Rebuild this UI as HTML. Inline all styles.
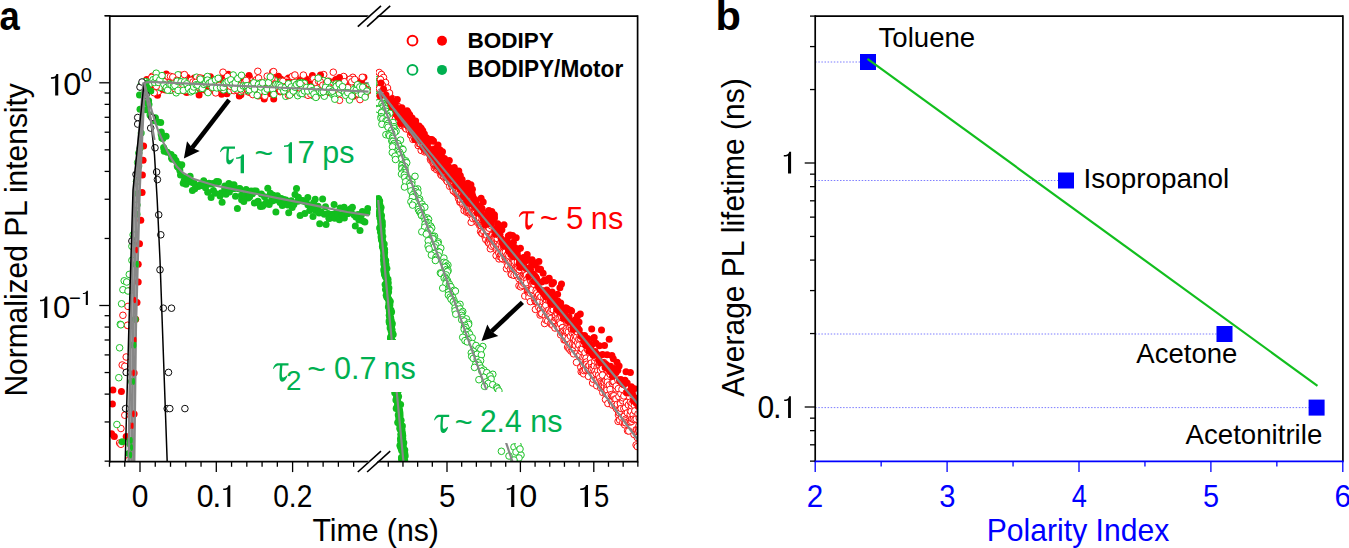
<!DOCTYPE html><html><head><meta charset="utf-8"><style>html,body{margin:0;padding:0;background:#fff;overflow:hidden}svg{display:block}</style></head><body><svg width="1349" height="548" viewBox="0 0 1349 548" font-family='"Liberation Sans", sans-serif'>
<rect width="1349" height="548" fill="#fff"/>
<defs><clipPath id="c1"><rect x="109.8" y="16.2" width="261.2" height="445.40000000000003"/></clipPath><clipPath id="c2"><rect x="376" y="16.2" width="261.6" height="445.40000000000003"/></clipPath></defs>
<g clip-path="url(#c1)"><polyline points="143.6,82.6 150.7,81.4 368.6,83.0" fill="none" stroke="#878787" stroke-width="2.2"/>
<circle cx="142.1" cy="192.6" r="3.5" fill="#ff0000"/>
<circle cx="140.8" cy="220.2" r="3.5" fill="#ff0000"/>
<circle cx="139.5" cy="243.7" r="3.5" fill="#ff0000"/>
<circle cx="138.2" cy="264.2" r="3.5" fill="#ff0000"/>
<circle cx="138.2" cy="282.0" r="3.5" fill="#ff0000"/>
<circle cx="137.0" cy="302.5" r="3.5" fill="#ff0000"/>
<circle cx="135.7" cy="319.2" r="3.5" fill="#ff0000"/>
<circle cx="112.9" cy="390.1" r="3.5" fill="#ff0000"/>
<circle cx="121.4" cy="391.4" r="3.5" fill="#ff0000"/>
<circle cx="112.4" cy="404.1" r="3.5" fill="#ff0000"/>
<circle cx="111.6" cy="433.8" r="3.5" fill="#ff0000"/>
<circle cx="114.3" cy="436.4" r="3.5" fill="#ff0000"/>
<circle cx="126.2" cy="436.4" r="3.5" fill="#ff0000"/>
<circle cx="134.1" cy="372.9" r="3.5" fill="#ff0000"/>
<circle cx="134.1" cy="413.9" r="3.5" fill="#ff0000"/>
<circle cx="131.5" cy="425.8" r="3.5" fill="#ff0000"/>
<circle cx="143.6" cy="145.9" r="3.5" fill="#ff0000"/>
<circle cx="143.1" cy="160.2" r="3.5" fill="#ff0000"/>
<circle cx="142.4" cy="175.0" r="3.5" fill="#ff0000"/>
<circle cx="145.5" cy="83.8" r="3.5" fill="#ff0000"/>
<circle cx="147.4" cy="86.0" r="3.5" fill="#ff0000"/>
<circle cx="150.0" cy="87.5" r="3.5" fill="#ff0000"/>
<circle cx="151.4" cy="81.9" r="3.5" fill="#ff0000"/>
<circle cx="154.3" cy="82.8" r="3.5" fill="#ff0000"/>
<circle cx="155.9" cy="80.2" r="3.5" fill="#ff0000"/>
<circle cx="157.5" cy="95.3" r="3.5" fill="#ff0000"/>
<circle cx="161.1" cy="83.9" r="3.5" fill="#ff0000"/>
<circle cx="162.4" cy="85.8" r="3.5" fill="#ff0000"/>
<circle cx="163.8" cy="79.6" r="3.5" fill="#ff0000"/>
<circle cx="166.3" cy="74.1" r="3.5" fill="#ff0000"/>
<circle cx="168.8" cy="81.1" r="3.5" fill="#ff0000"/>
<circle cx="170.9" cy="90.2" r="3.5" fill="#ff0000"/>
<circle cx="173.0" cy="84.6" r="3.5" fill="#ff0000"/>
<circle cx="175.1" cy="86.9" r="3.5" fill="#ff0000"/>
<circle cx="176.9" cy="85.3" r="3.5" fill="#ff0000"/>
<circle cx="180.0" cy="83.4" r="3.5" fill="#ff0000"/>
<circle cx="180.8" cy="89.8" r="3.5" fill="#ff0000"/>
<circle cx="183.8" cy="86.7" r="3.5" fill="#ff0000"/>
<circle cx="184.5" cy="90.2" r="3.5" fill="#ff0000"/>
<circle cx="187.3" cy="77.5" r="3.5" fill="#ff0000"/>
<circle cx="189.9" cy="83.2" r="3.5" fill="#ff0000"/>
<circle cx="191.2" cy="82.5" r="3.5" fill="#ff0000"/>
<circle cx="193.5" cy="84.1" r="3.5" fill="#ff0000"/>
<circle cx="196.3" cy="87.6" r="3.5" fill="#ff0000"/>
<circle cx="198.4" cy="82.5" r="3.5" fill="#ff0000"/>
<circle cx="200.5" cy="84.9" r="3.5" fill="#ff0000"/>
<circle cx="202.0" cy="78.3" r="3.5" fill="#ff0000"/>
<circle cx="204.2" cy="79.8" r="3.5" fill="#ff0000"/>
<circle cx="206.6" cy="91.1" r="3.5" fill="#ff0000"/>
<circle cx="208.8" cy="81.3" r="3.5" fill="#ff0000"/>
<circle cx="210.4" cy="76.8" r="3.5" fill="#ff0000"/>
<circle cx="212.4" cy="86.5" r="3.5" fill="#ff0000"/>
<circle cx="214.7" cy="82.8" r="3.5" fill="#ff0000"/>
<circle cx="217.5" cy="86.2" r="3.5" fill="#ff0000"/>
<circle cx="218.7" cy="85.6" r="3.5" fill="#ff0000"/>
<circle cx="221.1" cy="85.6" r="3.5" fill="#ff0000"/>
<circle cx="222.9" cy="77.7" r="3.5" fill="#ff0000"/>
<circle cx="225.1" cy="82.4" r="3.5" fill="#ff0000"/>
<circle cx="226.9" cy="93.7" r="3.5" fill="#ff0000"/>
<circle cx="229.8" cy="86.5" r="3.5" fill="#ff0000"/>
<circle cx="231.7" cy="86.5" r="3.5" fill="#ff0000"/>
<circle cx="233.6" cy="84.9" r="3.5" fill="#ff0000"/>
<circle cx="235.9" cy="79.9" r="3.5" fill="#ff0000"/>
<circle cx="238.1" cy="86.3" r="3.5" fill="#ff0000"/>
<circle cx="239.3" cy="95.9" r="3.5" fill="#ff0000"/>
<circle cx="242.5" cy="88.1" r="3.5" fill="#ff0000"/>
<circle cx="243.8" cy="88.1" r="3.5" fill="#ff0000"/>
<circle cx="245.8" cy="83.3" r="3.5" fill="#ff0000"/>
<circle cx="248.3" cy="85.3" r="3.5" fill="#ff0000"/>
<circle cx="250.1" cy="92.5" r="3.5" fill="#ff0000"/>
<circle cx="252.5" cy="85.0" r="3.5" fill="#ff0000"/>
<circle cx="255.1" cy="89.6" r="3.5" fill="#ff0000"/>
<circle cx="257.0" cy="84.1" r="3.5" fill="#ff0000"/>
<circle cx="258.8" cy="88.3" r="3.5" fill="#ff0000"/>
<circle cx="261.3" cy="86.2" r="3.5" fill="#ff0000"/>
<circle cx="263.4" cy="90.9" r="3.5" fill="#ff0000"/>
<circle cx="266.1" cy="84.2" r="3.5" fill="#ff0000"/>
<circle cx="267.8" cy="81.7" r="3.5" fill="#ff0000"/>
<circle cx="269.4" cy="84.2" r="3.5" fill="#ff0000"/>
<circle cx="271.6" cy="78.2" r="3.5" fill="#ff0000"/>
<circle cx="273.7" cy="99.0" r="3.5" fill="#ff0000"/>
<circle cx="275.5" cy="77.8" r="3.5" fill="#ff0000"/>
<circle cx="278.4" cy="76.2" r="3.5" fill="#ff0000"/>
<circle cx="280.7" cy="79.0" r="3.5" fill="#ff0000"/>
<circle cx="281.8" cy="80.0" r="3.5" fill="#ff0000"/>
<circle cx="283.9" cy="91.6" r="3.5" fill="#ff0000"/>
<circle cx="286.6" cy="84.1" r="3.5" fill="#ff0000"/>
<circle cx="288.5" cy="78.0" r="3.5" fill="#ff0000"/>
<circle cx="291.3" cy="87.1" r="3.5" fill="#ff0000"/>
<circle cx="292.7" cy="92.3" r="3.5" fill="#ff0000"/>
<circle cx="294.7" cy="91.9" r="3.5" fill="#ff0000"/>
<circle cx="296.8" cy="81.4" r="3.5" fill="#ff0000"/>
<circle cx="298.1" cy="81.7" r="3.5" fill="#ff0000"/>
<circle cx="301.3" cy="90.6" r="3.5" fill="#ff0000"/>
<circle cx="303.1" cy="90.5" r="3.5" fill="#ff0000"/>
<circle cx="304.7" cy="78.6" r="3.5" fill="#ff0000"/>
<circle cx="307.7" cy="85.0" r="3.5" fill="#ff0000"/>
<circle cx="309.9" cy="83.9" r="3.5" fill="#ff0000"/>
<circle cx="310.8" cy="89.3" r="3.5" fill="#ff0000"/>
<circle cx="313.5" cy="90.0" r="3.5" fill="#ff0000"/>
<circle cx="315.9" cy="88.4" r="3.5" fill="#ff0000"/>
<circle cx="317.8" cy="92.8" r="3.5" fill="#ff0000"/>
<circle cx="320.0" cy="85.8" r="3.5" fill="#ff0000"/>
<circle cx="321.6" cy="88.5" r="3.5" fill="#ff0000"/>
<circle cx="324.3" cy="86.6" r="3.5" fill="#ff0000"/>
<circle cx="325.9" cy="90.0" r="3.5" fill="#ff0000"/>
<circle cx="327.8" cy="91.4" r="3.5" fill="#ff0000"/>
<circle cx="330.4" cy="83.0" r="3.5" fill="#ff0000"/>
<circle cx="332.4" cy="81.9" r="3.5" fill="#ff0000"/>
<circle cx="334.0" cy="85.4" r="3.5" fill="#ff0000"/>
<circle cx="336.9" cy="82.6" r="3.5" fill="#ff0000"/>
<circle cx="339.3" cy="88.1" r="3.5" fill="#ff0000"/>
<circle cx="340.8" cy="83.1" r="3.5" fill="#ff0000"/>
<circle cx="343.3" cy="85.8" r="3.5" fill="#ff0000"/>
<circle cx="344.3" cy="77.2" r="3.5" fill="#ff0000"/>
<circle cx="347.1" cy="86.9" r="3.5" fill="#ff0000"/>
<circle cx="349.0" cy="82.9" r="3.5" fill="#ff0000"/>
<circle cx="351.1" cy="80.4" r="3.5" fill="#ff0000"/>
<circle cx="353.3" cy="96.2" r="3.5" fill="#ff0000"/>
<circle cx="356.3" cy="81.4" r="3.5" fill="#ff0000"/>
<circle cx="358.3" cy="84.0" r="3.5" fill="#ff0000"/>
<circle cx="359.3" cy="90.9" r="3.5" fill="#ff0000"/>
<circle cx="361.6" cy="80.4" r="3.5" fill="#ff0000"/>
<circle cx="363.9" cy="77.3" r="3.5" fill="#ff0000"/>
<circle cx="365.4" cy="95.9" r="3.5" fill="#ff0000"/>
<circle cx="368.2" cy="90.6" r="3.5" fill="#ff0000"/>
<circle cx="128.0" cy="306.4" r="3.3" fill="#fff" stroke="#ff0000" stroke-width="0.95"/>
<circle cx="122.9" cy="315.3" r="3.3" fill="#fff" stroke="#ff0000" stroke-width="0.95"/>
<circle cx="128.0" cy="325.5" r="3.3" fill="#fff" stroke="#ff0000" stroke-width="0.95"/>
<circle cx="127.5" cy="325.3" r="3.3" fill="#fff" stroke="#ff0000" stroke-width="0.95"/>
<circle cx="126.2" cy="357.0" r="3.3" fill="#fff" stroke="#ff0000" stroke-width="0.95"/>
<circle cx="122.2" cy="365.0" r="3.3" fill="#fff" stroke="#ff0000" stroke-width="0.95"/>
<circle cx="124.8" cy="366.3" r="3.3" fill="#fff" stroke="#ff0000" stroke-width="0.95"/>
<circle cx="124.8" cy="415.2" r="3.3" fill="#fff" stroke="#ff0000" stroke-width="0.95"/>
<circle cx="120.9" cy="428.5" r="3.3" fill="#fff" stroke="#ff0000" stroke-width="0.95"/>
<circle cx="119.6" cy="443.0" r="3.3" fill="#fff" stroke="#ff0000" stroke-width="0.95"/>
<circle cx="120.9" cy="444.3" r="3.3" fill="#fff" stroke="#ff0000" stroke-width="0.95"/>
<circle cx="128.8" cy="460.2" r="3.3" fill="#fff" stroke="#ff0000" stroke-width="0.95"/>
<circle cx="131.0" cy="290.0" r="3.3" fill="#fff" stroke="#ff0000" stroke-width="0.95"/>
<circle cx="135.0" cy="250.0" r="3.3" fill="#fff" stroke="#ff0000" stroke-width="0.95"/>
<circle cx="146.4" cy="85.4" r="3.3" fill="#fff" stroke="#ff0000" stroke-width="0.95"/>
<circle cx="148.3" cy="82.9" r="3.3" fill="#fff" stroke="#ff0000" stroke-width="0.95"/>
<circle cx="151.0" cy="82.2" r="3.3" fill="#fff" stroke="#ff0000" stroke-width="0.95"/>
<circle cx="152.3" cy="76.3" r="3.3" fill="#fff" stroke="#ff0000" stroke-width="0.95"/>
<circle cx="155.0" cy="83.5" r="3.3" fill="#fff" stroke="#ff0000" stroke-width="0.95"/>
<circle cx="158.4" cy="91.6" r="3.3" fill="#fff" stroke="#ff0000" stroke-width="0.95"/>
<circle cx="160.1" cy="80.7" r="3.3" fill="#fff" stroke="#ff0000" stroke-width="0.95"/>
<circle cx="162.4" cy="78.6" r="3.3" fill="#fff" stroke="#ff0000" stroke-width="0.95"/>
<circle cx="164.4" cy="85.1" r="3.3" fill="#fff" stroke="#ff0000" stroke-width="0.95"/>
<circle cx="166.2" cy="82.9" r="3.3" fill="#fff" stroke="#ff0000" stroke-width="0.95"/>
<circle cx="168.9" cy="86.2" r="3.3" fill="#fff" stroke="#ff0000" stroke-width="0.95"/>
<circle cx="171.2" cy="78.1" r="3.3" fill="#fff" stroke="#ff0000" stroke-width="0.95"/>
<circle cx="173.8" cy="89.7" r="3.3" fill="#fff" stroke="#ff0000" stroke-width="0.95"/>
<circle cx="176.6" cy="79.1" r="3.3" fill="#fff" stroke="#ff0000" stroke-width="0.95"/>
<circle cx="178.2" cy="84.6" r="3.3" fill="#fff" stroke="#ff0000" stroke-width="0.95"/>
<circle cx="180.4" cy="89.8" r="3.3" fill="#fff" stroke="#ff0000" stroke-width="0.95"/>
<circle cx="183.9" cy="90.7" r="3.3" fill="#fff" stroke="#ff0000" stroke-width="0.95"/>
<circle cx="185.4" cy="80.8" r="3.3" fill="#fff" stroke="#ff0000" stroke-width="0.95"/>
<circle cx="187.7" cy="82.2" r="3.3" fill="#fff" stroke="#ff0000" stroke-width="0.95"/>
<circle cx="190.2" cy="82.1" r="3.3" fill="#fff" stroke="#ff0000" stroke-width="0.95"/>
<circle cx="192.2" cy="83.7" r="3.3" fill="#fff" stroke="#ff0000" stroke-width="0.95"/>
<circle cx="194.4" cy="83.6" r="3.3" fill="#fff" stroke="#ff0000" stroke-width="0.95"/>
<circle cx="196.7" cy="85.3" r="3.3" fill="#fff" stroke="#ff0000" stroke-width="0.95"/>
<circle cx="198.9" cy="90.2" r="3.3" fill="#fff" stroke="#ff0000" stroke-width="0.95"/>
<circle cx="200.6" cy="83.0" r="3.3" fill="#fff" stroke="#ff0000" stroke-width="0.95"/>
<circle cx="203.6" cy="79.8" r="3.3" fill="#fff" stroke="#ff0000" stroke-width="0.95"/>
<circle cx="206.4" cy="85.1" r="3.3" fill="#fff" stroke="#ff0000" stroke-width="0.95"/>
<circle cx="208.5" cy="79.9" r="3.3" fill="#fff" stroke="#ff0000" stroke-width="0.95"/>
<circle cx="210.7" cy="87.2" r="3.3" fill="#fff" stroke="#ff0000" stroke-width="0.95"/>
<circle cx="212.4" cy="81.9" r="3.3" fill="#fff" stroke="#ff0000" stroke-width="0.95"/>
<circle cx="215.4" cy="85.2" r="3.3" fill="#fff" stroke="#ff0000" stroke-width="0.95"/>
<circle cx="217.7" cy="90.1" r="3.3" fill="#fff" stroke="#ff0000" stroke-width="0.95"/>
<circle cx="219.5" cy="87.2" r="3.3" fill="#fff" stroke="#ff0000" stroke-width="0.95"/>
<circle cx="221.9" cy="86.8" r="3.3" fill="#fff" stroke="#ff0000" stroke-width="0.95"/>
<circle cx="224.7" cy="81.9" r="3.3" fill="#fff" stroke="#ff0000" stroke-width="0.95"/>
<circle cx="226.2" cy="86.6" r="3.3" fill="#fff" stroke="#ff0000" stroke-width="0.95"/>
<circle cx="228.6" cy="84.3" r="3.3" fill="#fff" stroke="#ff0000" stroke-width="0.95"/>
<circle cx="231.4" cy="87.8" r="3.3" fill="#fff" stroke="#ff0000" stroke-width="0.95"/>
<circle cx="233.9" cy="85.8" r="3.3" fill="#fff" stroke="#ff0000" stroke-width="0.95"/>
<circle cx="235.5" cy="88.7" r="3.3" fill="#fff" stroke="#ff0000" stroke-width="0.95"/>
<circle cx="238.8" cy="89.8" r="3.3" fill="#fff" stroke="#ff0000" stroke-width="0.95"/>
<circle cx="240.3" cy="84.0" r="3.3" fill="#fff" stroke="#ff0000" stroke-width="0.95"/>
<circle cx="242.9" cy="80.1" r="3.3" fill="#fff" stroke="#ff0000" stroke-width="0.95"/>
<circle cx="244.9" cy="78.7" r="3.3" fill="#fff" stroke="#ff0000" stroke-width="0.95"/>
<circle cx="248.0" cy="91.8" r="3.3" fill="#fff" stroke="#ff0000" stroke-width="0.95"/>
<circle cx="249.6" cy="77.9" r="3.3" fill="#fff" stroke="#ff0000" stroke-width="0.95"/>
<circle cx="252.0" cy="90.4" r="3.3" fill="#fff" stroke="#ff0000" stroke-width="0.95"/>
<circle cx="254.5" cy="84.5" r="3.3" fill="#fff" stroke="#ff0000" stroke-width="0.95"/>
<circle cx="256.4" cy="79.8" r="3.3" fill="#fff" stroke="#ff0000" stroke-width="0.95"/>
<circle cx="258.6" cy="78.1" r="3.3" fill="#fff" stroke="#ff0000" stroke-width="0.95"/>
<circle cx="261.0" cy="82.7" r="3.3" fill="#fff" stroke="#ff0000" stroke-width="0.95"/>
<circle cx="264.1" cy="85.0" r="3.3" fill="#fff" stroke="#ff0000" stroke-width="0.95"/>
<circle cx="265.6" cy="90.1" r="3.3" fill="#fff" stroke="#ff0000" stroke-width="0.95"/>
<circle cx="268.9" cy="80.5" r="3.3" fill="#fff" stroke="#ff0000" stroke-width="0.95"/>
<circle cx="270.1" cy="83.4" r="3.3" fill="#fff" stroke="#ff0000" stroke-width="0.95"/>
<circle cx="272.7" cy="72.0" r="3.3" fill="#fff" stroke="#ff0000" stroke-width="0.95"/>
<circle cx="274.8" cy="86.1" r="3.3" fill="#fff" stroke="#ff0000" stroke-width="0.95"/>
<circle cx="277.0" cy="82.3" r="3.3" fill="#fff" stroke="#ff0000" stroke-width="0.95"/>
<circle cx="280.1" cy="91.7" r="3.3" fill="#fff" stroke="#ff0000" stroke-width="0.95"/>
<circle cx="282.3" cy="84.8" r="3.3" fill="#fff" stroke="#ff0000" stroke-width="0.95"/>
<circle cx="283.9" cy="89.5" r="3.3" fill="#fff" stroke="#ff0000" stroke-width="0.95"/>
<circle cx="286.2" cy="80.1" r="3.3" fill="#fff" stroke="#ff0000" stroke-width="0.95"/>
<circle cx="289.1" cy="85.3" r="3.3" fill="#fff" stroke="#ff0000" stroke-width="0.95"/>
<circle cx="290.6" cy="85.4" r="3.3" fill="#fff" stroke="#ff0000" stroke-width="0.95"/>
<circle cx="293.4" cy="92.2" r="3.3" fill="#fff" stroke="#ff0000" stroke-width="0.95"/>
<circle cx="296.2" cy="78.3" r="3.3" fill="#fff" stroke="#ff0000" stroke-width="0.95"/>
<circle cx="297.6" cy="92.4" r="3.3" fill="#fff" stroke="#ff0000" stroke-width="0.95"/>
<circle cx="299.7" cy="80.5" r="3.3" fill="#fff" stroke="#ff0000" stroke-width="0.95"/>
<circle cx="302.5" cy="86.3" r="3.3" fill="#fff" stroke="#ff0000" stroke-width="0.95"/>
<circle cx="304.4" cy="85.0" r="3.3" fill="#fff" stroke="#ff0000" stroke-width="0.95"/>
<circle cx="306.6" cy="80.4" r="3.3" fill="#fff" stroke="#ff0000" stroke-width="0.95"/>
<circle cx="309.1" cy="82.2" r="3.3" fill="#fff" stroke="#ff0000" stroke-width="0.95"/>
<circle cx="312.1" cy="90.4" r="3.3" fill="#fff" stroke="#ff0000" stroke-width="0.95"/>
<circle cx="314.3" cy="84.7" r="3.3" fill="#fff" stroke="#ff0000" stroke-width="0.95"/>
<circle cx="316.8" cy="96.2" r="3.3" fill="#fff" stroke="#ff0000" stroke-width="0.95"/>
<circle cx="318.5" cy="89.1" r="3.3" fill="#fff" stroke="#ff0000" stroke-width="0.95"/>
<circle cx="321.6" cy="82.0" r="3.3" fill="#fff" stroke="#ff0000" stroke-width="0.95"/>
<circle cx="323.7" cy="74.6" r="3.3" fill="#fff" stroke="#ff0000" stroke-width="0.95"/>
<circle cx="324.7" cy="93.5" r="3.3" fill="#fff" stroke="#ff0000" stroke-width="0.95"/>
<circle cx="328.3" cy="86.4" r="3.3" fill="#fff" stroke="#ff0000" stroke-width="0.95"/>
<circle cx="330.1" cy="90.1" r="3.3" fill="#fff" stroke="#ff0000" stroke-width="0.95"/>
<circle cx="332.7" cy="83.2" r="3.3" fill="#fff" stroke="#ff0000" stroke-width="0.95"/>
<circle cx="335.4" cy="86.7" r="3.3" fill="#fff" stroke="#ff0000" stroke-width="0.95"/>
<circle cx="336.8" cy="97.9" r="3.3" fill="#fff" stroke="#ff0000" stroke-width="0.95"/>
<circle cx="339.4" cy="84.0" r="3.3" fill="#fff" stroke="#ff0000" stroke-width="0.95"/>
<circle cx="341.8" cy="84.4" r="3.3" fill="#fff" stroke="#ff0000" stroke-width="0.95"/>
<circle cx="343.6" cy="76.5" r="3.3" fill="#fff" stroke="#ff0000" stroke-width="0.95"/>
<circle cx="346.5" cy="84.3" r="3.3" fill="#fff" stroke="#ff0000" stroke-width="0.95"/>
<circle cx="348.0" cy="86.0" r="3.3" fill="#fff" stroke="#ff0000" stroke-width="0.95"/>
<circle cx="350.6" cy="80.2" r="3.3" fill="#fff" stroke="#ff0000" stroke-width="0.95"/>
<circle cx="352.8" cy="77.3" r="3.3" fill="#fff" stroke="#ff0000" stroke-width="0.95"/>
<circle cx="355.4" cy="84.5" r="3.3" fill="#fff" stroke="#ff0000" stroke-width="0.95"/>
<circle cx="357.7" cy="90.0" r="3.3" fill="#fff" stroke="#ff0000" stroke-width="0.95"/>
<circle cx="360.0" cy="99.6" r="3.3" fill="#fff" stroke="#ff0000" stroke-width="0.95"/>
<circle cx="362.3" cy="77.3" r="3.3" fill="#fff" stroke="#ff0000" stroke-width="0.95"/>
<circle cx="365.2" cy="89.7" r="3.3" fill="#fff" stroke="#ff0000" stroke-width="0.95"/>
<circle cx="367.0" cy="89.2" r="3.3" fill="#fff" stroke="#ff0000" stroke-width="0.95"/>
<circle cx="146.7" cy="79.5" r="3.5" fill="#ff0000"/>
<circle cx="148.4" cy="82.2" r="3.5" fill="#ff0000"/>
<circle cx="150.5" cy="82.3" r="3.5" fill="#ff0000"/>
<circle cx="153.0" cy="82.9" r="3.5" fill="#ff0000"/>
<circle cx="154.7" cy="83.5" r="3.5" fill="#ff0000"/>
<circle cx="157.0" cy="84.6" r="3.5" fill="#ff0000"/>
<circle cx="159.8" cy="82.4" r="3.5" fill="#ff0000"/>
<circle cx="161.7" cy="77.0" r="3.5" fill="#ff0000"/>
<circle cx="162.6" cy="89.3" r="3.5" fill="#ff0000"/>
<circle cx="165.5" cy="90.1" r="3.5" fill="#ff0000"/>
<circle cx="167.7" cy="80.1" r="3.5" fill="#ff0000"/>
<circle cx="169.8" cy="77.3" r="3.5" fill="#ff0000"/>
<circle cx="170.7" cy="82.2" r="3.5" fill="#ff0000"/>
<circle cx="174.6" cy="82.7" r="3.5" fill="#ff0000"/>
<circle cx="175.7" cy="83.1" r="3.5" fill="#ff0000"/>
<circle cx="178.0" cy="81.8" r="3.5" fill="#ff0000"/>
<circle cx="180.3" cy="75.0" r="3.5" fill="#ff0000"/>
<circle cx="182.3" cy="77.8" r="3.5" fill="#ff0000"/>
<circle cx="184.1" cy="90.4" r="3.5" fill="#ff0000"/>
<circle cx="186.7" cy="92.6" r="3.5" fill="#ff0000"/>
<circle cx="188.8" cy="85.5" r="3.5" fill="#ff0000"/>
<circle cx="190.8" cy="87.7" r="3.5" fill="#ff0000"/>
<circle cx="192.8" cy="84.0" r="3.5" fill="#ff0000"/>
<circle cx="194.3" cy="78.1" r="3.5" fill="#ff0000"/>
<circle cx="196.4" cy="89.3" r="3.5" fill="#ff0000"/>
<circle cx="199.1" cy="95.0" r="3.5" fill="#ff0000"/>
<circle cx="201.0" cy="86.2" r="3.5" fill="#ff0000"/>
<circle cx="203.3" cy="89.6" r="3.5" fill="#ff0000"/>
<circle cx="205.8" cy="86.6" r="3.5" fill="#ff0000"/>
<circle cx="207.5" cy="86.9" r="3.5" fill="#ff0000"/>
<circle cx="209.4" cy="90.6" r="3.5" fill="#ff0000"/>
<circle cx="211.7" cy="80.3" r="3.5" fill="#ff0000"/>
<circle cx="213.2" cy="83.5" r="3.5" fill="#ff0000"/>
<circle cx="215.4" cy="90.3" r="3.5" fill="#ff0000"/>
<circle cx="217.8" cy="79.4" r="3.5" fill="#ff0000"/>
<circle cx="220.0" cy="78.3" r="3.5" fill="#ff0000"/>
<circle cx="221.6" cy="94.2" r="3.5" fill="#ff0000"/>
<circle cx="224.3" cy="83.9" r="3.5" fill="#ff0000"/>
<circle cx="226.1" cy="86.4" r="3.5" fill="#ff0000"/>
<circle cx="228.3" cy="74.3" r="3.5" fill="#ff0000"/>
<circle cx="230.6" cy="83.0" r="3.5" fill="#ff0000"/>
<circle cx="232.8" cy="81.0" r="3.5" fill="#ff0000"/>
<circle cx="235.1" cy="88.7" r="3.5" fill="#ff0000"/>
<circle cx="236.8" cy="85.9" r="3.5" fill="#ff0000"/>
<circle cx="239.1" cy="91.2" r="3.5" fill="#ff0000"/>
<circle cx="240.9" cy="94.8" r="3.5" fill="#ff0000"/>
<circle cx="242.6" cy="82.2" r="3.5" fill="#ff0000"/>
<circle cx="245.3" cy="81.7" r="3.5" fill="#ff0000"/>
<circle cx="247.4" cy="81.6" r="3.5" fill="#ff0000"/>
<circle cx="249.0" cy="75.6" r="3.5" fill="#ff0000"/>
<circle cx="251.5" cy="83.9" r="3.5" fill="#ff0000"/>
<circle cx="253.4" cy="93.5" r="3.5" fill="#ff0000"/>
<circle cx="255.9" cy="85.7" r="3.5" fill="#ff0000"/>
<circle cx="258.3" cy="96.0" r="3.5" fill="#ff0000"/>
<circle cx="260.3" cy="88.4" r="3.5" fill="#ff0000"/>
<circle cx="262.2" cy="93.5" r="3.5" fill="#ff0000"/>
<circle cx="264.2" cy="98.9" r="3.5" fill="#ff0000"/>
<circle cx="266.7" cy="80.9" r="3.5" fill="#ff0000"/>
<circle cx="268.7" cy="92.2" r="3.5" fill="#ff0000"/>
<circle cx="270.7" cy="93.7" r="3.5" fill="#ff0000"/>
<circle cx="272.8" cy="87.9" r="3.5" fill="#ff0000"/>
<circle cx="274.7" cy="90.0" r="3.5" fill="#ff0000"/>
<circle cx="276.2" cy="82.1" r="3.5" fill="#ff0000"/>
<circle cx="278.9" cy="85.9" r="3.5" fill="#ff0000"/>
<circle cx="280.7" cy="89.0" r="3.5" fill="#ff0000"/>
<circle cx="283.3" cy="87.7" r="3.5" fill="#ff0000"/>
<circle cx="285.5" cy="92.7" r="3.5" fill="#ff0000"/>
<circle cx="286.7" cy="81.9" r="3.5" fill="#ff0000"/>
<circle cx="288.7" cy="84.3" r="3.5" fill="#ff0000"/>
<circle cx="291.9" cy="80.3" r="3.5" fill="#ff0000"/>
<circle cx="293.9" cy="86.2" r="3.5" fill="#ff0000"/>
<circle cx="295.6" cy="87.6" r="3.5" fill="#ff0000"/>
<circle cx="297.7" cy="84.9" r="3.5" fill="#ff0000"/>
<circle cx="299.9" cy="80.7" r="3.5" fill="#ff0000"/>
<circle cx="301.8" cy="89.4" r="3.5" fill="#ff0000"/>
<circle cx="303.9" cy="80.5" r="3.5" fill="#ff0000"/>
<circle cx="306.3" cy="79.0" r="3.5" fill="#ff0000"/>
<circle cx="307.7" cy="83.6" r="3.5" fill="#ff0000"/>
<circle cx="310.6" cy="83.9" r="3.5" fill="#ff0000"/>
<circle cx="312.4" cy="75.5" r="3.5" fill="#ff0000"/>
<circle cx="314.2" cy="88.2" r="3.5" fill="#ff0000"/>
<circle cx="316.2" cy="78.7" r="3.5" fill="#ff0000"/>
<circle cx="318.8" cy="82.4" r="3.5" fill="#ff0000"/>
<circle cx="320.5" cy="75.0" r="3.5" fill="#ff0000"/>
<circle cx="322.7" cy="82.3" r="3.5" fill="#ff0000"/>
<circle cx="324.7" cy="82.1" r="3.5" fill="#ff0000"/>
<circle cx="327.6" cy="92.5" r="3.5" fill="#ff0000"/>
<circle cx="328.5" cy="81.0" r="3.5" fill="#ff0000"/>
<circle cx="331.3" cy="85.9" r="3.5" fill="#ff0000"/>
<circle cx="333.7" cy="85.1" r="3.5" fill="#ff0000"/>
<circle cx="335.8" cy="79.4" r="3.5" fill="#ff0000"/>
<circle cx="337.9" cy="87.7" r="3.5" fill="#ff0000"/>
<circle cx="339.5" cy="77.6" r="3.5" fill="#ff0000"/>
<circle cx="342.4" cy="88.9" r="3.5" fill="#ff0000"/>
<circle cx="343.5" cy="81.8" r="3.5" fill="#ff0000"/>
<circle cx="346.4" cy="85.1" r="3.5" fill="#ff0000"/>
<circle cx="348.5" cy="89.8" r="3.5" fill="#ff0000"/>
<circle cx="350.7" cy="90.6" r="3.5" fill="#ff0000"/>
<circle cx="352.5" cy="88.6" r="3.5" fill="#ff0000"/>
<circle cx="354.6" cy="85.2" r="3.5" fill="#ff0000"/>
<circle cx="356.6" cy="82.3" r="3.5" fill="#ff0000"/>
<circle cx="358.7" cy="87.1" r="3.5" fill="#ff0000"/>
<circle cx="361.7" cy="88.1" r="3.5" fill="#ff0000"/>
<circle cx="362.7" cy="86.2" r="3.5" fill="#ff0000"/>
<circle cx="365.7" cy="87.4" r="3.5" fill="#ff0000"/>
<circle cx="366.9" cy="89.2" r="3.5" fill="#ff0000"/>
<circle cx="133.1" cy="234.8" r="3.3" fill="#fff" stroke="#12be1e" stroke-width="0.95"/>
<circle cx="131.9" cy="246.3" r="3.3" fill="#fff" stroke="#12be1e" stroke-width="0.95"/>
<circle cx="131.9" cy="260.3" r="3.3" fill="#fff" stroke="#12be1e" stroke-width="0.95"/>
<circle cx="129.3" cy="274.4" r="3.3" fill="#fff" stroke="#12be1e" stroke-width="0.95"/>
<circle cx="124.2" cy="280.8" r="3.3" fill="#fff" stroke="#12be1e" stroke-width="0.95"/>
<circle cx="126.7" cy="282.0" r="3.3" fill="#fff" stroke="#12be1e" stroke-width="0.95"/>
<circle cx="122.9" cy="289.7" r="3.3" fill="#fff" stroke="#12be1e" stroke-width="0.95"/>
<circle cx="128.0" cy="291.0" r="3.3" fill="#fff" stroke="#12be1e" stroke-width="0.95"/>
<circle cx="121.6" cy="303.8" r="3.3" fill="#fff" stroke="#12be1e" stroke-width="0.95"/>
<circle cx="120.3" cy="324.3" r="3.3" fill="#fff" stroke="#12be1e" stroke-width="0.95"/>
<circle cx="120.9" cy="324.8" r="3.3" fill="#fff" stroke="#12be1e" stroke-width="0.95"/>
<circle cx="119.6" cy="347.8" r="3.3" fill="#fff" stroke="#12be1e" stroke-width="0.95"/>
<circle cx="118.8" cy="377.7" r="3.3" fill="#fff" stroke="#12be1e" stroke-width="0.95"/>
<circle cx="116.9" cy="424.5" r="3.3" fill="#fff" stroke="#12be1e" stroke-width="0.95"/>
<circle cx="138.8" cy="153.0" r="3.3" fill="#fff" stroke="#12be1e" stroke-width="0.95"/>
<circle cx="137.7" cy="162.5" r="3.3" fill="#fff" stroke="#12be1e" stroke-width="0.95"/>
<circle cx="136.5" cy="181.5" r="3.3" fill="#fff" stroke="#12be1e" stroke-width="0.95"/>
<circle cx="137.0" cy="205.0" r="3.3" fill="#fff" stroke="#12be1e" stroke-width="0.95"/>
<circle cx="145.5" cy="81.5" r="3.3" fill="#fff" stroke="#12be1e" stroke-width="0.95"/>
<circle cx="147.7" cy="83.1" r="3.3" fill="#fff" stroke="#12be1e" stroke-width="0.95"/>
<circle cx="149.8" cy="81.3" r="3.3" fill="#fff" stroke="#12be1e" stroke-width="0.95"/>
<circle cx="150.8" cy="81.3" r="3.3" fill="#fff" stroke="#12be1e" stroke-width="0.95"/>
<circle cx="153.4" cy="83.3" r="3.3" fill="#fff" stroke="#12be1e" stroke-width="0.95"/>
<circle cx="156.2" cy="73.2" r="3.3" fill="#fff" stroke="#12be1e" stroke-width="0.95"/>
<circle cx="157.2" cy="81.9" r="3.3" fill="#fff" stroke="#12be1e" stroke-width="0.95"/>
<circle cx="159.1" cy="87.2" r="3.3" fill="#fff" stroke="#12be1e" stroke-width="0.95"/>
<circle cx="160.6" cy="87.2" r="3.3" fill="#fff" stroke="#12be1e" stroke-width="0.95"/>
<circle cx="163.1" cy="81.0" r="3.3" fill="#fff" stroke="#12be1e" stroke-width="0.95"/>
<circle cx="165.3" cy="88.6" r="3.3" fill="#fff" stroke="#12be1e" stroke-width="0.95"/>
<circle cx="167.3" cy="84.1" r="3.3" fill="#fff" stroke="#12be1e" stroke-width="0.95"/>
<circle cx="168.6" cy="77.8" r="3.3" fill="#fff" stroke="#12be1e" stroke-width="0.95"/>
<circle cx="169.9" cy="90.4" r="3.3" fill="#fff" stroke="#12be1e" stroke-width="0.95"/>
<circle cx="171.7" cy="85.6" r="3.3" fill="#fff" stroke="#12be1e" stroke-width="0.95"/>
<circle cx="174.7" cy="82.0" r="3.3" fill="#fff" stroke="#12be1e" stroke-width="0.95"/>
<circle cx="176.2" cy="92.8" r="3.3" fill="#fff" stroke="#12be1e" stroke-width="0.95"/>
<circle cx="178.0" cy="74.8" r="3.3" fill="#fff" stroke="#12be1e" stroke-width="0.95"/>
<circle cx="180.6" cy="88.8" r="3.3" fill="#fff" stroke="#12be1e" stroke-width="0.95"/>
<circle cx="181.8" cy="87.8" r="3.3" fill="#fff" stroke="#12be1e" stroke-width="0.95"/>
<circle cx="183.6" cy="77.3" r="3.3" fill="#fff" stroke="#12be1e" stroke-width="0.95"/>
<circle cx="186.0" cy="86.3" r="3.3" fill="#fff" stroke="#12be1e" stroke-width="0.95"/>
<circle cx="187.3" cy="83.8" r="3.3" fill="#fff" stroke="#12be1e" stroke-width="0.95"/>
<circle cx="189.3" cy="83.3" r="3.3" fill="#fff" stroke="#12be1e" stroke-width="0.95"/>
<circle cx="191.4" cy="80.7" r="3.3" fill="#fff" stroke="#12be1e" stroke-width="0.95"/>
<circle cx="193.9" cy="81.7" r="3.3" fill="#fff" stroke="#12be1e" stroke-width="0.95"/>
<circle cx="194.8" cy="90.1" r="3.3" fill="#fff" stroke="#12be1e" stroke-width="0.95"/>
<circle cx="196.7" cy="77.2" r="3.3" fill="#fff" stroke="#12be1e" stroke-width="0.95"/>
<circle cx="198.9" cy="87.6" r="3.3" fill="#fff" stroke="#12be1e" stroke-width="0.95"/>
<circle cx="200.8" cy="88.5" r="3.3" fill="#fff" stroke="#12be1e" stroke-width="0.95"/>
<circle cx="203.5" cy="84.0" r="3.3" fill="#fff" stroke="#12be1e" stroke-width="0.95"/>
<circle cx="205.5" cy="80.9" r="3.3" fill="#fff" stroke="#12be1e" stroke-width="0.95"/>
<circle cx="207.4" cy="76.5" r="3.3" fill="#fff" stroke="#12be1e" stroke-width="0.95"/>
<circle cx="208.0" cy="92.6" r="3.3" fill="#fff" stroke="#12be1e" stroke-width="0.95"/>
<circle cx="210.5" cy="85.7" r="3.3" fill="#fff" stroke="#12be1e" stroke-width="0.95"/>
<circle cx="212.5" cy="88.1" r="3.3" fill="#fff" stroke="#12be1e" stroke-width="0.95"/>
<circle cx="214.0" cy="85.8" r="3.3" fill="#fff" stroke="#12be1e" stroke-width="0.95"/>
<circle cx="215.3" cy="82.9" r="3.3" fill="#fff" stroke="#12be1e" stroke-width="0.95"/>
<circle cx="218.6" cy="87.8" r="3.3" fill="#fff" stroke="#12be1e" stroke-width="0.95"/>
<circle cx="220.3" cy="85.8" r="3.3" fill="#fff" stroke="#12be1e" stroke-width="0.95"/>
<circle cx="222.5" cy="87.8" r="3.3" fill="#fff" stroke="#12be1e" stroke-width="0.95"/>
<circle cx="223.5" cy="89.9" r="3.3" fill="#fff" stroke="#12be1e" stroke-width="0.95"/>
<circle cx="225.3" cy="85.5" r="3.3" fill="#fff" stroke="#12be1e" stroke-width="0.95"/>
<circle cx="227.4" cy="84.2" r="3.3" fill="#fff" stroke="#12be1e" stroke-width="0.95"/>
<circle cx="230.4" cy="90.6" r="3.3" fill="#fff" stroke="#12be1e" stroke-width="0.95"/>
<circle cx="231.4" cy="81.0" r="3.3" fill="#fff" stroke="#12be1e" stroke-width="0.95"/>
<circle cx="233.2" cy="75.0" r="3.3" fill="#fff" stroke="#12be1e" stroke-width="0.95"/>
<circle cx="235.3" cy="85.7" r="3.3" fill="#fff" stroke="#12be1e" stroke-width="0.95"/>
<circle cx="237.0" cy="89.1" r="3.3" fill="#fff" stroke="#12be1e" stroke-width="0.95"/>
<circle cx="239.4" cy="83.9" r="3.3" fill="#fff" stroke="#12be1e" stroke-width="0.95"/>
<circle cx="240.7" cy="91.6" r="3.3" fill="#fff" stroke="#12be1e" stroke-width="0.95"/>
<circle cx="242.5" cy="85.5" r="3.3" fill="#fff" stroke="#12be1e" stroke-width="0.95"/>
<circle cx="244.6" cy="83.5" r="3.3" fill="#fff" stroke="#12be1e" stroke-width="0.95"/>
<circle cx="246.6" cy="86.3" r="3.3" fill="#fff" stroke="#12be1e" stroke-width="0.95"/>
<circle cx="248.3" cy="90.8" r="3.3" fill="#fff" stroke="#12be1e" stroke-width="0.95"/>
<circle cx="250.1" cy="91.2" r="3.3" fill="#fff" stroke="#12be1e" stroke-width="0.95"/>
<circle cx="252.3" cy="87.7" r="3.3" fill="#fff" stroke="#12be1e" stroke-width="0.95"/>
<circle cx="254.2" cy="84.5" r="3.3" fill="#fff" stroke="#12be1e" stroke-width="0.95"/>
<circle cx="255.4" cy="85.3" r="3.3" fill="#fff" stroke="#12be1e" stroke-width="0.95"/>
<circle cx="257.4" cy="83.5" r="3.3" fill="#fff" stroke="#12be1e" stroke-width="0.95"/>
<circle cx="260.0" cy="87.0" r="3.3" fill="#fff" stroke="#12be1e" stroke-width="0.95"/>
<circle cx="261.5" cy="85.3" r="3.3" fill="#fff" stroke="#12be1e" stroke-width="0.95"/>
<circle cx="263.4" cy="84.1" r="3.3" fill="#fff" stroke="#12be1e" stroke-width="0.95"/>
<circle cx="265.6" cy="84.3" r="3.3" fill="#fff" stroke="#12be1e" stroke-width="0.95"/>
<circle cx="267.4" cy="79.7" r="3.3" fill="#fff" stroke="#12be1e" stroke-width="0.95"/>
<circle cx="270.0" cy="84.7" r="3.3" fill="#fff" stroke="#12be1e" stroke-width="0.95"/>
<circle cx="271.6" cy="84.1" r="3.3" fill="#fff" stroke="#12be1e" stroke-width="0.95"/>
<circle cx="273.0" cy="87.2" r="3.3" fill="#fff" stroke="#12be1e" stroke-width="0.95"/>
<circle cx="274.3" cy="80.2" r="3.3" fill="#fff" stroke="#12be1e" stroke-width="0.95"/>
<circle cx="276.9" cy="86.0" r="3.3" fill="#fff" stroke="#12be1e" stroke-width="0.95"/>
<circle cx="278.9" cy="87.1" r="3.3" fill="#fff" stroke="#12be1e" stroke-width="0.95"/>
<circle cx="281.2" cy="81.4" r="3.3" fill="#fff" stroke="#12be1e" stroke-width="0.95"/>
<circle cx="282.7" cy="91.5" r="3.3" fill="#fff" stroke="#12be1e" stroke-width="0.95"/>
<circle cx="284.9" cy="92.2" r="3.3" fill="#fff" stroke="#12be1e" stroke-width="0.95"/>
<circle cx="285.8" cy="96.3" r="3.3" fill="#fff" stroke="#12be1e" stroke-width="0.95"/>
<circle cx="288.2" cy="89.0" r="3.3" fill="#fff" stroke="#12be1e" stroke-width="0.95"/>
<circle cx="290.1" cy="89.7" r="3.3" fill="#fff" stroke="#12be1e" stroke-width="0.95"/>
<circle cx="291.7" cy="86.1" r="3.3" fill="#fff" stroke="#12be1e" stroke-width="0.95"/>
<circle cx="294.1" cy="82.6" r="3.3" fill="#fff" stroke="#12be1e" stroke-width="0.95"/>
<circle cx="296.2" cy="90.7" r="3.3" fill="#fff" stroke="#12be1e" stroke-width="0.95"/>
<circle cx="297.7" cy="95.7" r="3.3" fill="#fff" stroke="#12be1e" stroke-width="0.95"/>
<circle cx="300.1" cy="93.2" r="3.3" fill="#fff" stroke="#12be1e" stroke-width="0.95"/>
<circle cx="301.6" cy="82.5" r="3.3" fill="#fff" stroke="#12be1e" stroke-width="0.95"/>
<circle cx="304.4" cy="83.3" r="3.3" fill="#fff" stroke="#12be1e" stroke-width="0.95"/>
<circle cx="305.6" cy="94.2" r="3.3" fill="#fff" stroke="#12be1e" stroke-width="0.95"/>
<circle cx="306.8" cy="89.9" r="3.3" fill="#fff" stroke="#12be1e" stroke-width="0.95"/>
<circle cx="308.8" cy="92.4" r="3.3" fill="#fff" stroke="#12be1e" stroke-width="0.95"/>
<circle cx="311.5" cy="87.3" r="3.3" fill="#fff" stroke="#12be1e" stroke-width="0.95"/>
<circle cx="313.1" cy="95.7" r="3.3" fill="#fff" stroke="#12be1e" stroke-width="0.95"/>
<circle cx="315.3" cy="86.5" r="3.3" fill="#fff" stroke="#12be1e" stroke-width="0.95"/>
<circle cx="316.9" cy="88.3" r="3.3" fill="#fff" stroke="#12be1e" stroke-width="0.95"/>
<circle cx="318.6" cy="92.4" r="3.3" fill="#fff" stroke="#12be1e" stroke-width="0.95"/>
<circle cx="320.7" cy="84.0" r="3.3" fill="#fff" stroke="#12be1e" stroke-width="0.95"/>
<circle cx="323.6" cy="80.7" r="3.3" fill="#fff" stroke="#12be1e" stroke-width="0.95"/>
<circle cx="324.3" cy="96.2" r="3.3" fill="#fff" stroke="#12be1e" stroke-width="0.95"/>
<circle cx="326.6" cy="91.2" r="3.3" fill="#fff" stroke="#12be1e" stroke-width="0.95"/>
<circle cx="328.6" cy="87.5" r="3.3" fill="#fff" stroke="#12be1e" stroke-width="0.95"/>
<circle cx="330.2" cy="85.0" r="3.3" fill="#fff" stroke="#12be1e" stroke-width="0.95"/>
<circle cx="332.7" cy="94.6" r="3.3" fill="#fff" stroke="#12be1e" stroke-width="0.95"/>
<circle cx="334.1" cy="94.0" r="3.3" fill="#fff" stroke="#12be1e" stroke-width="0.95"/>
<circle cx="336.2" cy="83.9" r="3.3" fill="#fff" stroke="#12be1e" stroke-width="0.95"/>
<circle cx="338.0" cy="91.2" r="3.3" fill="#fff" stroke="#12be1e" stroke-width="0.95"/>
<circle cx="339.4" cy="93.1" r="3.3" fill="#fff" stroke="#12be1e" stroke-width="0.95"/>
<circle cx="341.7" cy="88.4" r="3.3" fill="#fff" stroke="#12be1e" stroke-width="0.95"/>
<circle cx="342.9" cy="90.8" r="3.3" fill="#fff" stroke="#12be1e" stroke-width="0.95"/>
<circle cx="345.3" cy="89.6" r="3.3" fill="#fff" stroke="#12be1e" stroke-width="0.95"/>
<circle cx="347.3" cy="93.9" r="3.3" fill="#fff" stroke="#12be1e" stroke-width="0.95"/>
<circle cx="349.1" cy="90.8" r="3.3" fill="#fff" stroke="#12be1e" stroke-width="0.95"/>
<circle cx="350.6" cy="87.3" r="3.3" fill="#fff" stroke="#12be1e" stroke-width="0.95"/>
<circle cx="353.2" cy="94.3" r="3.3" fill="#fff" stroke="#12be1e" stroke-width="0.95"/>
<circle cx="354.4" cy="89.6" r="3.3" fill="#fff" stroke="#12be1e" stroke-width="0.95"/>
<circle cx="356.8" cy="91.7" r="3.3" fill="#fff" stroke="#12be1e" stroke-width="0.95"/>
<circle cx="358.1" cy="94.0" r="3.3" fill="#fff" stroke="#12be1e" stroke-width="0.95"/>
<circle cx="359.7" cy="88.3" r="3.3" fill="#fff" stroke="#12be1e" stroke-width="0.95"/>
<circle cx="362.0" cy="90.2" r="3.3" fill="#fff" stroke="#12be1e" stroke-width="0.95"/>
<circle cx="364.6" cy="86.7" r="3.3" fill="#fff" stroke="#12be1e" stroke-width="0.95"/>
<circle cx="366.1" cy="86.7" r="3.3" fill="#fff" stroke="#12be1e" stroke-width="0.95"/>
<circle cx="367.8" cy="89.6" r="3.3" fill="#fff" stroke="#12be1e" stroke-width="0.95"/>
<circle cx="146.9" cy="85.2" r="3.3" fill="#fff" stroke="#ff0000" stroke-width="0.95"/>
<circle cx="149.9" cy="84.5" r="3.3" fill="#fff" stroke="#ff0000" stroke-width="0.95"/>
<circle cx="151.7" cy="77.5" r="3.3" fill="#fff" stroke="#ff0000" stroke-width="0.95"/>
<circle cx="154.2" cy="92.8" r="3.3" fill="#fff" stroke="#ff0000" stroke-width="0.95"/>
<circle cx="156.3" cy="86.3" r="3.3" fill="#fff" stroke="#ff0000" stroke-width="0.95"/>
<circle cx="158.7" cy="81.5" r="3.3" fill="#fff" stroke="#ff0000" stroke-width="0.95"/>
<circle cx="160.9" cy="77.8" r="3.3" fill="#fff" stroke="#ff0000" stroke-width="0.95"/>
<circle cx="164.1" cy="81.7" r="3.3" fill="#fff" stroke="#ff0000" stroke-width="0.95"/>
<circle cx="165.7" cy="87.2" r="3.3" fill="#fff" stroke="#ff0000" stroke-width="0.95"/>
<circle cx="168.0" cy="76.3" r="3.3" fill="#fff" stroke="#ff0000" stroke-width="0.95"/>
<circle cx="170.5" cy="76.4" r="3.3" fill="#fff" stroke="#ff0000" stroke-width="0.95"/>
<circle cx="172.8" cy="77.0" r="3.3" fill="#fff" stroke="#ff0000" stroke-width="0.95"/>
<circle cx="174.8" cy="88.6" r="3.3" fill="#fff" stroke="#ff0000" stroke-width="0.95"/>
<circle cx="176.9" cy="80.3" r="3.3" fill="#fff" stroke="#ff0000" stroke-width="0.95"/>
<circle cx="179.0" cy="85.5" r="3.3" fill="#fff" stroke="#ff0000" stroke-width="0.95"/>
<circle cx="182.7" cy="84.3" r="3.3" fill="#fff" stroke="#ff0000" stroke-width="0.95"/>
<circle cx="184.4" cy="74.6" r="3.3" fill="#fff" stroke="#ff0000" stroke-width="0.95"/>
<circle cx="186.8" cy="90.4" r="3.3" fill="#fff" stroke="#ff0000" stroke-width="0.95"/>
<circle cx="189.7" cy="85.7" r="3.3" fill="#fff" stroke="#ff0000" stroke-width="0.95"/>
<circle cx="191.2" cy="80.3" r="3.3" fill="#fff" stroke="#ff0000" stroke-width="0.95"/>
<circle cx="193.1" cy="82.0" r="3.3" fill="#fff" stroke="#ff0000" stroke-width="0.95"/>
<circle cx="195.5" cy="82.5" r="3.3" fill="#fff" stroke="#ff0000" stroke-width="0.95"/>
<circle cx="197.8" cy="86.8" r="3.3" fill="#fff" stroke="#ff0000" stroke-width="0.95"/>
<circle cx="199.9" cy="77.9" r="3.3" fill="#fff" stroke="#ff0000" stroke-width="0.95"/>
<circle cx="202.4" cy="86.3" r="3.3" fill="#fff" stroke="#ff0000" stroke-width="0.95"/>
<circle cx="205.2" cy="82.4" r="3.3" fill="#fff" stroke="#ff0000" stroke-width="0.95"/>
<circle cx="207.6" cy="83.1" r="3.3" fill="#fff" stroke="#ff0000" stroke-width="0.95"/>
<circle cx="209.3" cy="83.3" r="3.3" fill="#fff" stroke="#ff0000" stroke-width="0.95"/>
<circle cx="211.5" cy="87.6" r="3.3" fill="#fff" stroke="#ff0000" stroke-width="0.95"/>
<circle cx="214.1" cy="89.2" r="3.3" fill="#fff" stroke="#ff0000" stroke-width="0.95"/>
<circle cx="215.7" cy="92.9" r="3.3" fill="#fff" stroke="#ff0000" stroke-width="0.95"/>
<circle cx="219.2" cy="85.4" r="3.3" fill="#fff" stroke="#ff0000" stroke-width="0.95"/>
<circle cx="220.7" cy="87.7" r="3.3" fill="#fff" stroke="#ff0000" stroke-width="0.95"/>
<circle cx="223.0" cy="72.2" r="3.3" fill="#fff" stroke="#ff0000" stroke-width="0.95"/>
<circle cx="226.2" cy="85.6" r="3.3" fill="#fff" stroke="#ff0000" stroke-width="0.95"/>
<circle cx="227.4" cy="76.4" r="3.3" fill="#fff" stroke="#ff0000" stroke-width="0.95"/>
<circle cx="230.2" cy="86.2" r="3.3" fill="#fff" stroke="#ff0000" stroke-width="0.95"/>
<circle cx="232.9" cy="82.4" r="3.3" fill="#fff" stroke="#ff0000" stroke-width="0.95"/>
<circle cx="234.1" cy="90.6" r="3.3" fill="#fff" stroke="#ff0000" stroke-width="0.95"/>
<circle cx="237.0" cy="90.0" r="3.3" fill="#fff" stroke="#ff0000" stroke-width="0.95"/>
<circle cx="238.7" cy="85.7" r="3.3" fill="#fff" stroke="#ff0000" stroke-width="0.95"/>
<circle cx="241.6" cy="90.0" r="3.3" fill="#fff" stroke="#ff0000" stroke-width="0.95"/>
<circle cx="244.6" cy="83.0" r="3.3" fill="#fff" stroke="#ff0000" stroke-width="0.95"/>
<circle cx="246.1" cy="80.4" r="3.3" fill="#fff" stroke="#ff0000" stroke-width="0.95"/>
<circle cx="247.6" cy="88.7" r="3.3" fill="#fff" stroke="#ff0000" stroke-width="0.95"/>
<circle cx="250.3" cy="89.0" r="3.3" fill="#fff" stroke="#ff0000" stroke-width="0.95"/>
<circle cx="252.8" cy="94.6" r="3.3" fill="#fff" stroke="#ff0000" stroke-width="0.95"/>
<circle cx="255.8" cy="86.1" r="3.3" fill="#fff" stroke="#ff0000" stroke-width="0.95"/>
<circle cx="257.8" cy="71.3" r="3.3" fill="#fff" stroke="#ff0000" stroke-width="0.95"/>
<circle cx="260.4" cy="91.1" r="3.3" fill="#fff" stroke="#ff0000" stroke-width="0.95"/>
<circle cx="262.9" cy="86.7" r="3.3" fill="#fff" stroke="#ff0000" stroke-width="0.95"/>
<circle cx="264.9" cy="96.2" r="3.3" fill="#fff" stroke="#ff0000" stroke-width="0.95"/>
<circle cx="267.2" cy="76.2" r="3.3" fill="#fff" stroke="#ff0000" stroke-width="0.95"/>
<circle cx="269.5" cy="85.5" r="3.3" fill="#fff" stroke="#ff0000" stroke-width="0.95"/>
<circle cx="271.9" cy="78.1" r="3.3" fill="#fff" stroke="#ff0000" stroke-width="0.95"/>
<circle cx="273.6" cy="71.6" r="3.3" fill="#fff" stroke="#ff0000" stroke-width="0.95"/>
<circle cx="275.2" cy="84.1" r="3.3" fill="#fff" stroke="#ff0000" stroke-width="0.95"/>
<circle cx="278.6" cy="87.3" r="3.3" fill="#fff" stroke="#ff0000" stroke-width="0.95"/>
<circle cx="280.5" cy="90.8" r="3.3" fill="#fff" stroke="#ff0000" stroke-width="0.95"/>
<circle cx="282.8" cy="81.3" r="3.3" fill="#fff" stroke="#ff0000" stroke-width="0.95"/>
<circle cx="285.2" cy="86.6" r="3.3" fill="#fff" stroke="#ff0000" stroke-width="0.95"/>
<circle cx="288.5" cy="95.4" r="3.3" fill="#fff" stroke="#ff0000" stroke-width="0.95"/>
<circle cx="289.6" cy="93.9" r="3.3" fill="#fff" stroke="#ff0000" stroke-width="0.95"/>
<circle cx="292.3" cy="76.4" r="3.3" fill="#fff" stroke="#ff0000" stroke-width="0.95"/>
<circle cx="294.9" cy="75.0" r="3.3" fill="#fff" stroke="#ff0000" stroke-width="0.95"/>
<circle cx="296.8" cy="84.7" r="3.3" fill="#fff" stroke="#ff0000" stroke-width="0.95"/>
<circle cx="299.2" cy="87.8" r="3.3" fill="#fff" stroke="#ff0000" stroke-width="0.95"/>
<circle cx="302.1" cy="85.6" r="3.3" fill="#fff" stroke="#ff0000" stroke-width="0.95"/>
<circle cx="303.4" cy="75.1" r="3.3" fill="#fff" stroke="#ff0000" stroke-width="0.95"/>
<circle cx="306.3" cy="88.6" r="3.3" fill="#fff" stroke="#ff0000" stroke-width="0.95"/>
<circle cx="308.0" cy="95.3" r="3.3" fill="#fff" stroke="#ff0000" stroke-width="0.95"/>
<circle cx="310.8" cy="94.2" r="3.3" fill="#fff" stroke="#ff0000" stroke-width="0.95"/>
<circle cx="313.6" cy="78.6" r="3.3" fill="#fff" stroke="#ff0000" stroke-width="0.95"/>
<circle cx="315.6" cy="82.4" r="3.3" fill="#fff" stroke="#ff0000" stroke-width="0.95"/>
<circle cx="318.6" cy="81.4" r="3.3" fill="#fff" stroke="#ff0000" stroke-width="0.95"/>
<circle cx="320.4" cy="82.0" r="3.3" fill="#fff" stroke="#ff0000" stroke-width="0.95"/>
<circle cx="322.8" cy="85.2" r="3.3" fill="#fff" stroke="#ff0000" stroke-width="0.95"/>
<circle cx="323.6" cy="91.5" r="3.3" fill="#fff" stroke="#ff0000" stroke-width="0.95"/>
<circle cx="326.2" cy="84.0" r="3.3" fill="#fff" stroke="#ff0000" stroke-width="0.95"/>
<circle cx="329.0" cy="87.0" r="3.3" fill="#fff" stroke="#ff0000" stroke-width="0.95"/>
<circle cx="331.6" cy="88.9" r="3.3" fill="#fff" stroke="#ff0000" stroke-width="0.95"/>
<circle cx="333.3" cy="72.2" r="3.3" fill="#fff" stroke="#ff0000" stroke-width="0.95"/>
<circle cx="336.1" cy="88.9" r="3.3" fill="#fff" stroke="#ff0000" stroke-width="0.95"/>
<circle cx="338.4" cy="84.5" r="3.3" fill="#fff" stroke="#ff0000" stroke-width="0.95"/>
<circle cx="339.5" cy="100.3" r="3.3" fill="#fff" stroke="#ff0000" stroke-width="0.95"/>
<circle cx="342.5" cy="83.9" r="3.3" fill="#fff" stroke="#ff0000" stroke-width="0.95"/>
<circle cx="344.3" cy="81.7" r="3.3" fill="#fff" stroke="#ff0000" stroke-width="0.95"/>
<circle cx="347.7" cy="87.7" r="3.3" fill="#fff" stroke="#ff0000" stroke-width="0.95"/>
<circle cx="350.1" cy="79.2" r="3.3" fill="#fff" stroke="#ff0000" stroke-width="0.95"/>
<circle cx="351.8" cy="81.8" r="3.3" fill="#fff" stroke="#ff0000" stroke-width="0.95"/>
<circle cx="354.7" cy="79.5" r="3.3" fill="#fff" stroke="#ff0000" stroke-width="0.95"/>
<circle cx="356.4" cy="91.9" r="3.3" fill="#fff" stroke="#ff0000" stroke-width="0.95"/>
<circle cx="358.4" cy="94.0" r="3.3" fill="#fff" stroke="#ff0000" stroke-width="0.95"/>
<circle cx="361.7" cy="86.8" r="3.3" fill="#fff" stroke="#ff0000" stroke-width="0.95"/>
<circle cx="363.7" cy="86.8" r="3.3" fill="#fff" stroke="#ff0000" stroke-width="0.95"/>
<circle cx="366.2" cy="89.7" r="3.3" fill="#fff" stroke="#ff0000" stroke-width="0.95"/>
<circle cx="367.8" cy="90.9" r="3.3" fill="#fff" stroke="#ff0000" stroke-width="0.95"/>
<circle cx="147.1" cy="85.0" r="3.3" fill="#fff" stroke="#12be1e" stroke-width="0.95"/>
<circle cx="148.6" cy="83.3" r="3.3" fill="#fff" stroke="#12be1e" stroke-width="0.95"/>
<circle cx="150.4" cy="83.1" r="3.3" fill="#fff" stroke="#12be1e" stroke-width="0.95"/>
<circle cx="153.1" cy="79.7" r="3.3" fill="#fff" stroke="#12be1e" stroke-width="0.95"/>
<circle cx="154.4" cy="82.4" r="3.3" fill="#fff" stroke="#12be1e" stroke-width="0.95"/>
<circle cx="156.1" cy="77.9" r="3.3" fill="#fff" stroke="#12be1e" stroke-width="0.95"/>
<circle cx="158.3" cy="82.4" r="3.3" fill="#fff" stroke="#12be1e" stroke-width="0.95"/>
<circle cx="159.9" cy="79.8" r="3.3" fill="#fff" stroke="#12be1e" stroke-width="0.95"/>
<circle cx="162.0" cy="75.6" r="3.3" fill="#fff" stroke="#12be1e" stroke-width="0.95"/>
<circle cx="164.0" cy="84.5" r="3.3" fill="#fff" stroke="#12be1e" stroke-width="0.95"/>
<circle cx="166.3" cy="87.6" r="3.3" fill="#fff" stroke="#12be1e" stroke-width="0.95"/>
<circle cx="167.7" cy="90.2" r="3.3" fill="#fff" stroke="#12be1e" stroke-width="0.95"/>
<circle cx="169.6" cy="84.5" r="3.3" fill="#fff" stroke="#12be1e" stroke-width="0.95"/>
<circle cx="171.1" cy="84.9" r="3.3" fill="#fff" stroke="#12be1e" stroke-width="0.95"/>
<circle cx="173.4" cy="86.3" r="3.3" fill="#fff" stroke="#12be1e" stroke-width="0.95"/>
<circle cx="174.9" cy="85.5" r="3.3" fill="#fff" stroke="#12be1e" stroke-width="0.95"/>
<circle cx="177.2" cy="81.2" r="3.3" fill="#fff" stroke="#12be1e" stroke-width="0.95"/>
<circle cx="178.1" cy="90.4" r="3.3" fill="#fff" stroke="#12be1e" stroke-width="0.95"/>
<circle cx="181.1" cy="81.8" r="3.3" fill="#fff" stroke="#12be1e" stroke-width="0.95"/>
<circle cx="183.3" cy="90.4" r="3.3" fill="#fff" stroke="#12be1e" stroke-width="0.95"/>
<circle cx="184.6" cy="81.9" r="3.3" fill="#fff" stroke="#12be1e" stroke-width="0.95"/>
<circle cx="186.7" cy="83.8" r="3.3" fill="#fff" stroke="#12be1e" stroke-width="0.95"/>
<circle cx="188.5" cy="88.4" r="3.3" fill="#fff" stroke="#12be1e" stroke-width="0.95"/>
<circle cx="190.9" cy="91.8" r="3.3" fill="#fff" stroke="#12be1e" stroke-width="0.95"/>
<circle cx="192.4" cy="90.5" r="3.3" fill="#fff" stroke="#12be1e" stroke-width="0.95"/>
<circle cx="193.7" cy="87.0" r="3.3" fill="#fff" stroke="#12be1e" stroke-width="0.95"/>
<circle cx="196.1" cy="84.8" r="3.3" fill="#fff" stroke="#12be1e" stroke-width="0.95"/>
<circle cx="197.8" cy="85.2" r="3.3" fill="#fff" stroke="#12be1e" stroke-width="0.95"/>
<circle cx="200.3" cy="79.1" r="3.3" fill="#fff" stroke="#12be1e" stroke-width="0.95"/>
<circle cx="202.2" cy="88.4" r="3.3" fill="#fff" stroke="#12be1e" stroke-width="0.95"/>
<circle cx="203.9" cy="84.4" r="3.3" fill="#fff" stroke="#12be1e" stroke-width="0.95"/>
<circle cx="205.7" cy="83.1" r="3.3" fill="#fff" stroke="#12be1e" stroke-width="0.95"/>
<circle cx="207.5" cy="80.1" r="3.3" fill="#fff" stroke="#12be1e" stroke-width="0.95"/>
<circle cx="209.2" cy="83.1" r="3.3" fill="#fff" stroke="#12be1e" stroke-width="0.95"/>
<circle cx="211.3" cy="81.9" r="3.3" fill="#fff" stroke="#12be1e" stroke-width="0.95"/>
<circle cx="212.5" cy="87.4" r="3.3" fill="#fff" stroke="#12be1e" stroke-width="0.95"/>
<circle cx="215.4" cy="79.8" r="3.3" fill="#fff" stroke="#12be1e" stroke-width="0.95"/>
<circle cx="216.7" cy="87.9" r="3.3" fill="#fff" stroke="#12be1e" stroke-width="0.95"/>
<circle cx="218.2" cy="78.3" r="3.3" fill="#fff" stroke="#12be1e" stroke-width="0.95"/>
<circle cx="220.5" cy="87.3" r="3.3" fill="#fff" stroke="#12be1e" stroke-width="0.95"/>
<circle cx="223.3" cy="87.3" r="3.3" fill="#fff" stroke="#12be1e" stroke-width="0.95"/>
<circle cx="224.8" cy="83.3" r="3.3" fill="#fff" stroke="#12be1e" stroke-width="0.95"/>
<circle cx="226.2" cy="82.4" r="3.3" fill="#fff" stroke="#12be1e" stroke-width="0.95"/>
<circle cx="228.1" cy="81.2" r="3.3" fill="#fff" stroke="#12be1e" stroke-width="0.95"/>
<circle cx="230.8" cy="79.8" r="3.3" fill="#fff" stroke="#12be1e" stroke-width="0.95"/>
<circle cx="232.5" cy="84.7" r="3.3" fill="#fff" stroke="#12be1e" stroke-width="0.95"/>
<circle cx="234.7" cy="88.4" r="3.3" fill="#fff" stroke="#12be1e" stroke-width="0.95"/>
<circle cx="235.3" cy="82.7" r="3.3" fill="#fff" stroke="#12be1e" stroke-width="0.95"/>
<circle cx="237.8" cy="78.6" r="3.3" fill="#fff" stroke="#12be1e" stroke-width="0.95"/>
<circle cx="240.6" cy="88.8" r="3.3" fill="#fff" stroke="#12be1e" stroke-width="0.95"/>
<circle cx="241.5" cy="75.3" r="3.3" fill="#fff" stroke="#12be1e" stroke-width="0.95"/>
<circle cx="243.1" cy="85.9" r="3.3" fill="#fff" stroke="#12be1e" stroke-width="0.95"/>
<circle cx="245.4" cy="85.9" r="3.3" fill="#fff" stroke="#12be1e" stroke-width="0.95"/>
<circle cx="247.2" cy="85.7" r="3.3" fill="#fff" stroke="#12be1e" stroke-width="0.95"/>
<circle cx="249.3" cy="89.8" r="3.3" fill="#fff" stroke="#12be1e" stroke-width="0.95"/>
<circle cx="251.5" cy="85.7" r="3.3" fill="#fff" stroke="#12be1e" stroke-width="0.95"/>
<circle cx="253.8" cy="82.8" r="3.3" fill="#fff" stroke="#12be1e" stroke-width="0.95"/>
<circle cx="254.5" cy="89.0" r="3.3" fill="#fff" stroke="#12be1e" stroke-width="0.95"/>
<circle cx="257.2" cy="95.4" r="3.3" fill="#fff" stroke="#12be1e" stroke-width="0.95"/>
<circle cx="258.5" cy="84.4" r="3.3" fill="#fff" stroke="#12be1e" stroke-width="0.95"/>
<circle cx="260.6" cy="87.0" r="3.3" fill="#fff" stroke="#12be1e" stroke-width="0.95"/>
<circle cx="262.5" cy="82.9" r="3.3" fill="#fff" stroke="#12be1e" stroke-width="0.95"/>
<circle cx="265.0" cy="91.4" r="3.3" fill="#fff" stroke="#12be1e" stroke-width="0.95"/>
<circle cx="267.2" cy="89.0" r="3.3" fill="#fff" stroke="#12be1e" stroke-width="0.95"/>
<circle cx="268.5" cy="82.7" r="3.3" fill="#fff" stroke="#12be1e" stroke-width="0.95"/>
<circle cx="270.3" cy="76.9" r="3.3" fill="#fff" stroke="#12be1e" stroke-width="0.95"/>
<circle cx="272.7" cy="89.2" r="3.3" fill="#fff" stroke="#12be1e" stroke-width="0.95"/>
<circle cx="273.8" cy="94.5" r="3.3" fill="#fff" stroke="#12be1e" stroke-width="0.95"/>
<circle cx="276.0" cy="84.5" r="3.3" fill="#fff" stroke="#12be1e" stroke-width="0.95"/>
<circle cx="278.1" cy="84.7" r="3.3" fill="#fff" stroke="#12be1e" stroke-width="0.95"/>
<circle cx="279.7" cy="85.4" r="3.3" fill="#fff" stroke="#12be1e" stroke-width="0.95"/>
<circle cx="281.1" cy="87.0" r="3.3" fill="#fff" stroke="#12be1e" stroke-width="0.95"/>
<circle cx="283.8" cy="91.0" r="3.3" fill="#fff" stroke="#12be1e" stroke-width="0.95"/>
<circle cx="285.1" cy="87.7" r="3.3" fill="#fff" stroke="#12be1e" stroke-width="0.95"/>
<circle cx="288.4" cy="83.8" r="3.3" fill="#fff" stroke="#12be1e" stroke-width="0.95"/>
<circle cx="289.7" cy="95.0" r="3.3" fill="#fff" stroke="#12be1e" stroke-width="0.95"/>
<circle cx="291.4" cy="86.9" r="3.3" fill="#fff" stroke="#12be1e" stroke-width="0.95"/>
<circle cx="293.3" cy="91.0" r="3.3" fill="#fff" stroke="#12be1e" stroke-width="0.95"/>
<circle cx="295.0" cy="87.2" r="3.3" fill="#fff" stroke="#12be1e" stroke-width="0.95"/>
<circle cx="296.6" cy="84.5" r="3.3" fill="#fff" stroke="#12be1e" stroke-width="0.95"/>
<circle cx="299.1" cy="83.0" r="3.3" fill="#fff" stroke="#12be1e" stroke-width="0.95"/>
<circle cx="300.1" cy="83.6" r="3.3" fill="#fff" stroke="#12be1e" stroke-width="0.95"/>
<circle cx="302.0" cy="93.5" r="3.3" fill="#fff" stroke="#12be1e" stroke-width="0.95"/>
<circle cx="304.4" cy="90.9" r="3.3" fill="#fff" stroke="#12be1e" stroke-width="0.95"/>
<circle cx="306.6" cy="87.5" r="3.3" fill="#fff" stroke="#12be1e" stroke-width="0.95"/>
<circle cx="307.8" cy="91.0" r="3.3" fill="#fff" stroke="#12be1e" stroke-width="0.95"/>
<circle cx="310.8" cy="87.3" r="3.3" fill="#fff" stroke="#12be1e" stroke-width="0.95"/>
<circle cx="312.2" cy="90.7" r="3.3" fill="#fff" stroke="#12be1e" stroke-width="0.95"/>
<circle cx="314.0" cy="93.9" r="3.3" fill="#fff" stroke="#12be1e" stroke-width="0.95"/>
<circle cx="315.9" cy="97.4" r="3.3" fill="#fff" stroke="#12be1e" stroke-width="0.95"/>
<circle cx="318.2" cy="78.1" r="3.3" fill="#fff" stroke="#12be1e" stroke-width="0.95"/>
<circle cx="319.8" cy="91.4" r="3.3" fill="#fff" stroke="#12be1e" stroke-width="0.95"/>
<circle cx="321.4" cy="92.5" r="3.3" fill="#fff" stroke="#12be1e" stroke-width="0.95"/>
<circle cx="323.3" cy="91.8" r="3.3" fill="#fff" stroke="#12be1e" stroke-width="0.95"/>
<circle cx="325.6" cy="87.2" r="3.3" fill="#fff" stroke="#12be1e" stroke-width="0.95"/>
<circle cx="327.6" cy="81.5" r="3.3" fill="#fff" stroke="#12be1e" stroke-width="0.95"/>
<circle cx="329.3" cy="89.2" r="3.3" fill="#fff" stroke="#12be1e" stroke-width="0.95"/>
<circle cx="331.2" cy="92.0" r="3.3" fill="#fff" stroke="#12be1e" stroke-width="0.95"/>
<circle cx="332.5" cy="91.2" r="3.3" fill="#fff" stroke="#12be1e" stroke-width="0.95"/>
<circle cx="334.8" cy="99.2" r="3.3" fill="#fff" stroke="#12be1e" stroke-width="0.95"/>
<circle cx="336.2" cy="86.4" r="3.3" fill="#fff" stroke="#12be1e" stroke-width="0.95"/>
<circle cx="339.2" cy="84.0" r="3.3" fill="#fff" stroke="#12be1e" stroke-width="0.95"/>
<circle cx="340.6" cy="89.4" r="3.3" fill="#fff" stroke="#12be1e" stroke-width="0.95"/>
<circle cx="342.5" cy="86.7" r="3.3" fill="#fff" stroke="#12be1e" stroke-width="0.95"/>
<circle cx="344.5" cy="92.5" r="3.3" fill="#fff" stroke="#12be1e" stroke-width="0.95"/>
<circle cx="345.7" cy="95.4" r="3.3" fill="#fff" stroke="#12be1e" stroke-width="0.95"/>
<circle cx="347.8" cy="92.7" r="3.3" fill="#fff" stroke="#12be1e" stroke-width="0.95"/>
<circle cx="349.5" cy="100.0" r="3.3" fill="#fff" stroke="#12be1e" stroke-width="0.95"/>
<circle cx="351.8" cy="96.1" r="3.3" fill="#fff" stroke="#12be1e" stroke-width="0.95"/>
<circle cx="353.7" cy="89.6" r="3.3" fill="#fff" stroke="#12be1e" stroke-width="0.95"/>
<circle cx="356.2" cy="90.0" r="3.3" fill="#fff" stroke="#12be1e" stroke-width="0.95"/>
<circle cx="357.5" cy="84.7" r="3.3" fill="#fff" stroke="#12be1e" stroke-width="0.95"/>
<circle cx="359.8" cy="86.9" r="3.3" fill="#fff" stroke="#12be1e" stroke-width="0.95"/>
<circle cx="361.4" cy="94.5" r="3.3" fill="#fff" stroke="#12be1e" stroke-width="0.95"/>
<circle cx="362.7" cy="87.1" r="3.3" fill="#fff" stroke="#12be1e" stroke-width="0.95"/>
<circle cx="365.1" cy="97.1" r="3.3" fill="#fff" stroke="#12be1e" stroke-width="0.95"/>
<circle cx="366.9" cy="91.1" r="3.3" fill="#fff" stroke="#12be1e" stroke-width="0.95"/>
<circle cx="137.0" cy="214.3" r="3.5" fill="#12be1e"/>
<circle cx="135.7" cy="264.2" r="3.5" fill="#12be1e"/>
<circle cx="135.2" cy="319.2" r="3.5" fill="#12be1e"/>
<circle cx="132.8" cy="345.1" r="3.5" fill="#12be1e"/>
<circle cx="131.5" cy="381.4" r="3.5" fill="#12be1e"/>
<circle cx="122.2" cy="441.7" r="3.5" fill="#12be1e"/>
<circle cx="130.1" cy="440.4" r="3.5" fill="#12be1e"/>
<circle cx="130.1" cy="444.3" r="3.5" fill="#12be1e"/>
<circle cx="128.8" cy="453.6" r="3.5" fill="#12be1e"/>
<circle cx="140.0" cy="109.2" r="3.5" fill="#12be1e"/>
<circle cx="141.2" cy="132.9" r="3.5" fill="#12be1e"/>
<circle cx="140.0" cy="148.3" r="3.5" fill="#12be1e"/>
<circle cx="138.8" cy="166.1" r="3.5" fill="#12be1e"/>
<circle cx="137.7" cy="176.8" r="3.5" fill="#12be1e"/>
<circle cx="137.7" cy="193.4" r="3.5" fill="#12be1e"/>
<circle cx="139.5" cy="95.0" r="3.5" fill="#12be1e"/>
<circle cx="141.0" cy="85.0" r="3.5" fill="#12be1e"/>
<circle cx="145.8" cy="83.6" r="3.5" fill="#12be1e"/>
<circle cx="146.8" cy="86.9" r="3.5" fill="#12be1e"/>
<circle cx="145.0" cy="91.7" r="3.5" fill="#12be1e"/>
<circle cx="150.8" cy="91.0" r="3.5" fill="#12be1e"/>
<circle cx="147.6" cy="103.5" r="3.5" fill="#12be1e"/>
<circle cx="148.6" cy="100.7" r="3.5" fill="#12be1e"/>
<circle cx="149.0" cy="104.6" r="3.5" fill="#12be1e"/>
<circle cx="150.0" cy="115.0" r="3.5" fill="#12be1e"/>
<circle cx="146.0" cy="109.8" r="3.5" fill="#12be1e"/>
<circle cx="150.9" cy="116.0" r="3.5" fill="#12be1e"/>
<circle cx="154.2" cy="120.8" r="3.5" fill="#12be1e"/>
<circle cx="155.4" cy="117.7" r="3.5" fill="#12be1e"/>
<circle cx="157.8" cy="121.9" r="3.5" fill="#12be1e"/>
<circle cx="160.7" cy="122.6" r="3.5" fill="#12be1e"/>
<circle cx="161.3" cy="132.1" r="3.5" fill="#12be1e"/>
<circle cx="161.1" cy="133.9" r="3.5" fill="#12be1e"/>
<circle cx="162.5" cy="137.9" r="3.5" fill="#12be1e"/>
<circle cx="161.8" cy="138.1" r="3.5" fill="#12be1e"/>
<circle cx="161.7" cy="134.9" r="3.5" fill="#12be1e"/>
<circle cx="166.1" cy="136.3" r="3.5" fill="#12be1e"/>
<circle cx="162.9" cy="138.4" r="3.5" fill="#12be1e"/>
<circle cx="164.3" cy="149.3" r="3.5" fill="#12be1e"/>
<circle cx="163.6" cy="147.4" r="3.5" fill="#12be1e"/>
<circle cx="164.2" cy="151.2" r="3.5" fill="#12be1e"/>
<circle cx="167.3" cy="152.3" r="3.5" fill="#12be1e"/>
<circle cx="171.6" cy="158.3" r="3.5" fill="#12be1e"/>
<circle cx="171.1" cy="154.5" r="3.5" fill="#12be1e"/>
<circle cx="172.4" cy="159.2" r="3.5" fill="#12be1e"/>
<circle cx="174.0" cy="157.3" r="3.5" fill="#12be1e"/>
<circle cx="175.9" cy="160.5" r="3.5" fill="#12be1e"/>
<circle cx="177.2" cy="165.9" r="3.5" fill="#12be1e"/>
<circle cx="177.8" cy="167.1" r="3.5" fill="#12be1e"/>
<circle cx="180.1" cy="165.2" r="3.5" fill="#12be1e"/>
<circle cx="178.0" cy="163.9" r="3.5" fill="#12be1e"/>
<circle cx="179.7" cy="168.6" r="3.5" fill="#12be1e"/>
<circle cx="181.8" cy="164.7" r="3.5" fill="#12be1e"/>
<circle cx="179.8" cy="170.4" r="3.5" fill="#12be1e"/>
<circle cx="180.5" cy="175.1" r="3.5" fill="#12be1e"/>
<circle cx="183.2" cy="183.2" r="3.5" fill="#12be1e"/>
<circle cx="184.3" cy="180.3" r="3.5" fill="#12be1e"/>
<circle cx="185.8" cy="177.7" r="3.5" fill="#12be1e"/>
<circle cx="186.0" cy="184.3" r="3.5" fill="#12be1e"/>
<circle cx="188.1" cy="180.3" r="3.5" fill="#12be1e"/>
<circle cx="189.1" cy="178.5" r="3.5" fill="#12be1e"/>
<circle cx="190.1" cy="176.3" r="3.5" fill="#12be1e"/>
<circle cx="191.8" cy="182.2" r="3.5" fill="#12be1e"/>
<circle cx="192.4" cy="190.6" r="3.5" fill="#12be1e"/>
<circle cx="193.9" cy="182.9" r="3.5" fill="#12be1e"/>
<circle cx="194.8" cy="188.8" r="3.5" fill="#12be1e"/>
<circle cx="196.3" cy="185.6" r="3.5" fill="#12be1e"/>
<circle cx="197.8" cy="186.5" r="3.5" fill="#12be1e"/>
<circle cx="199.2" cy="186.0" r="3.5" fill="#12be1e"/>
<circle cx="200.5" cy="184.8" r="3.5" fill="#12be1e"/>
<circle cx="201.2" cy="185.5" r="3.5" fill="#12be1e"/>
<circle cx="203.0" cy="185.4" r="3.5" fill="#12be1e"/>
<circle cx="203.7" cy="180.8" r="3.5" fill="#12be1e"/>
<circle cx="204.8" cy="183.8" r="3.5" fill="#12be1e"/>
<circle cx="205.5" cy="187.8" r="3.5" fill="#12be1e"/>
<circle cx="207.7" cy="192.2" r="3.5" fill="#12be1e"/>
<circle cx="209.0" cy="183.3" r="3.5" fill="#12be1e"/>
<circle cx="210.0" cy="184.0" r="3.5" fill="#12be1e"/>
<circle cx="211.1" cy="197.5" r="3.5" fill="#12be1e"/>
<circle cx="212.7" cy="183.4" r="3.5" fill="#12be1e"/>
<circle cx="213.4" cy="190.6" r="3.5" fill="#12be1e"/>
<circle cx="215.1" cy="193.2" r="3.5" fill="#12be1e"/>
<circle cx="216.5" cy="181.4" r="3.5" fill="#12be1e"/>
<circle cx="217.8" cy="181.9" r="3.5" fill="#12be1e"/>
<circle cx="218.5" cy="181.7" r="3.5" fill="#12be1e"/>
<circle cx="220.1" cy="196.1" r="3.5" fill="#12be1e"/>
<circle cx="221.1" cy="193.0" r="3.5" fill="#12be1e"/>
<circle cx="222.1" cy="202.3" r="3.5" fill="#12be1e"/>
<circle cx="224.8" cy="186.0" r="3.5" fill="#12be1e"/>
<circle cx="224.7" cy="188.7" r="3.5" fill="#12be1e"/>
<circle cx="226.0" cy="194.2" r="3.5" fill="#12be1e"/>
<circle cx="228.3" cy="187.7" r="3.5" fill="#12be1e"/>
<circle cx="228.9" cy="183.5" r="3.5" fill="#12be1e"/>
<circle cx="229.4" cy="192.0" r="3.5" fill="#12be1e"/>
<circle cx="231.7" cy="185.0" r="3.5" fill="#12be1e"/>
<circle cx="233.0" cy="188.8" r="3.5" fill="#12be1e"/>
<circle cx="234.0" cy="184.7" r="3.5" fill="#12be1e"/>
<circle cx="234.3" cy="188.6" r="3.5" fill="#12be1e"/>
<circle cx="235.5" cy="196.3" r="3.5" fill="#12be1e"/>
<circle cx="237.4" cy="208.6" r="3.5" fill="#12be1e"/>
<circle cx="238.7" cy="188.8" r="3.5" fill="#12be1e"/>
<circle cx="239.9" cy="188.4" r="3.5" fill="#12be1e"/>
<circle cx="241.4" cy="195.2" r="3.5" fill="#12be1e"/>
<circle cx="241.6" cy="199.7" r="3.5" fill="#12be1e"/>
<circle cx="243.8" cy="201.6" r="3.5" fill="#12be1e"/>
<circle cx="244.8" cy="195.5" r="3.5" fill="#12be1e"/>
<circle cx="246.1" cy="189.4" r="3.5" fill="#12be1e"/>
<circle cx="248.2" cy="198.0" r="3.5" fill="#12be1e"/>
<circle cx="248.8" cy="192.9" r="3.5" fill="#12be1e"/>
<circle cx="249.7" cy="196.7" r="3.5" fill="#12be1e"/>
<circle cx="251.1" cy="190.9" r="3.5" fill="#12be1e"/>
<circle cx="252.5" cy="193.8" r="3.5" fill="#12be1e"/>
<circle cx="254.2" cy="190.9" r="3.5" fill="#12be1e"/>
<circle cx="254.4" cy="202.9" r="3.5" fill="#12be1e"/>
<circle cx="256.2" cy="191.0" r="3.5" fill="#12be1e"/>
<circle cx="258.0" cy="201.3" r="3.5" fill="#12be1e"/>
<circle cx="258.0" cy="202.5" r="3.5" fill="#12be1e"/>
<circle cx="260.4" cy="206.6" r="3.5" fill="#12be1e"/>
<circle cx="261.4" cy="193.9" r="3.5" fill="#12be1e"/>
<circle cx="262.5" cy="206.2" r="3.5" fill="#12be1e"/>
<circle cx="263.7" cy="204.8" r="3.5" fill="#12be1e"/>
<circle cx="264.6" cy="196.8" r="3.5" fill="#12be1e"/>
<circle cx="266.5" cy="201.9" r="3.5" fill="#12be1e"/>
<circle cx="267.8" cy="188.3" r="3.5" fill="#12be1e"/>
<circle cx="269.2" cy="204.5" r="3.5" fill="#12be1e"/>
<circle cx="270.4" cy="193.3" r="3.5" fill="#12be1e"/>
<circle cx="271.8" cy="197.3" r="3.5" fill="#12be1e"/>
<circle cx="272.1" cy="200.9" r="3.5" fill="#12be1e"/>
<circle cx="273.2" cy="195.3" r="3.5" fill="#12be1e"/>
<circle cx="275.2" cy="199.9" r="3.5" fill="#12be1e"/>
<circle cx="275.9" cy="212.1" r="3.5" fill="#12be1e"/>
<circle cx="277.4" cy="195.7" r="3.5" fill="#12be1e"/>
<circle cx="278.6" cy="200.0" r="3.5" fill="#12be1e"/>
<circle cx="280.1" cy="202.5" r="3.5" fill="#12be1e"/>
<circle cx="281.4" cy="198.6" r="3.5" fill="#12be1e"/>
<circle cx="282.3" cy="205.6" r="3.5" fill="#12be1e"/>
<circle cx="283.7" cy="199.6" r="3.5" fill="#12be1e"/>
<circle cx="285.2" cy="202.3" r="3.5" fill="#12be1e"/>
<circle cx="285.9" cy="199.9" r="3.5" fill="#12be1e"/>
<circle cx="287.8" cy="204.9" r="3.5" fill="#12be1e"/>
<circle cx="288.7" cy="212.8" r="3.5" fill="#12be1e"/>
<circle cx="290.0" cy="201.9" r="3.5" fill="#12be1e"/>
<circle cx="291.3" cy="200.8" r="3.5" fill="#12be1e"/>
<circle cx="292.2" cy="207.4" r="3.5" fill="#12be1e"/>
<circle cx="293.9" cy="204.4" r="3.5" fill="#12be1e"/>
<circle cx="295.0" cy="194.6" r="3.5" fill="#12be1e"/>
<circle cx="296.5" cy="188.5" r="3.5" fill="#12be1e"/>
<circle cx="297.8" cy="201.2" r="3.5" fill="#12be1e"/>
<circle cx="298.4" cy="197.2" r="3.5" fill="#12be1e"/>
<circle cx="300.1" cy="215.4" r="3.5" fill="#12be1e"/>
<circle cx="301.7" cy="200.8" r="3.5" fill="#12be1e"/>
<circle cx="302.6" cy="200.6" r="3.5" fill="#12be1e"/>
<circle cx="304.0" cy="201.2" r="3.5" fill="#12be1e"/>
<circle cx="304.8" cy="213.6" r="3.5" fill="#12be1e"/>
<circle cx="305.9" cy="201.8" r="3.5" fill="#12be1e"/>
<circle cx="307.8" cy="197.5" r="3.5" fill="#12be1e"/>
<circle cx="307.9" cy="204.7" r="3.5" fill="#12be1e"/>
<circle cx="309.7" cy="210.6" r="3.5" fill="#12be1e"/>
<circle cx="311.6" cy="206.6" r="3.5" fill="#12be1e"/>
<circle cx="313.0" cy="216.6" r="3.5" fill="#12be1e"/>
<circle cx="313.6" cy="202.7" r="3.5" fill="#12be1e"/>
<circle cx="315.2" cy="199.3" r="3.5" fill="#12be1e"/>
<circle cx="315.8" cy="210.5" r="3.5" fill="#12be1e"/>
<circle cx="318.0" cy="206.2" r="3.5" fill="#12be1e"/>
<circle cx="319.1" cy="212.9" r="3.5" fill="#12be1e"/>
<circle cx="319.7" cy="223.8" r="3.5" fill="#12be1e"/>
<circle cx="320.9" cy="211.7" r="3.5" fill="#12be1e"/>
<circle cx="322.6" cy="199.0" r="3.5" fill="#12be1e"/>
<circle cx="324.3" cy="214.3" r="3.5" fill="#12be1e"/>
<circle cx="325.5" cy="206.8" r="3.5" fill="#12be1e"/>
<circle cx="326.1" cy="224.5" r="3.5" fill="#12be1e"/>
<circle cx="327.9" cy="213.4" r="3.5" fill="#12be1e"/>
<circle cx="328.9" cy="218.3" r="3.5" fill="#12be1e"/>
<circle cx="329.3" cy="218.5" r="3.5" fill="#12be1e"/>
<circle cx="331.7" cy="214.4" r="3.5" fill="#12be1e"/>
<circle cx="332.5" cy="214.5" r="3.5" fill="#12be1e"/>
<circle cx="334.1" cy="204.4" r="3.5" fill="#12be1e"/>
<circle cx="334.7" cy="218.2" r="3.5" fill="#12be1e"/>
<circle cx="336.1" cy="213.0" r="3.5" fill="#12be1e"/>
<circle cx="337.4" cy="214.0" r="3.5" fill="#12be1e"/>
<circle cx="339.4" cy="219.8" r="3.5" fill="#12be1e"/>
<circle cx="340.1" cy="208.0" r="3.5" fill="#12be1e"/>
<circle cx="342.1" cy="214.7" r="3.5" fill="#12be1e"/>
<circle cx="342.8" cy="215.5" r="3.5" fill="#12be1e"/>
<circle cx="344.1" cy="207.2" r="3.5" fill="#12be1e"/>
<circle cx="344.4" cy="218.1" r="3.5" fill="#12be1e"/>
<circle cx="346.7" cy="210.3" r="3.5" fill="#12be1e"/>
<circle cx="347.6" cy="213.4" r="3.5" fill="#12be1e"/>
<circle cx="348.1" cy="213.6" r="3.5" fill="#12be1e"/>
<circle cx="350.3" cy="209.1" r="3.5" fill="#12be1e"/>
<circle cx="351.0" cy="211.4" r="3.5" fill="#12be1e"/>
<circle cx="352.4" cy="207.2" r="3.5" fill="#12be1e"/>
<circle cx="354.2" cy="215.0" r="3.5" fill="#12be1e"/>
<circle cx="355.3" cy="226.0" r="3.5" fill="#12be1e"/>
<circle cx="356.0" cy="216.9" r="3.5" fill="#12be1e"/>
<circle cx="358.0" cy="214.4" r="3.5" fill="#12be1e"/>
<circle cx="358.9" cy="219.9" r="3.5" fill="#12be1e"/>
<circle cx="360.0" cy="230.6" r="3.5" fill="#12be1e"/>
<circle cx="361.3" cy="215.1" r="3.5" fill="#12be1e"/>
<circle cx="362.4" cy="211.5" r="3.5" fill="#12be1e"/>
<circle cx="363.1" cy="220.9" r="3.5" fill="#12be1e"/>
<circle cx="364.9" cy="222.1" r="3.5" fill="#12be1e"/>
<circle cx="366.9" cy="212.8" r="3.5" fill="#12be1e"/>
<circle cx="367.8" cy="208.6" r="3.5" fill="#12be1e"/>
<circle cx="140.0" cy="87.1" r="3.3" fill="#fff" stroke="#000" stroke-width="0.95"/>
<circle cx="137.7" cy="117.5" r="3.3" fill="#fff" stroke="#000" stroke-width="0.95"/>
<circle cx="137.7" cy="124.1" r="3.3" fill="#fff" stroke="#000" stroke-width="0.95"/>
<circle cx="151.9" cy="117.5" r="3.3" fill="#fff" stroke="#000" stroke-width="0.95"/>
<circle cx="150.7" cy="128.1" r="3.3" fill="#fff" stroke="#000" stroke-width="0.95"/>
<circle cx="155.0" cy="147.8" r="3.3" fill="#fff" stroke="#000" stroke-width="0.95"/>
<circle cx="156.6" cy="172.0" r="3.3" fill="#fff" stroke="#000" stroke-width="0.95"/>
<circle cx="157.4" cy="179.6" r="3.3" fill="#fff" stroke="#000" stroke-width="0.95"/>
<circle cx="136.0" cy="174.4" r="3.3" fill="#fff" stroke="#000" stroke-width="0.95"/>
<circle cx="158.7" cy="214.8" r="3.3" fill="#fff" stroke="#000" stroke-width="0.95"/>
<circle cx="160.8" cy="234.8" r="3.3" fill="#fff" stroke="#000" stroke-width="0.95"/>
<circle cx="160.0" cy="269.8" r="3.3" fill="#fff" stroke="#000" stroke-width="0.95"/>
<circle cx="163.3" cy="308.2" r="3.3" fill="#fff" stroke="#000" stroke-width="0.95"/>
<circle cx="171.5" cy="308.2" r="3.3" fill="#fff" stroke="#000" stroke-width="0.95"/>
<circle cx="131.9" cy="241.0" r="3.3" fill="#fff" stroke="#000" stroke-width="0.95"/>
<circle cx="168.5" cy="372.4" r="3.3" fill="#fff" stroke="#000" stroke-width="0.95"/>
<circle cx="126.2" cy="372.4" r="3.3" fill="#fff" stroke="#000" stroke-width="0.95"/>
<circle cx="167.2" cy="408.6" r="3.3" fill="#fff" stroke="#000" stroke-width="0.95"/>
<circle cx="169.8" cy="408.6" r="3.3" fill="#fff" stroke="#000" stroke-width="0.95"/>
<circle cx="184.9" cy="408.6" r="3.3" fill="#fff" stroke="#000" stroke-width="0.95"/>
<circle cx="125.6" cy="408.6" r="3.3" fill="#fff" stroke="#000" stroke-width="0.95"/>
<circle cx="142.0" cy="82.0" r="3.3" fill="#fff" stroke="#000" stroke-width="0.95"/>
<circle cx="146.0" cy="95.0" r="3.3" fill="#fff" stroke="#000" stroke-width="0.95"/>
<polyline points="128.8,462.0 130.6,330.0 134.3,190.0 143.6,82.6" fill="none" stroke="#878787" stroke-width="2.7"/>
<polyline points="134.1,462.0 135.7,330.0 139.5,190.0 144.6,82.6" fill="none" stroke="#878787" stroke-width="2.7"/>
<polyline points="144.6,82.6 150.7,81.8 368.6,91.7" fill="none" stroke="#878787" stroke-width="2.2"/>
<polyline points="131.5,462.0 133.2,330.0 136.9,190.0 144.2,82.6" fill="none" stroke="#878787" stroke-width="2.7"/>
<polyline points="144.2,82.6 148.0,97.0 151.0,108.0 154.4,120.0 158.5,131.5 163.1,141.9 167.5,151.5 171.9,159.4 177.0,166.8 182.9,172.6 193.8,179.1 215.7,185.7 237.6,190.1 259.5,194.5 281.4,198.9 303.3,203.2 325.2,207.6 347.2,212.0 369.1,215.3" fill="none" stroke="#878787" stroke-width="2.2"/>
<ellipse cx="133.6" cy="372.9" rx="1.3" ry="3.3" fill="#ff0000"/>
<ellipse cx="133.4" cy="413.9" rx="1.3" ry="3.3" fill="#ff0000"/>
<ellipse cx="132.2" cy="425.8" rx="1.3" ry="3.3" fill="#ff0000"/>
<ellipse cx="134.8" cy="300.0" rx="1.3" ry="3.3" fill="#ff0000"/>
<ellipse cx="135.2" cy="340.0" rx="1.3" ry="3.3" fill="#ff0000"/>
<ellipse cx="136.6" cy="250.0" rx="1.3" ry="3.3" fill="#ff0000"/>
<ellipse cx="131.2" cy="440.4" rx="1.5" ry="3.4" fill="#12be1e"/>
<ellipse cx="131.5" cy="447.5" rx="1.5" ry="3.4" fill="#12be1e"/>
<ellipse cx="130.6" cy="455.0" rx="1.5" ry="3.4" fill="#12be1e"/>
<ellipse cx="133.5" cy="381.4" rx="1.5" ry="3.4" fill="#12be1e"/>
<ellipse cx="134.9" cy="345.1" rx="1.5" ry="3.4" fill="#12be1e"/>
<ellipse cx="137.2" cy="264.2" rx="1.5" ry="3.4" fill="#12be1e"/>
<polyline points="125.2,462.0 128.8,330.0 133.0,190.0 144.0,83.0 150.5,118.0 154.5,155.0 157.2,200.0 160.0,260.0 162.5,330.0 165.0,400.0 167.2,462.0" fill="none" stroke="#000" stroke-width="1.5"/>
<line x1="144.2" y1="82.8" x2="154.4" y2="140" stroke="#878787" stroke-width="2.4"/></g>
<g clip-path="url(#c2)"><circle cx="378.1" cy="92.9" r="3.3" fill="#fff" stroke="#ff0000" stroke-width="0.95"/>
<circle cx="378.3" cy="86.5" r="3.3" fill="#fff" stroke="#ff0000" stroke-width="0.95"/>
<circle cx="378.9" cy="95.2" r="3.3" fill="#fff" stroke="#ff0000" stroke-width="0.95"/>
<circle cx="379.5" cy="91.7" r="3.3" fill="#fff" stroke="#ff0000" stroke-width="0.95"/>
<circle cx="379.5" cy="87.3" r="3.3" fill="#fff" stroke="#ff0000" stroke-width="0.95"/>
<circle cx="380.1" cy="87.1" r="3.3" fill="#fff" stroke="#ff0000" stroke-width="0.95"/>
<circle cx="379.9" cy="98.6" r="3.3" fill="#fff" stroke="#ff0000" stroke-width="0.95"/>
<circle cx="381.2" cy="92.0" r="3.3" fill="#fff" stroke="#ff0000" stroke-width="0.95"/>
<circle cx="380.8" cy="91.5" r="3.3" fill="#fff" stroke="#ff0000" stroke-width="0.95"/>
<circle cx="381.4" cy="99.1" r="3.3" fill="#fff" stroke="#ff0000" stroke-width="0.95"/>
<circle cx="382.1" cy="92.7" r="3.3" fill="#fff" stroke="#ff0000" stroke-width="0.95"/>
<circle cx="381.9" cy="91.5" r="3.3" fill="#fff" stroke="#ff0000" stroke-width="0.95"/>
<circle cx="382.7" cy="95.4" r="3.3" fill="#fff" stroke="#ff0000" stroke-width="0.95"/>
<circle cx="383.1" cy="97.9" r="3.3" fill="#fff" stroke="#ff0000" stroke-width="0.95"/>
<circle cx="382.7" cy="99.2" r="3.3" fill="#fff" stroke="#ff0000" stroke-width="0.95"/>
<circle cx="383.2" cy="100.5" r="3.3" fill="#fff" stroke="#ff0000" stroke-width="0.95"/>
<circle cx="383.4" cy="98.3" r="3.3" fill="#fff" stroke="#ff0000" stroke-width="0.95"/>
<circle cx="383.6" cy="95.7" r="3.3" fill="#fff" stroke="#ff0000" stroke-width="0.95"/>
<circle cx="384.4" cy="90.1" r="3.3" fill="#fff" stroke="#ff0000" stroke-width="0.95"/>
<circle cx="384.4" cy="97.9" r="3.3" fill="#fff" stroke="#ff0000" stroke-width="0.95"/>
<circle cx="385.2" cy="96.0" r="3.3" fill="#fff" stroke="#ff0000" stroke-width="0.95"/>
<circle cx="385.8" cy="95.9" r="3.3" fill="#fff" stroke="#ff0000" stroke-width="0.95"/>
<circle cx="385.3" cy="96.7" r="3.3" fill="#fff" stroke="#ff0000" stroke-width="0.95"/>
<circle cx="386.3" cy="101.4" r="3.3" fill="#fff" stroke="#ff0000" stroke-width="0.95"/>
<circle cx="386.7" cy="103.6" r="3.3" fill="#fff" stroke="#ff0000" stroke-width="0.95"/>
<circle cx="387.0" cy="98.5" r="3.3" fill="#fff" stroke="#ff0000" stroke-width="0.95"/>
<circle cx="387.0" cy="99.5" r="3.3" fill="#fff" stroke="#ff0000" stroke-width="0.95"/>
<circle cx="387.7" cy="100.3" r="3.3" fill="#fff" stroke="#ff0000" stroke-width="0.95"/>
<circle cx="388.2" cy="100.0" r="3.3" fill="#fff" stroke="#ff0000" stroke-width="0.95"/>
<circle cx="388.0" cy="101.7" r="3.3" fill="#fff" stroke="#ff0000" stroke-width="0.95"/>
<circle cx="388.4" cy="105.5" r="3.3" fill="#fff" stroke="#ff0000" stroke-width="0.95"/>
<circle cx="388.6" cy="101.2" r="3.3" fill="#fff" stroke="#ff0000" stroke-width="0.95"/>
<circle cx="389.4" cy="99.8" r="3.3" fill="#fff" stroke="#ff0000" stroke-width="0.95"/>
<circle cx="389.4" cy="107.1" r="3.3" fill="#fff" stroke="#ff0000" stroke-width="0.95"/>
<circle cx="389.5" cy="103.5" r="3.3" fill="#fff" stroke="#ff0000" stroke-width="0.95"/>
<circle cx="390.0" cy="105.2" r="3.3" fill="#fff" stroke="#ff0000" stroke-width="0.95"/>
<circle cx="390.1" cy="110.6" r="3.3" fill="#fff" stroke="#ff0000" stroke-width="0.95"/>
<circle cx="391.3" cy="106.4" r="3.3" fill="#fff" stroke="#ff0000" stroke-width="0.95"/>
<circle cx="391.0" cy="104.7" r="3.3" fill="#fff" stroke="#ff0000" stroke-width="0.95"/>
<circle cx="391.4" cy="105.7" r="3.3" fill="#fff" stroke="#ff0000" stroke-width="0.95"/>
<circle cx="392.3" cy="100.8" r="3.3" fill="#fff" stroke="#ff0000" stroke-width="0.95"/>
<circle cx="392.3" cy="107.4" r="3.3" fill="#fff" stroke="#ff0000" stroke-width="0.95"/>
<circle cx="392.8" cy="103.1" r="3.3" fill="#fff" stroke="#ff0000" stroke-width="0.95"/>
<circle cx="393.3" cy="99.2" r="3.3" fill="#fff" stroke="#ff0000" stroke-width="0.95"/>
<circle cx="393.4" cy="106.1" r="3.3" fill="#fff" stroke="#ff0000" stroke-width="0.95"/>
<circle cx="394.1" cy="103.6" r="3.3" fill="#fff" stroke="#ff0000" stroke-width="0.95"/>
<circle cx="393.8" cy="106.8" r="3.3" fill="#fff" stroke="#ff0000" stroke-width="0.95"/>
<circle cx="394.1" cy="111.9" r="3.3" fill="#fff" stroke="#ff0000" stroke-width="0.95"/>
<circle cx="395.0" cy="113.0" r="3.3" fill="#fff" stroke="#ff0000" stroke-width="0.95"/>
<circle cx="395.1" cy="108.2" r="3.3" fill="#fff" stroke="#ff0000" stroke-width="0.95"/>
<circle cx="395.5" cy="104.9" r="3.3" fill="#fff" stroke="#ff0000" stroke-width="0.95"/>
<circle cx="395.5" cy="118.4" r="3.3" fill="#fff" stroke="#ff0000" stroke-width="0.95"/>
<circle cx="396.1" cy="113.4" r="3.3" fill="#fff" stroke="#ff0000" stroke-width="0.95"/>
<circle cx="396.0" cy="108.7" r="3.3" fill="#fff" stroke="#ff0000" stroke-width="0.95"/>
<circle cx="396.9" cy="105.6" r="3.3" fill="#fff" stroke="#ff0000" stroke-width="0.95"/>
<circle cx="397.1" cy="113.0" r="3.3" fill="#fff" stroke="#ff0000" stroke-width="0.95"/>
<circle cx="397.5" cy="106.3" r="3.3" fill="#fff" stroke="#ff0000" stroke-width="0.95"/>
<circle cx="397.7" cy="116.6" r="3.3" fill="#fff" stroke="#ff0000" stroke-width="0.95"/>
<circle cx="398.5" cy="106.8" r="3.3" fill="#fff" stroke="#ff0000" stroke-width="0.95"/>
<circle cx="398.5" cy="120.1" r="3.3" fill="#fff" stroke="#ff0000" stroke-width="0.95"/>
<circle cx="399.2" cy="108.4" r="3.3" fill="#fff" stroke="#ff0000" stroke-width="0.95"/>
<circle cx="399.5" cy="116.5" r="3.3" fill="#fff" stroke="#ff0000" stroke-width="0.95"/>
<circle cx="399.8" cy="115.5" r="3.3" fill="#fff" stroke="#ff0000" stroke-width="0.95"/>
<circle cx="399.3" cy="116.7" r="3.3" fill="#fff" stroke="#ff0000" stroke-width="0.95"/>
<circle cx="399.8" cy="113.6" r="3.3" fill="#fff" stroke="#ff0000" stroke-width="0.95"/>
<circle cx="400.1" cy="115.0" r="3.3" fill="#fff" stroke="#ff0000" stroke-width="0.95"/>
<circle cx="401.2" cy="123.0" r="3.3" fill="#fff" stroke="#ff0000" stroke-width="0.95"/>
<circle cx="400.6" cy="116.5" r="3.3" fill="#fff" stroke="#ff0000" stroke-width="0.95"/>
<circle cx="401.8" cy="115.9" r="3.3" fill="#fff" stroke="#ff0000" stroke-width="0.95"/>
<circle cx="402.0" cy="125.6" r="3.3" fill="#fff" stroke="#ff0000" stroke-width="0.95"/>
<circle cx="401.8" cy="117.8" r="3.3" fill="#fff" stroke="#ff0000" stroke-width="0.95"/>
<circle cx="402.6" cy="115.5" r="3.3" fill="#fff" stroke="#ff0000" stroke-width="0.95"/>
<circle cx="402.3" cy="113.8" r="3.3" fill="#fff" stroke="#ff0000" stroke-width="0.95"/>
<circle cx="403.5" cy="117.5" r="3.3" fill="#fff" stroke="#ff0000" stroke-width="0.95"/>
<circle cx="403.4" cy="115.2" r="3.3" fill="#fff" stroke="#ff0000" stroke-width="0.95"/>
<circle cx="403.9" cy="120.4" r="3.3" fill="#fff" stroke="#ff0000" stroke-width="0.95"/>
<circle cx="403.9" cy="117.4" r="3.3" fill="#fff" stroke="#ff0000" stroke-width="0.95"/>
<circle cx="404.0" cy="125.7" r="3.3" fill="#fff" stroke="#ff0000" stroke-width="0.95"/>
<circle cx="404.4" cy="124.6" r="3.3" fill="#fff" stroke="#ff0000" stroke-width="0.95"/>
<circle cx="405.4" cy="128.0" r="3.3" fill="#fff" stroke="#ff0000" stroke-width="0.95"/>
<circle cx="405.4" cy="122.0" r="3.3" fill="#fff" stroke="#ff0000" stroke-width="0.95"/>
<circle cx="406.1" cy="128.9" r="3.3" fill="#fff" stroke="#ff0000" stroke-width="0.95"/>
<circle cx="406.5" cy="124.2" r="3.3" fill="#fff" stroke="#ff0000" stroke-width="0.95"/>
<circle cx="406.9" cy="122.6" r="3.3" fill="#fff" stroke="#ff0000" stroke-width="0.95"/>
<circle cx="407.1" cy="125.1" r="3.3" fill="#fff" stroke="#ff0000" stroke-width="0.95"/>
<circle cx="407.5" cy="116.5" r="3.3" fill="#fff" stroke="#ff0000" stroke-width="0.95"/>
<circle cx="407.8" cy="122.1" r="3.3" fill="#fff" stroke="#ff0000" stroke-width="0.95"/>
<circle cx="407.8" cy="124.5" r="3.3" fill="#fff" stroke="#ff0000" stroke-width="0.95"/>
<circle cx="408.1" cy="122.5" r="3.3" fill="#fff" stroke="#ff0000" stroke-width="0.95"/>
<circle cx="408.5" cy="127.2" r="3.3" fill="#fff" stroke="#ff0000" stroke-width="0.95"/>
<circle cx="408.7" cy="126.2" r="3.3" fill="#fff" stroke="#ff0000" stroke-width="0.95"/>
<circle cx="409.2" cy="127.9" r="3.3" fill="#fff" stroke="#ff0000" stroke-width="0.95"/>
<circle cx="409.3" cy="130.1" r="3.3" fill="#fff" stroke="#ff0000" stroke-width="0.95"/>
<circle cx="410.3" cy="125.7" r="3.3" fill="#fff" stroke="#ff0000" stroke-width="0.95"/>
<circle cx="410.7" cy="129.3" r="3.3" fill="#fff" stroke="#ff0000" stroke-width="0.95"/>
<circle cx="410.6" cy="134.9" r="3.3" fill="#fff" stroke="#ff0000" stroke-width="0.95"/>
<circle cx="411.0" cy="135.3" r="3.3" fill="#fff" stroke="#ff0000" stroke-width="0.95"/>
<circle cx="411.6" cy="124.6" r="3.3" fill="#fff" stroke="#ff0000" stroke-width="0.95"/>
<circle cx="411.5" cy="132.9" r="3.3" fill="#fff" stroke="#ff0000" stroke-width="0.95"/>
<circle cx="411.9" cy="132.2" r="3.3" fill="#fff" stroke="#ff0000" stroke-width="0.95"/>
<circle cx="411.9" cy="128.5" r="3.3" fill="#fff" stroke="#ff0000" stroke-width="0.95"/>
<circle cx="412.7" cy="127.8" r="3.3" fill="#fff" stroke="#ff0000" stroke-width="0.95"/>
<circle cx="412.5" cy="126.7" r="3.3" fill="#fff" stroke="#ff0000" stroke-width="0.95"/>
<circle cx="412.9" cy="139.4" r="3.3" fill="#fff" stroke="#ff0000" stroke-width="0.95"/>
<circle cx="413.8" cy="129.0" r="3.3" fill="#fff" stroke="#ff0000" stroke-width="0.95"/>
<circle cx="414.4" cy="133.8" r="3.3" fill="#fff" stroke="#ff0000" stroke-width="0.95"/>
<circle cx="414.6" cy="135.1" r="3.3" fill="#fff" stroke="#ff0000" stroke-width="0.95"/>
<circle cx="415.1" cy="132.8" r="3.3" fill="#fff" stroke="#ff0000" stroke-width="0.95"/>
<circle cx="414.8" cy="139.1" r="3.3" fill="#fff" stroke="#ff0000" stroke-width="0.95"/>
<circle cx="414.9" cy="133.2" r="3.3" fill="#fff" stroke="#ff0000" stroke-width="0.95"/>
<circle cx="415.8" cy="132.3" r="3.3" fill="#fff" stroke="#ff0000" stroke-width="0.95"/>
<circle cx="415.9" cy="137.2" r="3.3" fill="#fff" stroke="#ff0000" stroke-width="0.95"/>
<circle cx="416.2" cy="129.0" r="3.3" fill="#fff" stroke="#ff0000" stroke-width="0.95"/>
<circle cx="416.8" cy="127.7" r="3.3" fill="#fff" stroke="#ff0000" stroke-width="0.95"/>
<circle cx="416.9" cy="138.2" r="3.3" fill="#fff" stroke="#ff0000" stroke-width="0.95"/>
<circle cx="417.7" cy="141.0" r="3.3" fill="#fff" stroke="#ff0000" stroke-width="0.95"/>
<circle cx="417.3" cy="135.2" r="3.3" fill="#fff" stroke="#ff0000" stroke-width="0.95"/>
<circle cx="418.4" cy="136.0" r="3.3" fill="#fff" stroke="#ff0000" stroke-width="0.95"/>
<circle cx="418.2" cy="145.6" r="3.3" fill="#fff" stroke="#ff0000" stroke-width="0.95"/>
<circle cx="419.2" cy="139.8" r="3.3" fill="#fff" stroke="#ff0000" stroke-width="0.95"/>
<circle cx="418.9" cy="143.6" r="3.3" fill="#fff" stroke="#ff0000" stroke-width="0.95"/>
<circle cx="419.8" cy="142.7" r="3.3" fill="#fff" stroke="#ff0000" stroke-width="0.95"/>
<circle cx="419.7" cy="136.6" r="3.3" fill="#fff" stroke="#ff0000" stroke-width="0.95"/>
<circle cx="420.0" cy="142.9" r="3.3" fill="#fff" stroke="#ff0000" stroke-width="0.95"/>
<circle cx="420.4" cy="143.8" r="3.3" fill="#fff" stroke="#ff0000" stroke-width="0.95"/>
<circle cx="421.2" cy="135.2" r="3.3" fill="#fff" stroke="#ff0000" stroke-width="0.95"/>
<circle cx="421.2" cy="150.4" r="3.3" fill="#fff" stroke="#ff0000" stroke-width="0.95"/>
<circle cx="421.2" cy="133.1" r="3.3" fill="#fff" stroke="#ff0000" stroke-width="0.95"/>
<circle cx="422.3" cy="146.7" r="3.3" fill="#fff" stroke="#ff0000" stroke-width="0.95"/>
<circle cx="422.4" cy="138.0" r="3.3" fill="#fff" stroke="#ff0000" stroke-width="0.95"/>
<circle cx="422.6" cy="146.9" r="3.3" fill="#fff" stroke="#ff0000" stroke-width="0.95"/>
<circle cx="422.7" cy="143.7" r="3.3" fill="#fff" stroke="#ff0000" stroke-width="0.95"/>
<circle cx="423.3" cy="140.0" r="3.3" fill="#fff" stroke="#ff0000" stroke-width="0.95"/>
<circle cx="423.9" cy="142.6" r="3.3" fill="#fff" stroke="#ff0000" stroke-width="0.95"/>
<circle cx="423.6" cy="139.1" r="3.3" fill="#fff" stroke="#ff0000" stroke-width="0.95"/>
<circle cx="423.8" cy="146.2" r="3.3" fill="#fff" stroke="#ff0000" stroke-width="0.95"/>
<circle cx="424.8" cy="148.7" r="3.3" fill="#fff" stroke="#ff0000" stroke-width="0.95"/>
<circle cx="424.7" cy="151.9" r="3.3" fill="#fff" stroke="#ff0000" stroke-width="0.95"/>
<circle cx="425.5" cy="150.6" r="3.3" fill="#fff" stroke="#ff0000" stroke-width="0.95"/>
<circle cx="425.7" cy="141.4" r="3.3" fill="#fff" stroke="#ff0000" stroke-width="0.95"/>
<circle cx="426.0" cy="151.1" r="3.3" fill="#fff" stroke="#ff0000" stroke-width="0.95"/>
<circle cx="426.4" cy="145.6" r="3.3" fill="#fff" stroke="#ff0000" stroke-width="0.95"/>
<circle cx="426.1" cy="150.3" r="3.3" fill="#fff" stroke="#ff0000" stroke-width="0.95"/>
<circle cx="427.0" cy="146.2" r="3.3" fill="#fff" stroke="#ff0000" stroke-width="0.95"/>
<circle cx="427.6" cy="141.8" r="3.3" fill="#fff" stroke="#ff0000" stroke-width="0.95"/>
<circle cx="427.9" cy="149.7" r="3.3" fill="#fff" stroke="#ff0000" stroke-width="0.95"/>
<circle cx="428.3" cy="146.6" r="3.3" fill="#fff" stroke="#ff0000" stroke-width="0.95"/>
<circle cx="428.7" cy="148.4" r="3.3" fill="#fff" stroke="#ff0000" stroke-width="0.95"/>
<circle cx="428.6" cy="147.9" r="3.3" fill="#fff" stroke="#ff0000" stroke-width="0.95"/>
<circle cx="429.0" cy="152.4" r="3.3" fill="#fff" stroke="#ff0000" stroke-width="0.95"/>
<circle cx="429.6" cy="151.7" r="3.3" fill="#fff" stroke="#ff0000" stroke-width="0.95"/>
<circle cx="429.3" cy="149.5" r="3.3" fill="#fff" stroke="#ff0000" stroke-width="0.95"/>
<circle cx="430.4" cy="158.9" r="3.3" fill="#fff" stroke="#ff0000" stroke-width="0.95"/>
<circle cx="430.8" cy="160.2" r="3.3" fill="#fff" stroke="#ff0000" stroke-width="0.95"/>
<circle cx="430.2" cy="155.7" r="3.3" fill="#fff" stroke="#ff0000" stroke-width="0.95"/>
<circle cx="431.1" cy="145.2" r="3.3" fill="#fff" stroke="#ff0000" stroke-width="0.95"/>
<circle cx="431.8" cy="159.6" r="3.3" fill="#fff" stroke="#ff0000" stroke-width="0.95"/>
<circle cx="431.8" cy="152.8" r="3.3" fill="#fff" stroke="#ff0000" stroke-width="0.95"/>
<circle cx="432.2" cy="149.4" r="3.3" fill="#fff" stroke="#ff0000" stroke-width="0.95"/>
<circle cx="432.4" cy="157.7" r="3.3" fill="#fff" stroke="#ff0000" stroke-width="0.95"/>
<circle cx="432.8" cy="160.8" r="3.3" fill="#fff" stroke="#ff0000" stroke-width="0.95"/>
<circle cx="433.2" cy="163.5" r="3.3" fill="#fff" stroke="#ff0000" stroke-width="0.95"/>
<circle cx="433.8" cy="164.2" r="3.3" fill="#fff" stroke="#ff0000" stroke-width="0.95"/>
<circle cx="433.6" cy="160.5" r="3.3" fill="#fff" stroke="#ff0000" stroke-width="0.95"/>
<circle cx="434.5" cy="158.6" r="3.3" fill="#fff" stroke="#ff0000" stroke-width="0.95"/>
<circle cx="434.5" cy="165.8" r="3.3" fill="#fff" stroke="#ff0000" stroke-width="0.95"/>
<circle cx="434.4" cy="167.9" r="3.3" fill="#fff" stroke="#ff0000" stroke-width="0.95"/>
<circle cx="435.1" cy="155.4" r="3.3" fill="#fff" stroke="#ff0000" stroke-width="0.95"/>
<circle cx="435.6" cy="167.0" r="3.3" fill="#fff" stroke="#ff0000" stroke-width="0.95"/>
<circle cx="436.0" cy="154.2" r="3.3" fill="#fff" stroke="#ff0000" stroke-width="0.95"/>
<circle cx="436.5" cy="162.4" r="3.3" fill="#fff" stroke="#ff0000" stroke-width="0.95"/>
<circle cx="436.6" cy="167.4" r="3.3" fill="#fff" stroke="#ff0000" stroke-width="0.95"/>
<circle cx="436.7" cy="169.7" r="3.3" fill="#fff" stroke="#ff0000" stroke-width="0.95"/>
<circle cx="437.6" cy="168.3" r="3.3" fill="#fff" stroke="#ff0000" stroke-width="0.95"/>
<circle cx="437.7" cy="165.8" r="3.3" fill="#fff" stroke="#ff0000" stroke-width="0.95"/>
<circle cx="438.2" cy="154.4" r="3.3" fill="#fff" stroke="#ff0000" stroke-width="0.95"/>
<circle cx="438.2" cy="157.7" r="3.3" fill="#fff" stroke="#ff0000" stroke-width="0.95"/>
<circle cx="438.3" cy="166.2" r="3.3" fill="#fff" stroke="#ff0000" stroke-width="0.95"/>
<circle cx="439.1" cy="168.3" r="3.3" fill="#fff" stroke="#ff0000" stroke-width="0.95"/>
<circle cx="439.1" cy="162.4" r="3.3" fill="#fff" stroke="#ff0000" stroke-width="0.95"/>
<circle cx="439.4" cy="170.5" r="3.3" fill="#fff" stroke="#ff0000" stroke-width="0.95"/>
<circle cx="440.0" cy="161.3" r="3.3" fill="#fff" stroke="#ff0000" stroke-width="0.95"/>
<circle cx="440.2" cy="160.8" r="3.3" fill="#fff" stroke="#ff0000" stroke-width="0.95"/>
<circle cx="440.2" cy="168.9" r="3.3" fill="#fff" stroke="#ff0000" stroke-width="0.95"/>
<circle cx="440.7" cy="174.3" r="3.3" fill="#fff" stroke="#ff0000" stroke-width="0.95"/>
<circle cx="440.9" cy="161.3" r="3.3" fill="#fff" stroke="#ff0000" stroke-width="0.95"/>
<circle cx="441.4" cy="161.7" r="3.3" fill="#fff" stroke="#ff0000" stroke-width="0.95"/>
<circle cx="441.6" cy="175.5" r="3.3" fill="#fff" stroke="#ff0000" stroke-width="0.95"/>
<circle cx="441.9" cy="163.7" r="3.3" fill="#fff" stroke="#ff0000" stroke-width="0.95"/>
<circle cx="442.2" cy="173.0" r="3.3" fill="#fff" stroke="#ff0000" stroke-width="0.95"/>
<circle cx="442.9" cy="168.4" r="3.3" fill="#fff" stroke="#ff0000" stroke-width="0.95"/>
<circle cx="443.6" cy="176.7" r="3.3" fill="#fff" stroke="#ff0000" stroke-width="0.95"/>
<circle cx="444.1" cy="173.2" r="3.3" fill="#fff" stroke="#ff0000" stroke-width="0.95"/>
<circle cx="444.3" cy="177.4" r="3.3" fill="#fff" stroke="#ff0000" stroke-width="0.95"/>
<circle cx="444.2" cy="167.7" r="3.3" fill="#fff" stroke="#ff0000" stroke-width="0.95"/>
<circle cx="445.0" cy="172.8" r="3.3" fill="#fff" stroke="#ff0000" stroke-width="0.95"/>
<circle cx="445.3" cy="170.3" r="3.3" fill="#fff" stroke="#ff0000" stroke-width="0.95"/>
<circle cx="445.7" cy="174.2" r="3.3" fill="#fff" stroke="#ff0000" stroke-width="0.95"/>
<circle cx="445.9" cy="167.3" r="3.3" fill="#fff" stroke="#ff0000" stroke-width="0.95"/>
<circle cx="445.6" cy="173.5" r="3.3" fill="#fff" stroke="#ff0000" stroke-width="0.95"/>
<circle cx="445.9" cy="178.2" r="3.3" fill="#fff" stroke="#ff0000" stroke-width="0.95"/>
<circle cx="446.7" cy="169.4" r="3.3" fill="#fff" stroke="#ff0000" stroke-width="0.95"/>
<circle cx="446.5" cy="180.2" r="3.3" fill="#fff" stroke="#ff0000" stroke-width="0.95"/>
<circle cx="447.5" cy="177.5" r="3.3" fill="#fff" stroke="#ff0000" stroke-width="0.95"/>
<circle cx="447.4" cy="181.5" r="3.3" fill="#fff" stroke="#ff0000" stroke-width="0.95"/>
<circle cx="448.0" cy="175.9" r="3.3" fill="#fff" stroke="#ff0000" stroke-width="0.95"/>
<circle cx="448.1" cy="172.2" r="3.3" fill="#fff" stroke="#ff0000" stroke-width="0.95"/>
<circle cx="448.7" cy="175.1" r="3.3" fill="#fff" stroke="#ff0000" stroke-width="0.95"/>
<circle cx="448.7" cy="178.2" r="3.3" fill="#fff" stroke="#ff0000" stroke-width="0.95"/>
<circle cx="449.8" cy="181.0" r="3.3" fill="#fff" stroke="#ff0000" stroke-width="0.95"/>
<circle cx="449.7" cy="186.3" r="3.3" fill="#fff" stroke="#ff0000" stroke-width="0.95"/>
<circle cx="450.0" cy="176.9" r="3.3" fill="#fff" stroke="#ff0000" stroke-width="0.95"/>
<circle cx="450.3" cy="176.4" r="3.3" fill="#fff" stroke="#ff0000" stroke-width="0.95"/>
<circle cx="451.2" cy="180.9" r="3.3" fill="#fff" stroke="#ff0000" stroke-width="0.95"/>
<circle cx="450.9" cy="176.6" r="3.3" fill="#fff" stroke="#ff0000" stroke-width="0.95"/>
<circle cx="451.8" cy="179.5" r="3.3" fill="#fff" stroke="#ff0000" stroke-width="0.95"/>
<circle cx="451.5" cy="184.6" r="3.3" fill="#fff" stroke="#ff0000" stroke-width="0.95"/>
<circle cx="452.2" cy="186.2" r="3.3" fill="#fff" stroke="#ff0000" stroke-width="0.95"/>
<circle cx="452.4" cy="182.1" r="3.3" fill="#fff" stroke="#ff0000" stroke-width="0.95"/>
<circle cx="452.5" cy="187.3" r="3.3" fill="#fff" stroke="#ff0000" stroke-width="0.95"/>
<circle cx="453.3" cy="190.9" r="3.3" fill="#fff" stroke="#ff0000" stroke-width="0.95"/>
<circle cx="453.6" cy="181.5" r="3.3" fill="#fff" stroke="#ff0000" stroke-width="0.95"/>
<circle cx="453.4" cy="182.7" r="3.3" fill="#fff" stroke="#ff0000" stroke-width="0.95"/>
<circle cx="454.1" cy="184.5" r="3.3" fill="#fff" stroke="#ff0000" stroke-width="0.95"/>
<circle cx="454.3" cy="183.1" r="3.3" fill="#fff" stroke="#ff0000" stroke-width="0.95"/>
<circle cx="455.1" cy="187.4" r="3.3" fill="#fff" stroke="#ff0000" stroke-width="0.95"/>
<circle cx="455.3" cy="185.6" r="3.3" fill="#fff" stroke="#ff0000" stroke-width="0.95"/>
<circle cx="455.5" cy="177.7" r="3.3" fill="#fff" stroke="#ff0000" stroke-width="0.95"/>
<circle cx="455.3" cy="192.5" r="3.3" fill="#fff" stroke="#ff0000" stroke-width="0.95"/>
<circle cx="455.9" cy="190.0" r="3.3" fill="#fff" stroke="#ff0000" stroke-width="0.95"/>
<circle cx="456.9" cy="193.9" r="3.3" fill="#fff" stroke="#ff0000" stroke-width="0.95"/>
<circle cx="457.0" cy="190.0" r="3.3" fill="#fff" stroke="#ff0000" stroke-width="0.95"/>
<circle cx="457.5" cy="195.0" r="3.3" fill="#fff" stroke="#ff0000" stroke-width="0.95"/>
<circle cx="457.9" cy="193.9" r="3.3" fill="#fff" stroke="#ff0000" stroke-width="0.95"/>
<circle cx="457.9" cy="191.8" r="3.3" fill="#fff" stroke="#ff0000" stroke-width="0.95"/>
<circle cx="458.6" cy="198.6" r="3.3" fill="#fff" stroke="#ff0000" stroke-width="0.95"/>
<circle cx="458.4" cy="184.4" r="3.3" fill="#fff" stroke="#ff0000" stroke-width="0.95"/>
<circle cx="458.5" cy="191.5" r="3.3" fill="#fff" stroke="#ff0000" stroke-width="0.95"/>
<circle cx="458.9" cy="196.1" r="3.3" fill="#fff" stroke="#ff0000" stroke-width="0.95"/>
<circle cx="459.7" cy="196.0" r="3.3" fill="#fff" stroke="#ff0000" stroke-width="0.95"/>
<circle cx="459.9" cy="202.2" r="3.3" fill="#fff" stroke="#ff0000" stroke-width="0.95"/>
<circle cx="459.9" cy="192.7" r="3.3" fill="#fff" stroke="#ff0000" stroke-width="0.95"/>
<circle cx="460.5" cy="202.0" r="3.3" fill="#fff" stroke="#ff0000" stroke-width="0.95"/>
<circle cx="460.5" cy="199.6" r="3.3" fill="#fff" stroke="#ff0000" stroke-width="0.95"/>
<circle cx="461.0" cy="196.2" r="3.3" fill="#fff" stroke="#ff0000" stroke-width="0.95"/>
<circle cx="461.7" cy="194.9" r="3.3" fill="#fff" stroke="#ff0000" stroke-width="0.95"/>
<circle cx="462.3" cy="194.5" r="3.3" fill="#fff" stroke="#ff0000" stroke-width="0.95"/>
<circle cx="462.1" cy="190.8" r="3.3" fill="#fff" stroke="#ff0000" stroke-width="0.95"/>
<circle cx="462.9" cy="205.5" r="3.3" fill="#fff" stroke="#ff0000" stroke-width="0.95"/>
<circle cx="463.2" cy="201.0" r="3.3" fill="#fff" stroke="#ff0000" stroke-width="0.95"/>
<circle cx="462.9" cy="203.8" r="3.3" fill="#fff" stroke="#ff0000" stroke-width="0.95"/>
<circle cx="463.8" cy="199.8" r="3.3" fill="#fff" stroke="#ff0000" stroke-width="0.95"/>
<circle cx="464.1" cy="210.5" r="3.3" fill="#fff" stroke="#ff0000" stroke-width="0.95"/>
<circle cx="464.8" cy="199.0" r="3.3" fill="#fff" stroke="#ff0000" stroke-width="0.95"/>
<circle cx="464.2" cy="195.4" r="3.3" fill="#fff" stroke="#ff0000" stroke-width="0.95"/>
<circle cx="464.8" cy="199.1" r="3.3" fill="#fff" stroke="#ff0000" stroke-width="0.95"/>
<circle cx="465.1" cy="204.9" r="3.3" fill="#fff" stroke="#ff0000" stroke-width="0.95"/>
<circle cx="466.0" cy="206.9" r="3.3" fill="#fff" stroke="#ff0000" stroke-width="0.95"/>
<circle cx="466.4" cy="210.3" r="3.3" fill="#fff" stroke="#ff0000" stroke-width="0.95"/>
<circle cx="466.6" cy="198.9" r="3.3" fill="#fff" stroke="#ff0000" stroke-width="0.95"/>
<circle cx="466.7" cy="212.2" r="3.3" fill="#fff" stroke="#ff0000" stroke-width="0.95"/>
<circle cx="467.5" cy="206.5" r="3.3" fill="#fff" stroke="#ff0000" stroke-width="0.95"/>
<circle cx="467.8" cy="202.8" r="3.3" fill="#fff" stroke="#ff0000" stroke-width="0.95"/>
<circle cx="468.0" cy="212.2" r="3.3" fill="#fff" stroke="#ff0000" stroke-width="0.95"/>
<circle cx="467.7" cy="206.8" r="3.3" fill="#fff" stroke="#ff0000" stroke-width="0.95"/>
<circle cx="468.4" cy="204.4" r="3.3" fill="#fff" stroke="#ff0000" stroke-width="0.95"/>
<circle cx="468.4" cy="207.9" r="3.3" fill="#fff" stroke="#ff0000" stroke-width="0.95"/>
<circle cx="468.7" cy="211.5" r="3.3" fill="#fff" stroke="#ff0000" stroke-width="0.95"/>
<circle cx="469.2" cy="211.9" r="3.3" fill="#fff" stroke="#ff0000" stroke-width="0.95"/>
<circle cx="470.3" cy="206.3" r="3.3" fill="#fff" stroke="#ff0000" stroke-width="0.95"/>
<circle cx="470.2" cy="204.2" r="3.3" fill="#fff" stroke="#ff0000" stroke-width="0.95"/>
<circle cx="470.4" cy="214.5" r="3.3" fill="#fff" stroke="#ff0000" stroke-width="0.95"/>
<circle cx="471.1" cy="213.0" r="3.3" fill="#fff" stroke="#ff0000" stroke-width="0.95"/>
<circle cx="471.2" cy="222.3" r="3.3" fill="#fff" stroke="#ff0000" stroke-width="0.95"/>
<circle cx="471.0" cy="208.8" r="3.3" fill="#fff" stroke="#ff0000" stroke-width="0.95"/>
<circle cx="472.2" cy="213.5" r="3.3" fill="#fff" stroke="#ff0000" stroke-width="0.95"/>
<circle cx="472.1" cy="209.7" r="3.3" fill="#fff" stroke="#ff0000" stroke-width="0.95"/>
<circle cx="473.0" cy="210.8" r="3.3" fill="#fff" stroke="#ff0000" stroke-width="0.95"/>
<circle cx="472.8" cy="218.5" r="3.3" fill="#fff" stroke="#ff0000" stroke-width="0.95"/>
<circle cx="472.9" cy="208.7" r="3.3" fill="#fff" stroke="#ff0000" stroke-width="0.95"/>
<circle cx="473.1" cy="207.3" r="3.3" fill="#fff" stroke="#ff0000" stroke-width="0.95"/>
<circle cx="474.2" cy="213.1" r="3.3" fill="#fff" stroke="#ff0000" stroke-width="0.95"/>
<circle cx="474.0" cy="214.3" r="3.3" fill="#fff" stroke="#ff0000" stroke-width="0.95"/>
<circle cx="474.4" cy="211.1" r="3.3" fill="#fff" stroke="#ff0000" stroke-width="0.95"/>
<circle cx="475.3" cy="209.9" r="3.3" fill="#fff" stroke="#ff0000" stroke-width="0.95"/>
<circle cx="475.3" cy="216.7" r="3.3" fill="#fff" stroke="#ff0000" stroke-width="0.95"/>
<circle cx="475.1" cy="213.2" r="3.3" fill="#fff" stroke="#ff0000" stroke-width="0.95"/>
<circle cx="475.4" cy="218.4" r="3.3" fill="#fff" stroke="#ff0000" stroke-width="0.95"/>
<circle cx="475.7" cy="215.6" r="3.3" fill="#fff" stroke="#ff0000" stroke-width="0.95"/>
<circle cx="476.1" cy="214.8" r="3.3" fill="#fff" stroke="#ff0000" stroke-width="0.95"/>
<circle cx="477.1" cy="221.1" r="3.3" fill="#fff" stroke="#ff0000" stroke-width="0.95"/>
<circle cx="477.3" cy="222.3" r="3.3" fill="#fff" stroke="#ff0000" stroke-width="0.95"/>
<circle cx="477.9" cy="211.8" r="3.3" fill="#fff" stroke="#ff0000" stroke-width="0.95"/>
<circle cx="478.2" cy="214.0" r="3.3" fill="#fff" stroke="#ff0000" stroke-width="0.95"/>
<circle cx="478.0" cy="220.8" r="3.3" fill="#fff" stroke="#ff0000" stroke-width="0.95"/>
<circle cx="478.7" cy="212.6" r="3.3" fill="#fff" stroke="#ff0000" stroke-width="0.95"/>
<circle cx="478.8" cy="221.8" r="3.3" fill="#fff" stroke="#ff0000" stroke-width="0.95"/>
<circle cx="479.2" cy="220.4" r="3.3" fill="#fff" stroke="#ff0000" stroke-width="0.95"/>
<circle cx="479.7" cy="225.5" r="3.3" fill="#fff" stroke="#ff0000" stroke-width="0.95"/>
<circle cx="479.5" cy="217.7" r="3.3" fill="#fff" stroke="#ff0000" stroke-width="0.95"/>
<circle cx="480.7" cy="225.2" r="3.3" fill="#fff" stroke="#ff0000" stroke-width="0.95"/>
<circle cx="480.6" cy="231.6" r="3.3" fill="#fff" stroke="#ff0000" stroke-width="0.95"/>
<circle cx="481.3" cy="215.4" r="3.3" fill="#fff" stroke="#ff0000" stroke-width="0.95"/>
<circle cx="481.2" cy="225.7" r="3.3" fill="#fff" stroke="#ff0000" stroke-width="0.95"/>
<circle cx="482.1" cy="219.9" r="3.3" fill="#fff" stroke="#ff0000" stroke-width="0.95"/>
<circle cx="481.7" cy="233.2" r="3.3" fill="#fff" stroke="#ff0000" stroke-width="0.95"/>
<circle cx="482.2" cy="233.4" r="3.3" fill="#fff" stroke="#ff0000" stroke-width="0.95"/>
<circle cx="482.2" cy="219.7" r="3.3" fill="#fff" stroke="#ff0000" stroke-width="0.95"/>
<circle cx="483.4" cy="223.8" r="3.3" fill="#fff" stroke="#ff0000" stroke-width="0.95"/>
<circle cx="483.8" cy="231.5" r="3.3" fill="#fff" stroke="#ff0000" stroke-width="0.95"/>
<circle cx="484.2" cy="223.0" r="3.3" fill="#fff" stroke="#ff0000" stroke-width="0.95"/>
<circle cx="483.7" cy="216.1" r="3.3" fill="#fff" stroke="#ff0000" stroke-width="0.95"/>
<circle cx="484.5" cy="222.8" r="3.3" fill="#fff" stroke="#ff0000" stroke-width="0.95"/>
<circle cx="485.2" cy="236.0" r="3.3" fill="#fff" stroke="#ff0000" stroke-width="0.95"/>
<circle cx="485.2" cy="219.5" r="3.3" fill="#fff" stroke="#ff0000" stroke-width="0.95"/>
<circle cx="485.2" cy="237.3" r="3.3" fill="#fff" stroke="#ff0000" stroke-width="0.95"/>
<circle cx="485.6" cy="235.4" r="3.3" fill="#fff" stroke="#ff0000" stroke-width="0.95"/>
<circle cx="485.8" cy="239.5" r="3.3" fill="#fff" stroke="#ff0000" stroke-width="0.95"/>
<circle cx="486.6" cy="226.7" r="3.3" fill="#fff" stroke="#ff0000" stroke-width="0.95"/>
<circle cx="486.7" cy="230.1" r="3.3" fill="#fff" stroke="#ff0000" stroke-width="0.95"/>
<circle cx="486.7" cy="235.1" r="3.3" fill="#fff" stroke="#ff0000" stroke-width="0.95"/>
<circle cx="487.8" cy="231.8" r="3.3" fill="#fff" stroke="#ff0000" stroke-width="0.95"/>
<circle cx="488.0" cy="230.9" r="3.3" fill="#fff" stroke="#ff0000" stroke-width="0.95"/>
<circle cx="488.1" cy="230.4" r="3.3" fill="#fff" stroke="#ff0000" stroke-width="0.95"/>
<circle cx="488.0" cy="242.0" r="3.3" fill="#fff" stroke="#ff0000" stroke-width="0.95"/>
<circle cx="488.6" cy="243.0" r="3.3" fill="#fff" stroke="#ff0000" stroke-width="0.95"/>
<circle cx="489.3" cy="239.2" r="3.3" fill="#fff" stroke="#ff0000" stroke-width="0.95"/>
<circle cx="489.2" cy="228.2" r="3.3" fill="#fff" stroke="#ff0000" stroke-width="0.95"/>
<circle cx="489.7" cy="240.0" r="3.3" fill="#fff" stroke="#ff0000" stroke-width="0.95"/>
<circle cx="490.1" cy="244.3" r="3.3" fill="#fff" stroke="#ff0000" stroke-width="0.95"/>
<circle cx="490.8" cy="239.3" r="3.3" fill="#fff" stroke="#ff0000" stroke-width="0.95"/>
<circle cx="490.4" cy="248.8" r="3.3" fill="#fff" stroke="#ff0000" stroke-width="0.95"/>
<circle cx="491.4" cy="238.9" r="3.3" fill="#fff" stroke="#ff0000" stroke-width="0.95"/>
<circle cx="491.4" cy="225.9" r="3.3" fill="#fff" stroke="#ff0000" stroke-width="0.95"/>
<circle cx="492.0" cy="234.5" r="3.3" fill="#fff" stroke="#ff0000" stroke-width="0.95"/>
<circle cx="491.8" cy="246.2" r="3.3" fill="#fff" stroke="#ff0000" stroke-width="0.95"/>
<circle cx="492.3" cy="235.4" r="3.3" fill="#fff" stroke="#ff0000" stroke-width="0.95"/>
<circle cx="493.1" cy="241.1" r="3.3" fill="#fff" stroke="#ff0000" stroke-width="0.95"/>
<circle cx="493.1" cy="243.8" r="3.3" fill="#fff" stroke="#ff0000" stroke-width="0.95"/>
<circle cx="493.9" cy="236.7" r="3.3" fill="#fff" stroke="#ff0000" stroke-width="0.95"/>
<circle cx="493.8" cy="245.3" r="3.3" fill="#fff" stroke="#ff0000" stroke-width="0.95"/>
<circle cx="494.3" cy="237.4" r="3.3" fill="#fff" stroke="#ff0000" stroke-width="0.95"/>
<circle cx="494.3" cy="238.1" r="3.3" fill="#fff" stroke="#ff0000" stroke-width="0.95"/>
<circle cx="494.5" cy="242.2" r="3.3" fill="#fff" stroke="#ff0000" stroke-width="0.95"/>
<circle cx="494.9" cy="239.0" r="3.3" fill="#fff" stroke="#ff0000" stroke-width="0.95"/>
<circle cx="495.5" cy="233.6" r="3.3" fill="#fff" stroke="#ff0000" stroke-width="0.95"/>
<circle cx="496.1" cy="255.6" r="3.3" fill="#fff" stroke="#ff0000" stroke-width="0.95"/>
<circle cx="496.0" cy="238.3" r="3.3" fill="#fff" stroke="#ff0000" stroke-width="0.95"/>
<circle cx="496.5" cy="245.4" r="3.3" fill="#fff" stroke="#ff0000" stroke-width="0.95"/>
<circle cx="496.5" cy="249.8" r="3.3" fill="#fff" stroke="#ff0000" stroke-width="0.95"/>
<circle cx="497.5" cy="243.2" r="3.3" fill="#fff" stroke="#ff0000" stroke-width="0.95"/>
<circle cx="497.3" cy="238.5" r="3.3" fill="#fff" stroke="#ff0000" stroke-width="0.95"/>
<circle cx="498.3" cy="245.5" r="3.3" fill="#fff" stroke="#ff0000" stroke-width="0.95"/>
<circle cx="498.2" cy="249.6" r="3.3" fill="#fff" stroke="#ff0000" stroke-width="0.95"/>
<circle cx="498.8" cy="253.1" r="3.3" fill="#fff" stroke="#ff0000" stroke-width="0.95"/>
<circle cx="499.0" cy="258.9" r="3.3" fill="#fff" stroke="#ff0000" stroke-width="0.95"/>
<circle cx="499.0" cy="235.2" r="3.3" fill="#fff" stroke="#ff0000" stroke-width="0.95"/>
<circle cx="499.8" cy="244.6" r="3.3" fill="#fff" stroke="#ff0000" stroke-width="0.95"/>
<circle cx="499.8" cy="256.6" r="3.3" fill="#fff" stroke="#ff0000" stroke-width="0.95"/>
<circle cx="500.5" cy="255.5" r="3.3" fill="#fff" stroke="#ff0000" stroke-width="0.95"/>
<circle cx="501.0" cy="241.9" r="3.3" fill="#fff" stroke="#ff0000" stroke-width="0.95"/>
<circle cx="501.4" cy="252.5" r="3.3" fill="#fff" stroke="#ff0000" stroke-width="0.95"/>
<circle cx="501.3" cy="254.6" r="3.3" fill="#fff" stroke="#ff0000" stroke-width="0.95"/>
<circle cx="501.7" cy="247.1" r="3.3" fill="#fff" stroke="#ff0000" stroke-width="0.95"/>
<circle cx="502.1" cy="255.3" r="3.3" fill="#fff" stroke="#ff0000" stroke-width="0.95"/>
<circle cx="502.7" cy="259.1" r="3.3" fill="#fff" stroke="#ff0000" stroke-width="0.95"/>
<circle cx="502.3" cy="258.5" r="3.3" fill="#fff" stroke="#ff0000" stroke-width="0.95"/>
<circle cx="503.2" cy="252.6" r="3.3" fill="#fff" stroke="#ff0000" stroke-width="0.95"/>
<circle cx="503.4" cy="246.8" r="3.3" fill="#fff" stroke="#ff0000" stroke-width="0.95"/>
<circle cx="503.8" cy="245.6" r="3.3" fill="#fff" stroke="#ff0000" stroke-width="0.95"/>
<circle cx="504.4" cy="245.9" r="3.3" fill="#fff" stroke="#ff0000" stroke-width="0.95"/>
<circle cx="504.9" cy="242.6" r="3.3" fill="#fff" stroke="#ff0000" stroke-width="0.95"/>
<circle cx="505.2" cy="257.7" r="3.3" fill="#fff" stroke="#ff0000" stroke-width="0.95"/>
<circle cx="505.4" cy="258.4" r="3.3" fill="#fff" stroke="#ff0000" stroke-width="0.95"/>
<circle cx="505.3" cy="251.9" r="3.3" fill="#fff" stroke="#ff0000" stroke-width="0.95"/>
<circle cx="505.7" cy="256.8" r="3.3" fill="#fff" stroke="#ff0000" stroke-width="0.95"/>
<circle cx="506.5" cy="257.5" r="3.3" fill="#fff" stroke="#ff0000" stroke-width="0.95"/>
<circle cx="506.5" cy="268.7" r="3.3" fill="#fff" stroke="#ff0000" stroke-width="0.95"/>
<circle cx="507.3" cy="263.5" r="3.3" fill="#fff" stroke="#ff0000" stroke-width="0.95"/>
<circle cx="507.2" cy="255.0" r="3.3" fill="#fff" stroke="#ff0000" stroke-width="0.95"/>
<circle cx="507.8" cy="259.6" r="3.3" fill="#fff" stroke="#ff0000" stroke-width="0.95"/>
<circle cx="507.9" cy="265.7" r="3.3" fill="#fff" stroke="#ff0000" stroke-width="0.95"/>
<circle cx="508.1" cy="259.7" r="3.3" fill="#fff" stroke="#ff0000" stroke-width="0.95"/>
<circle cx="508.3" cy="260.0" r="3.3" fill="#fff" stroke="#ff0000" stroke-width="0.95"/>
<circle cx="508.6" cy="257.5" r="3.3" fill="#fff" stroke="#ff0000" stroke-width="0.95"/>
<circle cx="508.9" cy="255.8" r="3.3" fill="#fff" stroke="#ff0000" stroke-width="0.95"/>
<circle cx="509.1" cy="250.0" r="3.3" fill="#fff" stroke="#ff0000" stroke-width="0.95"/>
<circle cx="510.0" cy="262.4" r="3.3" fill="#fff" stroke="#ff0000" stroke-width="0.95"/>
<circle cx="510.3" cy="268.8" r="3.3" fill="#fff" stroke="#ff0000" stroke-width="0.95"/>
<circle cx="510.1" cy="251.6" r="3.3" fill="#fff" stroke="#ff0000" stroke-width="0.95"/>
<circle cx="511.1" cy="274.0" r="3.3" fill="#fff" stroke="#ff0000" stroke-width="0.95"/>
<circle cx="511.7" cy="274.6" r="3.3" fill="#fff" stroke="#ff0000" stroke-width="0.95"/>
<circle cx="511.5" cy="264.9" r="3.3" fill="#fff" stroke="#ff0000" stroke-width="0.95"/>
<circle cx="512.2" cy="262.4" r="3.3" fill="#fff" stroke="#ff0000" stroke-width="0.95"/>
<circle cx="512.4" cy="266.7" r="3.3" fill="#fff" stroke="#ff0000" stroke-width="0.95"/>
<circle cx="512.2" cy="268.1" r="3.3" fill="#fff" stroke="#ff0000" stroke-width="0.95"/>
<circle cx="513.2" cy="257.1" r="3.3" fill="#fff" stroke="#ff0000" stroke-width="0.95"/>
<circle cx="512.8" cy="268.4" r="3.3" fill="#fff" stroke="#ff0000" stroke-width="0.95"/>
<circle cx="513.7" cy="260.8" r="3.3" fill="#fff" stroke="#ff0000" stroke-width="0.95"/>
<circle cx="514.0" cy="275.3" r="3.3" fill="#fff" stroke="#ff0000" stroke-width="0.95"/>
<circle cx="514.8" cy="264.5" r="3.3" fill="#fff" stroke="#ff0000" stroke-width="0.95"/>
<circle cx="514.7" cy="257.6" r="3.3" fill="#fff" stroke="#ff0000" stroke-width="0.95"/>
<circle cx="514.8" cy="261.4" r="3.3" fill="#fff" stroke="#ff0000" stroke-width="0.95"/>
<circle cx="514.9" cy="269.5" r="3.3" fill="#fff" stroke="#ff0000" stroke-width="0.95"/>
<circle cx="515.4" cy="268.0" r="3.3" fill="#fff" stroke="#ff0000" stroke-width="0.95"/>
<circle cx="516.1" cy="269.3" r="3.3" fill="#fff" stroke="#ff0000" stroke-width="0.95"/>
<circle cx="516.4" cy="272.1" r="3.3" fill="#fff" stroke="#ff0000" stroke-width="0.95"/>
<circle cx="516.5" cy="274.8" r="3.3" fill="#fff" stroke="#ff0000" stroke-width="0.95"/>
<circle cx="517.2" cy="267.5" r="3.3" fill="#fff" stroke="#ff0000" stroke-width="0.95"/>
<circle cx="517.4" cy="261.9" r="3.3" fill="#fff" stroke="#ff0000" stroke-width="0.95"/>
<circle cx="517.9" cy="266.9" r="3.3" fill="#fff" stroke="#ff0000" stroke-width="0.95"/>
<circle cx="518.0" cy="272.3" r="3.3" fill="#fff" stroke="#ff0000" stroke-width="0.95"/>
<circle cx="517.9" cy="268.5" r="3.3" fill="#fff" stroke="#ff0000" stroke-width="0.95"/>
<circle cx="519.0" cy="285.8" r="3.3" fill="#fff" stroke="#ff0000" stroke-width="0.95"/>
<circle cx="519.0" cy="278.7" r="3.3" fill="#fff" stroke="#ff0000" stroke-width="0.95"/>
<circle cx="519.3" cy="275.0" r="3.3" fill="#fff" stroke="#ff0000" stroke-width="0.95"/>
<circle cx="519.3" cy="269.7" r="3.3" fill="#fff" stroke="#ff0000" stroke-width="0.95"/>
<circle cx="520.2" cy="276.7" r="3.3" fill="#fff" stroke="#ff0000" stroke-width="0.95"/>
<circle cx="520.7" cy="286.8" r="3.3" fill="#fff" stroke="#ff0000" stroke-width="0.95"/>
<circle cx="520.3" cy="277.0" r="3.3" fill="#fff" stroke="#ff0000" stroke-width="0.95"/>
<circle cx="521.0" cy="260.4" r="3.3" fill="#fff" stroke="#ff0000" stroke-width="0.95"/>
<circle cx="521.0" cy="261.7" r="3.3" fill="#fff" stroke="#ff0000" stroke-width="0.95"/>
<circle cx="521.5" cy="283.1" r="3.3" fill="#fff" stroke="#ff0000" stroke-width="0.95"/>
<circle cx="521.9" cy="285.2" r="3.3" fill="#fff" stroke="#ff0000" stroke-width="0.95"/>
<circle cx="522.1" cy="278.1" r="3.3" fill="#fff" stroke="#ff0000" stroke-width="0.95"/>
<circle cx="523.0" cy="267.0" r="3.3" fill="#fff" stroke="#ff0000" stroke-width="0.95"/>
<circle cx="523.1" cy="276.6" r="3.3" fill="#fff" stroke="#ff0000" stroke-width="0.95"/>
<circle cx="523.7" cy="283.3" r="3.3" fill="#fff" stroke="#ff0000" stroke-width="0.95"/>
<circle cx="523.8" cy="281.6" r="3.3" fill="#fff" stroke="#ff0000" stroke-width="0.95"/>
<circle cx="523.8" cy="266.4" r="3.3" fill="#fff" stroke="#ff0000" stroke-width="0.95"/>
<circle cx="524.2" cy="277.2" r="3.3" fill="#fff" stroke="#ff0000" stroke-width="0.95"/>
<circle cx="524.8" cy="296.0" r="3.3" fill="#fff" stroke="#ff0000" stroke-width="0.95"/>
<circle cx="524.9" cy="270.3" r="3.3" fill="#fff" stroke="#ff0000" stroke-width="0.95"/>
<circle cx="525.9" cy="276.3" r="3.3" fill="#fff" stroke="#ff0000" stroke-width="0.95"/>
<circle cx="525.5" cy="275.7" r="3.3" fill="#fff" stroke="#ff0000" stroke-width="0.95"/>
<circle cx="526.5" cy="274.9" r="3.3" fill="#fff" stroke="#ff0000" stroke-width="0.95"/>
<circle cx="527.0" cy="279.6" r="3.3" fill="#fff" stroke="#ff0000" stroke-width="0.95"/>
<circle cx="526.7" cy="283.0" r="3.3" fill="#fff" stroke="#ff0000" stroke-width="0.95"/>
<circle cx="527.4" cy="291.5" r="3.3" fill="#fff" stroke="#ff0000" stroke-width="0.95"/>
<circle cx="527.6" cy="289.5" r="3.3" fill="#fff" stroke="#ff0000" stroke-width="0.95"/>
<circle cx="527.5" cy="289.0" r="3.3" fill="#fff" stroke="#ff0000" stroke-width="0.95"/>
<circle cx="528.2" cy="290.8" r="3.3" fill="#fff" stroke="#ff0000" stroke-width="0.95"/>
<circle cx="528.6" cy="293.2" r="3.3" fill="#fff" stroke="#ff0000" stroke-width="0.95"/>
<circle cx="528.9" cy="297.3" r="3.3" fill="#fff" stroke="#ff0000" stroke-width="0.95"/>
<circle cx="529.2" cy="291.1" r="3.3" fill="#fff" stroke="#ff0000" stroke-width="0.95"/>
<circle cx="529.7" cy="290.1" r="3.3" fill="#fff" stroke="#ff0000" stroke-width="0.95"/>
<circle cx="530.1" cy="279.5" r="3.3" fill="#fff" stroke="#ff0000" stroke-width="0.95"/>
<circle cx="530.4" cy="301.6" r="3.3" fill="#fff" stroke="#ff0000" stroke-width="0.95"/>
<circle cx="530.3" cy="293.1" r="3.3" fill="#fff" stroke="#ff0000" stroke-width="0.95"/>
<circle cx="530.9" cy="280.5" r="3.3" fill="#fff" stroke="#ff0000" stroke-width="0.95"/>
<circle cx="531.0" cy="281.6" r="3.3" fill="#fff" stroke="#ff0000" stroke-width="0.95"/>
<circle cx="532.1" cy="289.3" r="3.3" fill="#fff" stroke="#ff0000" stroke-width="0.95"/>
<circle cx="531.8" cy="288.1" r="3.3" fill="#fff" stroke="#ff0000" stroke-width="0.95"/>
<circle cx="531.8" cy="283.9" r="3.3" fill="#fff" stroke="#ff0000" stroke-width="0.95"/>
<circle cx="532.3" cy="289.6" r="3.3" fill="#fff" stroke="#ff0000" stroke-width="0.95"/>
<circle cx="532.6" cy="282.3" r="3.3" fill="#fff" stroke="#ff0000" stroke-width="0.95"/>
<circle cx="532.9" cy="282.8" r="3.3" fill="#fff" stroke="#ff0000" stroke-width="0.95"/>
<circle cx="533.3" cy="279.7" r="3.3" fill="#fff" stroke="#ff0000" stroke-width="0.95"/>
<circle cx="534.4" cy="296.1" r="3.3" fill="#fff" stroke="#ff0000" stroke-width="0.95"/>
<circle cx="534.0" cy="284.3" r="3.3" fill="#fff" stroke="#ff0000" stroke-width="0.95"/>
<circle cx="534.4" cy="298.9" r="3.3" fill="#fff" stroke="#ff0000" stroke-width="0.95"/>
<circle cx="535.4" cy="309.4" r="3.3" fill="#fff" stroke="#ff0000" stroke-width="0.95"/>
<circle cx="534.9" cy="276.1" r="3.3" fill="#fff" stroke="#ff0000" stroke-width="0.95"/>
<circle cx="535.4" cy="301.6" r="3.3" fill="#fff" stroke="#ff0000" stroke-width="0.95"/>
<circle cx="536.1" cy="290.6" r="3.3" fill="#fff" stroke="#ff0000" stroke-width="0.95"/>
<circle cx="536.3" cy="302.0" r="3.3" fill="#fff" stroke="#ff0000" stroke-width="0.95"/>
<circle cx="536.6" cy="298.3" r="3.3" fill="#fff" stroke="#ff0000" stroke-width="0.95"/>
<circle cx="536.9" cy="292.8" r="3.3" fill="#fff" stroke="#ff0000" stroke-width="0.95"/>
<circle cx="537.1" cy="301.5" r="3.3" fill="#fff" stroke="#ff0000" stroke-width="0.95"/>
<circle cx="537.8" cy="296.7" r="3.3" fill="#fff" stroke="#ff0000" stroke-width="0.95"/>
<circle cx="537.8" cy="296.7" r="3.3" fill="#fff" stroke="#ff0000" stroke-width="0.95"/>
<circle cx="538.6" cy="295.0" r="3.3" fill="#fff" stroke="#ff0000" stroke-width="0.95"/>
<circle cx="538.8" cy="307.4" r="3.3" fill="#fff" stroke="#ff0000" stroke-width="0.95"/>
<circle cx="539.3" cy="298.7" r="3.3" fill="#fff" stroke="#ff0000" stroke-width="0.95"/>
<circle cx="539.8" cy="297.9" r="3.3" fill="#fff" stroke="#ff0000" stroke-width="0.95"/>
<circle cx="539.4" cy="301.9" r="3.3" fill="#fff" stroke="#ff0000" stroke-width="0.95"/>
<circle cx="540.4" cy="309.2" r="3.3" fill="#fff" stroke="#ff0000" stroke-width="0.95"/>
<circle cx="540.1" cy="315.0" r="3.3" fill="#fff" stroke="#ff0000" stroke-width="0.95"/>
<circle cx="540.9" cy="296.7" r="3.3" fill="#fff" stroke="#ff0000" stroke-width="0.95"/>
<circle cx="541.0" cy="313.5" r="3.3" fill="#fff" stroke="#ff0000" stroke-width="0.95"/>
<circle cx="542.0" cy="306.2" r="3.3" fill="#fff" stroke="#ff0000" stroke-width="0.95"/>
<circle cx="541.8" cy="313.7" r="3.3" fill="#fff" stroke="#ff0000" stroke-width="0.95"/>
<circle cx="542.1" cy="306.6" r="3.3" fill="#fff" stroke="#ff0000" stroke-width="0.95"/>
<circle cx="542.6" cy="290.8" r="3.3" fill="#fff" stroke="#ff0000" stroke-width="0.95"/>
<circle cx="543.1" cy="301.8" r="3.3" fill="#fff" stroke="#ff0000" stroke-width="0.95"/>
<circle cx="543.5" cy="292.6" r="3.3" fill="#fff" stroke="#ff0000" stroke-width="0.95"/>
<circle cx="543.9" cy="297.7" r="3.3" fill="#fff" stroke="#ff0000" stroke-width="0.95"/>
<circle cx="543.6" cy="291.5" r="3.3" fill="#fff" stroke="#ff0000" stroke-width="0.95"/>
<circle cx="544.6" cy="323.5" r="3.3" fill="#fff" stroke="#ff0000" stroke-width="0.95"/>
<circle cx="544.7" cy="307.2" r="3.3" fill="#fff" stroke="#ff0000" stroke-width="0.95"/>
<circle cx="545.3" cy="316.2" r="3.3" fill="#fff" stroke="#ff0000" stroke-width="0.95"/>
<circle cx="545.5" cy="302.4" r="3.3" fill="#fff" stroke="#ff0000" stroke-width="0.95"/>
<circle cx="545.8" cy="305.4" r="3.3" fill="#fff" stroke="#ff0000" stroke-width="0.95"/>
<circle cx="546.0" cy="320.1" r="3.3" fill="#fff" stroke="#ff0000" stroke-width="0.95"/>
<circle cx="546.5" cy="312.2" r="3.3" fill="#fff" stroke="#ff0000" stroke-width="0.95"/>
<circle cx="546.4" cy="299.8" r="3.3" fill="#fff" stroke="#ff0000" stroke-width="0.95"/>
<circle cx="546.8" cy="311.0" r="3.3" fill="#fff" stroke="#ff0000" stroke-width="0.95"/>
<circle cx="547.7" cy="320.9" r="3.3" fill="#fff" stroke="#ff0000" stroke-width="0.95"/>
<circle cx="547.7" cy="314.6" r="3.3" fill="#fff" stroke="#ff0000" stroke-width="0.95"/>
<circle cx="547.6" cy="312.3" r="3.3" fill="#fff" stroke="#ff0000" stroke-width="0.95"/>
<circle cx="548.8" cy="310.1" r="3.3" fill="#fff" stroke="#ff0000" stroke-width="0.95"/>
<circle cx="548.6" cy="299.8" r="3.3" fill="#fff" stroke="#ff0000" stroke-width="0.95"/>
<circle cx="548.7" cy="300.4" r="3.3" fill="#fff" stroke="#ff0000" stroke-width="0.95"/>
<circle cx="549.4" cy="313.5" r="3.3" fill="#fff" stroke="#ff0000" stroke-width="0.95"/>
<circle cx="549.6" cy="316.5" r="3.3" fill="#fff" stroke="#ff0000" stroke-width="0.95"/>
<circle cx="549.9" cy="295.0" r="3.3" fill="#fff" stroke="#ff0000" stroke-width="0.95"/>
<circle cx="550.8" cy="311.3" r="3.3" fill="#fff" stroke="#ff0000" stroke-width="0.95"/>
<circle cx="550.7" cy="323.5" r="3.3" fill="#fff" stroke="#ff0000" stroke-width="0.95"/>
<circle cx="551.2" cy="319.1" r="3.3" fill="#fff" stroke="#ff0000" stroke-width="0.95"/>
<circle cx="551.1" cy="318.4" r="3.3" fill="#fff" stroke="#ff0000" stroke-width="0.95"/>
<circle cx="551.8" cy="324.5" r="3.3" fill="#fff" stroke="#ff0000" stroke-width="0.95"/>
<circle cx="551.8" cy="309.4" r="3.3" fill="#fff" stroke="#ff0000" stroke-width="0.95"/>
<circle cx="552.8" cy="305.5" r="3.3" fill="#fff" stroke="#ff0000" stroke-width="0.95"/>
<circle cx="552.8" cy="325.2" r="3.3" fill="#fff" stroke="#ff0000" stroke-width="0.95"/>
<circle cx="552.6" cy="307.1" r="3.3" fill="#fff" stroke="#ff0000" stroke-width="0.95"/>
<circle cx="553.8" cy="321.5" r="3.3" fill="#fff" stroke="#ff0000" stroke-width="0.95"/>
<circle cx="553.3" cy="309.9" r="3.3" fill="#fff" stroke="#ff0000" stroke-width="0.95"/>
<circle cx="554.4" cy="304.7" r="3.3" fill="#fff" stroke="#ff0000" stroke-width="0.95"/>
<circle cx="554.9" cy="320.7" r="3.3" fill="#fff" stroke="#ff0000" stroke-width="0.95"/>
<circle cx="555.0" cy="328.0" r="3.3" fill="#fff" stroke="#ff0000" stroke-width="0.95"/>
<circle cx="555.4" cy="318.0" r="3.3" fill="#fff" stroke="#ff0000" stroke-width="0.95"/>
<circle cx="555.4" cy="316.4" r="3.3" fill="#fff" stroke="#ff0000" stroke-width="0.95"/>
<circle cx="555.5" cy="314.9" r="3.3" fill="#fff" stroke="#ff0000" stroke-width="0.95"/>
<circle cx="556.3" cy="304.9" r="3.3" fill="#fff" stroke="#ff0000" stroke-width="0.95"/>
<circle cx="556.6" cy="312.9" r="3.3" fill="#fff" stroke="#ff0000" stroke-width="0.95"/>
<circle cx="557.3" cy="325.6" r="3.3" fill="#fff" stroke="#ff0000" stroke-width="0.95"/>
<circle cx="557.4" cy="308.9" r="3.3" fill="#fff" stroke="#ff0000" stroke-width="0.95"/>
<circle cx="557.8" cy="314.4" r="3.3" fill="#fff" stroke="#ff0000" stroke-width="0.95"/>
<circle cx="557.6" cy="318.6" r="3.3" fill="#fff" stroke="#ff0000" stroke-width="0.95"/>
<circle cx="558.2" cy="327.8" r="3.3" fill="#fff" stroke="#ff0000" stroke-width="0.95"/>
<circle cx="558.4" cy="324.2" r="3.3" fill="#fff" stroke="#ff0000" stroke-width="0.95"/>
<circle cx="559.1" cy="321.7" r="3.3" fill="#fff" stroke="#ff0000" stroke-width="0.95"/>
<circle cx="559.1" cy="318.9" r="3.3" fill="#fff" stroke="#ff0000" stroke-width="0.95"/>
<circle cx="559.8" cy="321.8" r="3.3" fill="#fff" stroke="#ff0000" stroke-width="0.95"/>
<circle cx="559.7" cy="327.5" r="3.3" fill="#fff" stroke="#ff0000" stroke-width="0.95"/>
<circle cx="560.5" cy="323.7" r="3.3" fill="#fff" stroke="#ff0000" stroke-width="0.95"/>
<circle cx="560.4" cy="313.9" r="3.3" fill="#fff" stroke="#ff0000" stroke-width="0.95"/>
<circle cx="560.7" cy="334.8" r="3.3" fill="#fff" stroke="#ff0000" stroke-width="0.95"/>
<circle cx="560.8" cy="315.4" r="3.3" fill="#fff" stroke="#ff0000" stroke-width="0.95"/>
<circle cx="561.9" cy="317.7" r="3.3" fill="#fff" stroke="#ff0000" stroke-width="0.95"/>
<circle cx="561.9" cy="332.9" r="3.3" fill="#fff" stroke="#ff0000" stroke-width="0.95"/>
<circle cx="562.6" cy="327.7" r="3.3" fill="#fff" stroke="#ff0000" stroke-width="0.95"/>
<circle cx="562.4" cy="327.7" r="3.3" fill="#fff" stroke="#ff0000" stroke-width="0.95"/>
<circle cx="562.9" cy="331.1" r="3.3" fill="#fff" stroke="#ff0000" stroke-width="0.95"/>
<circle cx="563.2" cy="332.0" r="3.3" fill="#fff" stroke="#ff0000" stroke-width="0.95"/>
<circle cx="564.0" cy="317.5" r="3.3" fill="#fff" stroke="#ff0000" stroke-width="0.95"/>
<circle cx="564.1" cy="339.9" r="3.3" fill="#fff" stroke="#ff0000" stroke-width="0.95"/>
<circle cx="563.8" cy="316.4" r="3.3" fill="#fff" stroke="#ff0000" stroke-width="0.95"/>
<circle cx="564.9" cy="335.5" r="3.3" fill="#fff" stroke="#ff0000" stroke-width="0.95"/>
<circle cx="564.5" cy="333.2" r="3.3" fill="#fff" stroke="#ff0000" stroke-width="0.95"/>
<circle cx="565.6" cy="334.2" r="3.3" fill="#fff" stroke="#ff0000" stroke-width="0.95"/>
<circle cx="565.3" cy="339.7" r="3.3" fill="#fff" stroke="#ff0000" stroke-width="0.95"/>
<circle cx="565.6" cy="336.3" r="3.3" fill="#fff" stroke="#ff0000" stroke-width="0.95"/>
<circle cx="566.8" cy="332.6" r="3.3" fill="#fff" stroke="#ff0000" stroke-width="0.95"/>
<circle cx="566.3" cy="328.8" r="3.3" fill="#fff" stroke="#ff0000" stroke-width="0.95"/>
<circle cx="566.7" cy="330.9" r="3.3" fill="#fff" stroke="#ff0000" stroke-width="0.95"/>
<circle cx="567.6" cy="340.2" r="3.3" fill="#fff" stroke="#ff0000" stroke-width="0.95"/>
<circle cx="568.1" cy="338.7" r="3.3" fill="#fff" stroke="#ff0000" stroke-width="0.95"/>
<circle cx="567.6" cy="347.1" r="3.3" fill="#fff" stroke="#ff0000" stroke-width="0.95"/>
<circle cx="568.0" cy="323.3" r="3.3" fill="#fff" stroke="#ff0000" stroke-width="0.95"/>
<circle cx="568.3" cy="331.9" r="3.3" fill="#fff" stroke="#ff0000" stroke-width="0.95"/>
<circle cx="568.8" cy="348.2" r="3.3" fill="#fff" stroke="#ff0000" stroke-width="0.95"/>
<circle cx="569.7" cy="326.7" r="3.3" fill="#fff" stroke="#ff0000" stroke-width="0.95"/>
<circle cx="569.8" cy="349.5" r="3.3" fill="#fff" stroke="#ff0000" stroke-width="0.95"/>
<circle cx="570.5" cy="324.1" r="3.3" fill="#fff" stroke="#ff0000" stroke-width="0.95"/>
<circle cx="570.5" cy="336.2" r="3.3" fill="#fff" stroke="#ff0000" stroke-width="0.95"/>
<circle cx="570.6" cy="343.6" r="3.3" fill="#fff" stroke="#ff0000" stroke-width="0.95"/>
<circle cx="571.1" cy="351.1" r="3.3" fill="#fff" stroke="#ff0000" stroke-width="0.95"/>
<circle cx="571.2" cy="326.1" r="3.3" fill="#fff" stroke="#ff0000" stroke-width="0.95"/>
<circle cx="571.6" cy="330.0" r="3.3" fill="#fff" stroke="#ff0000" stroke-width="0.95"/>
<circle cx="572.5" cy="350.5" r="3.3" fill="#fff" stroke="#ff0000" stroke-width="0.95"/>
<circle cx="572.3" cy="333.2" r="3.3" fill="#fff" stroke="#ff0000" stroke-width="0.95"/>
<circle cx="572.8" cy="322.5" r="3.3" fill="#fff" stroke="#ff0000" stroke-width="0.95"/>
<circle cx="572.8" cy="343.9" r="3.3" fill="#fff" stroke="#ff0000" stroke-width="0.95"/>
<circle cx="573.6" cy="353.8" r="3.3" fill="#fff" stroke="#ff0000" stroke-width="0.95"/>
<circle cx="573.8" cy="339.8" r="3.3" fill="#fff" stroke="#ff0000" stroke-width="0.95"/>
<circle cx="573.6" cy="338.0" r="3.3" fill="#fff" stroke="#ff0000" stroke-width="0.95"/>
<circle cx="574.1" cy="332.7" r="3.3" fill="#fff" stroke="#ff0000" stroke-width="0.95"/>
<circle cx="574.7" cy="344.7" r="3.3" fill="#fff" stroke="#ff0000" stroke-width="0.95"/>
<circle cx="575.6" cy="345.5" r="3.3" fill="#fff" stroke="#ff0000" stroke-width="0.95"/>
<circle cx="575.2" cy="336.3" r="3.3" fill="#fff" stroke="#ff0000" stroke-width="0.95"/>
<circle cx="575.3" cy="339.9" r="3.3" fill="#fff" stroke="#ff0000" stroke-width="0.95"/>
<circle cx="576.5" cy="362.4" r="3.3" fill="#fff" stroke="#ff0000" stroke-width="0.95"/>
<circle cx="576.7" cy="336.8" r="3.3" fill="#fff" stroke="#ff0000" stroke-width="0.95"/>
<circle cx="577.1" cy="331.3" r="3.3" fill="#fff" stroke="#ff0000" stroke-width="0.95"/>
<circle cx="577.6" cy="342.8" r="3.3" fill="#fff" stroke="#ff0000" stroke-width="0.95"/>
<circle cx="577.8" cy="352.4" r="3.3" fill="#fff" stroke="#ff0000" stroke-width="0.95"/>
<circle cx="577.4" cy="331.9" r="3.3" fill="#fff" stroke="#ff0000" stroke-width="0.95"/>
<circle cx="578.2" cy="348.1" r="3.3" fill="#fff" stroke="#ff0000" stroke-width="0.95"/>
<circle cx="578.8" cy="339.2" r="3.3" fill="#fff" stroke="#ff0000" stroke-width="0.95"/>
<circle cx="579.0" cy="345.1" r="3.3" fill="#fff" stroke="#ff0000" stroke-width="0.95"/>
<circle cx="578.9" cy="355.8" r="3.3" fill="#fff" stroke="#ff0000" stroke-width="0.95"/>
<circle cx="579.9" cy="354.8" r="3.3" fill="#fff" stroke="#ff0000" stroke-width="0.95"/>
<circle cx="580.3" cy="338.3" r="3.3" fill="#fff" stroke="#ff0000" stroke-width="0.95"/>
<circle cx="580.8" cy="367.3" r="3.3" fill="#fff" stroke="#ff0000" stroke-width="0.95"/>
<circle cx="580.3" cy="335.6" r="3.3" fill="#fff" stroke="#ff0000" stroke-width="0.95"/>
<circle cx="581.1" cy="351.3" r="3.3" fill="#fff" stroke="#ff0000" stroke-width="0.95"/>
<circle cx="581.2" cy="348.7" r="3.3" fill="#fff" stroke="#ff0000" stroke-width="0.95"/>
<circle cx="581.2" cy="371.8" r="3.3" fill="#fff" stroke="#ff0000" stroke-width="0.95"/>
<circle cx="582.3" cy="349.1" r="3.3" fill="#fff" stroke="#ff0000" stroke-width="0.95"/>
<circle cx="582.6" cy="371.3" r="3.3" fill="#fff" stroke="#ff0000" stroke-width="0.95"/>
<circle cx="583.1" cy="343.4" r="3.3" fill="#fff" stroke="#ff0000" stroke-width="0.95"/>
<circle cx="583.0" cy="357.0" r="3.3" fill="#fff" stroke="#ff0000" stroke-width="0.95"/>
<circle cx="583.7" cy="373.8" r="3.3" fill="#fff" stroke="#ff0000" stroke-width="0.95"/>
<circle cx="583.3" cy="364.9" r="3.3" fill="#fff" stroke="#ff0000" stroke-width="0.95"/>
<circle cx="583.9" cy="370.6" r="3.3" fill="#fff" stroke="#ff0000" stroke-width="0.95"/>
<circle cx="584.8" cy="356.2" r="3.3" fill="#fff" stroke="#ff0000" stroke-width="0.95"/>
<circle cx="585.0" cy="352.7" r="3.3" fill="#fff" stroke="#ff0000" stroke-width="0.95"/>
<circle cx="585.1" cy="368.8" r="3.3" fill="#fff" stroke="#ff0000" stroke-width="0.95"/>
<circle cx="585.7" cy="368.9" r="3.3" fill="#fff" stroke="#ff0000" stroke-width="0.95"/>
<circle cx="585.8" cy="362.5" r="3.3" fill="#fff" stroke="#ff0000" stroke-width="0.95"/>
<circle cx="585.6" cy="369.8" r="3.3" fill="#fff" stroke="#ff0000" stroke-width="0.95"/>
<circle cx="586.1" cy="358.1" r="3.3" fill="#fff" stroke="#ff0000" stroke-width="0.95"/>
<circle cx="586.5" cy="362.0" r="3.3" fill="#fff" stroke="#ff0000" stroke-width="0.95"/>
<circle cx="586.7" cy="364.3" r="3.3" fill="#fff" stroke="#ff0000" stroke-width="0.95"/>
<circle cx="587.6" cy="349.7" r="3.3" fill="#fff" stroke="#ff0000" stroke-width="0.95"/>
<circle cx="588.1" cy="366.3" r="3.3" fill="#fff" stroke="#ff0000" stroke-width="0.95"/>
<circle cx="588.0" cy="369.7" r="3.3" fill="#fff" stroke="#ff0000" stroke-width="0.95"/>
<circle cx="588.6" cy="368.6" r="3.3" fill="#fff" stroke="#ff0000" stroke-width="0.95"/>
<circle cx="588.5" cy="376.4" r="3.3" fill="#fff" stroke="#ff0000" stroke-width="0.95"/>
<circle cx="589.1" cy="365.6" r="3.3" fill="#fff" stroke="#ff0000" stroke-width="0.95"/>
<circle cx="589.8" cy="346.2" r="3.3" fill="#fff" stroke="#ff0000" stroke-width="0.95"/>
<circle cx="589.6" cy="353.3" r="3.3" fill="#fff" stroke="#ff0000" stroke-width="0.95"/>
<circle cx="590.2" cy="350.3" r="3.3" fill="#fff" stroke="#ff0000" stroke-width="0.95"/>
<circle cx="590.5" cy="349.5" r="3.3" fill="#fff" stroke="#ff0000" stroke-width="0.95"/>
<circle cx="590.5" cy="358.4" r="3.3" fill="#fff" stroke="#ff0000" stroke-width="0.95"/>
<circle cx="591.6" cy="368.3" r="3.3" fill="#fff" stroke="#ff0000" stroke-width="0.95"/>
<circle cx="591.2" cy="363.1" r="3.3" fill="#fff" stroke="#ff0000" stroke-width="0.95"/>
<circle cx="591.5" cy="367.5" r="3.3" fill="#fff" stroke="#ff0000" stroke-width="0.95"/>
<circle cx="591.7" cy="369.3" r="3.3" fill="#fff" stroke="#ff0000" stroke-width="0.95"/>
<circle cx="592.3" cy="343.7" r="3.3" fill="#fff" stroke="#ff0000" stroke-width="0.95"/>
<circle cx="592.6" cy="383.0" r="3.3" fill="#fff" stroke="#ff0000" stroke-width="0.95"/>
<circle cx="593.3" cy="379.3" r="3.3" fill="#fff" stroke="#ff0000" stroke-width="0.95"/>
<circle cx="593.2" cy="368.4" r="3.3" fill="#fff" stroke="#ff0000" stroke-width="0.95"/>
<circle cx="594.1" cy="374.5" r="3.3" fill="#fff" stroke="#ff0000" stroke-width="0.95"/>
<circle cx="594.6" cy="364.7" r="3.3" fill="#fff" stroke="#ff0000" stroke-width="0.95"/>
<circle cx="594.3" cy="366.0" r="3.3" fill="#fff" stroke="#ff0000" stroke-width="0.95"/>
<circle cx="595.0" cy="371.2" r="3.3" fill="#fff" stroke="#ff0000" stroke-width="0.95"/>
<circle cx="594.8" cy="360.9" r="3.3" fill="#fff" stroke="#ff0000" stroke-width="0.95"/>
<circle cx="595.5" cy="357.7" r="3.3" fill="#fff" stroke="#ff0000" stroke-width="0.95"/>
<circle cx="596.2" cy="373.7" r="3.3" fill="#fff" stroke="#ff0000" stroke-width="0.95"/>
<circle cx="596.7" cy="385.7" r="3.3" fill="#fff" stroke="#ff0000" stroke-width="0.95"/>
<circle cx="596.8" cy="380.7" r="3.3" fill="#fff" stroke="#ff0000" stroke-width="0.95"/>
<circle cx="596.4" cy="356.3" r="3.3" fill="#fff" stroke="#ff0000" stroke-width="0.95"/>
<circle cx="597.1" cy="367.2" r="3.3" fill="#fff" stroke="#ff0000" stroke-width="0.95"/>
<circle cx="597.8" cy="370.7" r="3.3" fill="#fff" stroke="#ff0000" stroke-width="0.95"/>
<circle cx="597.9" cy="362.1" r="3.3" fill="#fff" stroke="#ff0000" stroke-width="0.95"/>
<circle cx="598.5" cy="375.4" r="3.3" fill="#fff" stroke="#ff0000" stroke-width="0.95"/>
<circle cx="599.0" cy="381.5" r="3.3" fill="#fff" stroke="#ff0000" stroke-width="0.95"/>
<circle cx="599.1" cy="365.9" r="3.3" fill="#fff" stroke="#ff0000" stroke-width="0.95"/>
<circle cx="599.5" cy="365.0" r="3.3" fill="#fff" stroke="#ff0000" stroke-width="0.95"/>
<circle cx="599.9" cy="362.8" r="3.3" fill="#fff" stroke="#ff0000" stroke-width="0.95"/>
<circle cx="599.8" cy="377.7" r="3.3" fill="#fff" stroke="#ff0000" stroke-width="0.95"/>
<circle cx="600.7" cy="369.4" r="3.3" fill="#fff" stroke="#ff0000" stroke-width="0.95"/>
<circle cx="600.8" cy="388.0" r="3.3" fill="#fff" stroke="#ff0000" stroke-width="0.95"/>
<circle cx="600.6" cy="370.6" r="3.3" fill="#fff" stroke="#ff0000" stroke-width="0.95"/>
<circle cx="600.9" cy="381.2" r="3.3" fill="#fff" stroke="#ff0000" stroke-width="0.95"/>
<circle cx="601.8" cy="382.6" r="3.3" fill="#fff" stroke="#ff0000" stroke-width="0.95"/>
<circle cx="602.3" cy="368.6" r="3.3" fill="#fff" stroke="#ff0000" stroke-width="0.95"/>
<circle cx="602.5" cy="375.1" r="3.3" fill="#fff" stroke="#ff0000" stroke-width="0.95"/>
<circle cx="603.1" cy="383.0" r="3.3" fill="#fff" stroke="#ff0000" stroke-width="0.95"/>
<circle cx="602.8" cy="392.5" r="3.3" fill="#fff" stroke="#ff0000" stroke-width="0.95"/>
<circle cx="603.0" cy="385.7" r="3.3" fill="#fff" stroke="#ff0000" stroke-width="0.95"/>
<circle cx="604.1" cy="362.6" r="3.3" fill="#fff" stroke="#ff0000" stroke-width="0.95"/>
<circle cx="604.0" cy="386.8" r="3.3" fill="#fff" stroke="#ff0000" stroke-width="0.95"/>
<circle cx="604.5" cy="386.6" r="3.3" fill="#fff" stroke="#ff0000" stroke-width="0.95"/>
<circle cx="604.3" cy="382.3" r="3.3" fill="#fff" stroke="#ff0000" stroke-width="0.95"/>
<circle cx="605.5" cy="399.5" r="3.3" fill="#fff" stroke="#ff0000" stroke-width="0.95"/>
<circle cx="605.7" cy="393.5" r="3.3" fill="#fff" stroke="#ff0000" stroke-width="0.95"/>
<circle cx="605.7" cy="380.4" r="3.3" fill="#fff" stroke="#ff0000" stroke-width="0.95"/>
<circle cx="605.9" cy="380.9" r="3.3" fill="#fff" stroke="#ff0000" stroke-width="0.95"/>
<circle cx="606.5" cy="388.1" r="3.3" fill="#fff" stroke="#ff0000" stroke-width="0.95"/>
<circle cx="607.0" cy="389.9" r="3.3" fill="#fff" stroke="#ff0000" stroke-width="0.95"/>
<circle cx="607.6" cy="377.8" r="3.3" fill="#fff" stroke="#ff0000" stroke-width="0.95"/>
<circle cx="607.2" cy="384.3" r="3.3" fill="#fff" stroke="#ff0000" stroke-width="0.95"/>
<circle cx="607.4" cy="382.1" r="3.3" fill="#fff" stroke="#ff0000" stroke-width="0.95"/>
<circle cx="607.9" cy="403.5" r="3.3" fill="#fff" stroke="#ff0000" stroke-width="0.95"/>
<circle cx="608.1" cy="371.5" r="3.3" fill="#fff" stroke="#ff0000" stroke-width="0.95"/>
<circle cx="608.5" cy="395.3" r="3.3" fill="#fff" stroke="#ff0000" stroke-width="0.95"/>
<circle cx="609.3" cy="384.9" r="3.3" fill="#fff" stroke="#ff0000" stroke-width="0.95"/>
<circle cx="609.4" cy="366.6" r="3.3" fill="#fff" stroke="#ff0000" stroke-width="0.95"/>
<circle cx="610.1" cy="389.4" r="3.3" fill="#fff" stroke="#ff0000" stroke-width="0.95"/>
<circle cx="609.9" cy="372.3" r="3.3" fill="#fff" stroke="#ff0000" stroke-width="0.95"/>
<circle cx="610.2" cy="374.4" r="3.3" fill="#fff" stroke="#ff0000" stroke-width="0.95"/>
<circle cx="611.3" cy="394.6" r="3.3" fill="#fff" stroke="#ff0000" stroke-width="0.95"/>
<circle cx="611.2" cy="400.4" r="3.3" fill="#fff" stroke="#ff0000" stroke-width="0.95"/>
<circle cx="611.5" cy="401.5" r="3.3" fill="#fff" stroke="#ff0000" stroke-width="0.95"/>
<circle cx="612.3" cy="383.2" r="3.3" fill="#fff" stroke="#ff0000" stroke-width="0.95"/>
<circle cx="612.5" cy="405.1" r="3.3" fill="#fff" stroke="#ff0000" stroke-width="0.95"/>
<circle cx="612.3" cy="396.0" r="3.3" fill="#fff" stroke="#ff0000" stroke-width="0.95"/>
<circle cx="613.1" cy="381.7" r="3.3" fill="#fff" stroke="#ff0000" stroke-width="0.95"/>
<circle cx="613.3" cy="396.9" r="3.3" fill="#fff" stroke="#ff0000" stroke-width="0.95"/>
<circle cx="613.9" cy="381.5" r="3.3" fill="#fff" stroke="#ff0000" stroke-width="0.95"/>
<circle cx="613.9" cy="375.1" r="3.3" fill="#fff" stroke="#ff0000" stroke-width="0.95"/>
<circle cx="613.9" cy="395.8" r="3.3" fill="#fff" stroke="#ff0000" stroke-width="0.95"/>
<circle cx="614.9" cy="399.1" r="3.3" fill="#fff" stroke="#ff0000" stroke-width="0.95"/>
<circle cx="614.7" cy="404.1" r="3.3" fill="#fff" stroke="#ff0000" stroke-width="0.95"/>
<circle cx="615.4" cy="406.4" r="3.3" fill="#fff" stroke="#ff0000" stroke-width="0.95"/>
<circle cx="615.9" cy="399.1" r="3.3" fill="#fff" stroke="#ff0000" stroke-width="0.95"/>
<circle cx="616.4" cy="408.6" r="3.3" fill="#fff" stroke="#ff0000" stroke-width="0.95"/>
<circle cx="616.1" cy="388.9" r="3.3" fill="#fff" stroke="#ff0000" stroke-width="0.95"/>
<circle cx="616.2" cy="386.0" r="3.3" fill="#fff" stroke="#ff0000" stroke-width="0.95"/>
<circle cx="617.3" cy="404.3" r="3.3" fill="#fff" stroke="#ff0000" stroke-width="0.95"/>
<circle cx="617.8" cy="379.9" r="3.3" fill="#fff" stroke="#ff0000" stroke-width="0.95"/>
<circle cx="618.1" cy="421.3" r="3.3" fill="#fff" stroke="#ff0000" stroke-width="0.95"/>
<circle cx="618.5" cy="415.1" r="3.3" fill="#fff" stroke="#ff0000" stroke-width="0.95"/>
<circle cx="618.4" cy="388.6" r="3.3" fill="#fff" stroke="#ff0000" stroke-width="0.95"/>
<circle cx="618.4" cy="411.4" r="3.3" fill="#fff" stroke="#ff0000" stroke-width="0.95"/>
<circle cx="619.2" cy="413.0" r="3.3" fill="#fff" stroke="#ff0000" stroke-width="0.95"/>
<circle cx="618.9" cy="396.6" r="3.3" fill="#fff" stroke="#ff0000" stroke-width="0.95"/>
<circle cx="619.7" cy="420.0" r="3.3" fill="#fff" stroke="#ff0000" stroke-width="0.95"/>
<circle cx="620.5" cy="406.6" r="3.3" fill="#fff" stroke="#ff0000" stroke-width="0.95"/>
<circle cx="620.3" cy="402.8" r="3.3" fill="#fff" stroke="#ff0000" stroke-width="0.95"/>
<circle cx="620.5" cy="403.7" r="3.3" fill="#fff" stroke="#ff0000" stroke-width="0.95"/>
<circle cx="621.1" cy="408.5" r="3.3" fill="#fff" stroke="#ff0000" stroke-width="0.95"/>
<circle cx="620.9" cy="393.7" r="3.3" fill="#fff" stroke="#ff0000" stroke-width="0.95"/>
<circle cx="622.0" cy="389.3" r="3.3" fill="#fff" stroke="#ff0000" stroke-width="0.95"/>
<circle cx="621.6" cy="417.3" r="3.3" fill="#fff" stroke="#ff0000" stroke-width="0.95"/>
<circle cx="622.8" cy="400.8" r="3.3" fill="#fff" stroke="#ff0000" stroke-width="0.95"/>
<circle cx="622.8" cy="422.6" r="3.3" fill="#fff" stroke="#ff0000" stroke-width="0.95"/>
<circle cx="623.1" cy="397.9" r="3.3" fill="#fff" stroke="#ff0000" stroke-width="0.95"/>
<circle cx="623.9" cy="395.9" r="3.3" fill="#fff" stroke="#ff0000" stroke-width="0.95"/>
<circle cx="623.8" cy="408.5" r="3.3" fill="#fff" stroke="#ff0000" stroke-width="0.95"/>
<circle cx="624.3" cy="416.3" r="3.3" fill="#fff" stroke="#ff0000" stroke-width="0.95"/>
<circle cx="624.7" cy="424.8" r="3.3" fill="#fff" stroke="#ff0000" stroke-width="0.95"/>
<circle cx="624.7" cy="422.5" r="3.3" fill="#fff" stroke="#ff0000" stroke-width="0.95"/>
<circle cx="625.5" cy="407.7" r="3.3" fill="#fff" stroke="#ff0000" stroke-width="0.95"/>
<circle cx="625.6" cy="419.2" r="3.3" fill="#fff" stroke="#ff0000" stroke-width="0.95"/>
<circle cx="625.9" cy="420.8" r="3.3" fill="#fff" stroke="#ff0000" stroke-width="0.95"/>
<circle cx="625.7" cy="422.8" r="3.3" fill="#fff" stroke="#ff0000" stroke-width="0.95"/>
<circle cx="626.4" cy="392.5" r="3.3" fill="#fff" stroke="#ff0000" stroke-width="0.95"/>
<circle cx="626.5" cy="402.5" r="3.3" fill="#fff" stroke="#ff0000" stroke-width="0.95"/>
<circle cx="626.7" cy="386.6" r="3.3" fill="#fff" stroke="#ff0000" stroke-width="0.95"/>
<circle cx="627.4" cy="412.8" r="3.3" fill="#fff" stroke="#ff0000" stroke-width="0.95"/>
<circle cx="627.6" cy="430.7" r="3.3" fill="#fff" stroke="#ff0000" stroke-width="0.95"/>
<circle cx="628.4" cy="405.0" r="3.3" fill="#fff" stroke="#ff0000" stroke-width="0.95"/>
<circle cx="628.8" cy="431.0" r="3.3" fill="#fff" stroke="#ff0000" stroke-width="0.95"/>
<circle cx="629.0" cy="421.6" r="3.3" fill="#fff" stroke="#ff0000" stroke-width="0.95"/>
<circle cx="629.4" cy="396.7" r="3.3" fill="#fff" stroke="#ff0000" stroke-width="0.95"/>
<circle cx="629.2" cy="421.5" r="3.3" fill="#fff" stroke="#ff0000" stroke-width="0.95"/>
<circle cx="630.3" cy="410.6" r="3.3" fill="#fff" stroke="#ff0000" stroke-width="0.95"/>
<circle cx="630.2" cy="414.4" r="3.3" fill="#fff" stroke="#ff0000" stroke-width="0.95"/>
<circle cx="630.4" cy="402.1" r="3.3" fill="#fff" stroke="#ff0000" stroke-width="0.95"/>
<circle cx="630.5" cy="422.0" r="3.3" fill="#fff" stroke="#ff0000" stroke-width="0.95"/>
<circle cx="631.1" cy="411.4" r="3.3" fill="#fff" stroke="#ff0000" stroke-width="0.95"/>
<circle cx="631.6" cy="421.3" r="3.3" fill="#fff" stroke="#ff0000" stroke-width="0.95"/>
<circle cx="631.5" cy="405.7" r="3.3" fill="#fff" stroke="#ff0000" stroke-width="0.95"/>
<circle cx="632.0" cy="418.8" r="3.3" fill="#fff" stroke="#ff0000" stroke-width="0.95"/>
<circle cx="632.1" cy="403.2" r="3.3" fill="#fff" stroke="#ff0000" stroke-width="0.95"/>
<circle cx="633.2" cy="414.8" r="3.3" fill="#fff" stroke="#ff0000" stroke-width="0.95"/>
<circle cx="633.4" cy="397.3" r="3.3" fill="#fff" stroke="#ff0000" stroke-width="0.95"/>
<circle cx="633.3" cy="419.2" r="3.3" fill="#fff" stroke="#ff0000" stroke-width="0.95"/>
<circle cx="634.0" cy="434.4" r="3.3" fill="#fff" stroke="#ff0000" stroke-width="0.95"/>
<circle cx="634.4" cy="405.4" r="3.3" fill="#fff" stroke="#ff0000" stroke-width="0.95"/>
<circle cx="635.0" cy="411.1" r="3.3" fill="#fff" stroke="#ff0000" stroke-width="0.95"/>
<circle cx="634.9" cy="419.6" r="3.3" fill="#fff" stroke="#ff0000" stroke-width="0.95"/>
<circle cx="634.9" cy="410.9" r="3.3" fill="#fff" stroke="#ff0000" stroke-width="0.95"/>
<circle cx="636.1" cy="445.0" r="3.3" fill="#fff" stroke="#ff0000" stroke-width="0.95"/>
<circle cx="636.1" cy="429.8" r="3.3" fill="#fff" stroke="#ff0000" stroke-width="0.95"/>
<circle cx="636.6" cy="430.3" r="3.3" fill="#fff" stroke="#ff0000" stroke-width="0.95"/>
<circle cx="636.2" cy="419.0" r="3.3" fill="#fff" stroke="#ff0000" stroke-width="0.95"/>
<circle cx="637.3" cy="446.6" r="3.3" fill="#fff" stroke="#ff0000" stroke-width="0.95"/>
<circle cx="637.8" cy="432.2" r="3.3" fill="#fff" stroke="#ff0000" stroke-width="0.95"/>
<circle cx="637.3" cy="437.6" r="3.3" fill="#fff" stroke="#ff0000" stroke-width="0.95"/>
<circle cx="638.0" cy="413.9" r="3.3" fill="#fff" stroke="#ff0000" stroke-width="0.95"/>
<circle cx="638.9" cy="425.9" r="3.3" fill="#fff" stroke="#ff0000" stroke-width="0.95"/>
<circle cx="638.6" cy="429.8" r="3.3" fill="#fff" stroke="#ff0000" stroke-width="0.95"/>
<circle cx="638.9" cy="431.2" r="3.3" fill="#fff" stroke="#ff0000" stroke-width="0.95"/>
<circle cx="639.2" cy="418.0" r="3.3" fill="#fff" stroke="#ff0000" stroke-width="0.95"/>
<circle cx="640.2" cy="432.7" r="3.3" fill="#fff" stroke="#ff0000" stroke-width="0.95"/>
<circle cx="640.3" cy="412.7" r="3.3" fill="#fff" stroke="#ff0000" stroke-width="0.95"/>
<circle cx="640.5" cy="427.0" r="3.3" fill="#fff" stroke="#ff0000" stroke-width="0.95"/>
<circle cx="640.7" cy="427.2" r="3.3" fill="#fff" stroke="#ff0000" stroke-width="0.95"/>
<circle cx="378.5" cy="96.5" r="3.5" fill="#ff0000"/>
<circle cx="379.2" cy="88.6" r="3.5" fill="#ff0000"/>
<circle cx="378.8" cy="92.5" r="3.5" fill="#ff0000"/>
<circle cx="379.8" cy="90.2" r="3.5" fill="#ff0000"/>
<circle cx="380.5" cy="89.0" r="3.5" fill="#ff0000"/>
<circle cx="380.7" cy="88.0" r="3.5" fill="#ff0000"/>
<circle cx="380.4" cy="93.8" r="3.5" fill="#ff0000"/>
<circle cx="381.5" cy="97.0" r="3.5" fill="#ff0000"/>
<circle cx="381.7" cy="87.1" r="3.5" fill="#ff0000"/>
<circle cx="382.2" cy="87.3" r="3.5" fill="#ff0000"/>
<circle cx="382.2" cy="96.0" r="3.5" fill="#ff0000"/>
<circle cx="382.6" cy="94.1" r="3.5" fill="#ff0000"/>
<circle cx="383.7" cy="86.8" r="3.5" fill="#ff0000"/>
<circle cx="383.5" cy="95.5" r="3.5" fill="#ff0000"/>
<circle cx="383.7" cy="93.9" r="3.5" fill="#ff0000"/>
<circle cx="384.3" cy="94.4" r="3.5" fill="#ff0000"/>
<circle cx="385.2" cy="96.8" r="3.5" fill="#ff0000"/>
<circle cx="385.1" cy="100.3" r="3.5" fill="#ff0000"/>
<circle cx="385.7" cy="94.9" r="3.5" fill="#ff0000"/>
<circle cx="386.0" cy="99.2" r="3.5" fill="#ff0000"/>
<circle cx="386.3" cy="99.4" r="3.5" fill="#ff0000"/>
<circle cx="387.2" cy="105.9" r="3.5" fill="#ff0000"/>
<circle cx="387.8" cy="104.4" r="3.5" fill="#ff0000"/>
<circle cx="387.9" cy="106.1" r="3.5" fill="#ff0000"/>
<circle cx="388.4" cy="107.8" r="3.5" fill="#ff0000"/>
<circle cx="389.3" cy="101.2" r="3.5" fill="#ff0000"/>
<circle cx="389.2" cy="100.9" r="3.5" fill="#ff0000"/>
<circle cx="389.9" cy="98.4" r="3.5" fill="#ff0000"/>
<circle cx="390.4" cy="105.5" r="3.5" fill="#ff0000"/>
<circle cx="390.2" cy="102.3" r="3.5" fill="#ff0000"/>
<circle cx="391.0" cy="105.1" r="3.5" fill="#ff0000"/>
<circle cx="390.9" cy="97.5" r="3.5" fill="#ff0000"/>
<circle cx="391.6" cy="103.6" r="3.5" fill="#ff0000"/>
<circle cx="392.1" cy="105.6" r="3.5" fill="#ff0000"/>
<circle cx="392.3" cy="101.2" r="3.5" fill="#ff0000"/>
<circle cx="393.1" cy="101.0" r="3.5" fill="#ff0000"/>
<circle cx="393.5" cy="103.6" r="3.5" fill="#ff0000"/>
<circle cx="393.5" cy="106.4" r="3.5" fill="#ff0000"/>
<circle cx="394.3" cy="110.3" r="3.5" fill="#ff0000"/>
<circle cx="394.5" cy="107.2" r="3.5" fill="#ff0000"/>
<circle cx="395.3" cy="104.7" r="3.5" fill="#ff0000"/>
<circle cx="395.9" cy="114.1" r="3.5" fill="#ff0000"/>
<circle cx="395.6" cy="113.1" r="3.5" fill="#ff0000"/>
<circle cx="396.3" cy="108.8" r="3.5" fill="#ff0000"/>
<circle cx="396.5" cy="114.0" r="3.5" fill="#ff0000"/>
<circle cx="397.3" cy="99.6" r="3.5" fill="#ff0000"/>
<circle cx="397.6" cy="114.3" r="3.5" fill="#ff0000"/>
<circle cx="398.4" cy="109.9" r="3.5" fill="#ff0000"/>
<circle cx="398.4" cy="117.6" r="3.5" fill="#ff0000"/>
<circle cx="398.7" cy="117.1" r="3.5" fill="#ff0000"/>
<circle cx="399.0" cy="113.6" r="3.5" fill="#ff0000"/>
<circle cx="399.3" cy="115.1" r="3.5" fill="#ff0000"/>
<circle cx="400.5" cy="119.7" r="3.5" fill="#ff0000"/>
<circle cx="401.0" cy="116.3" r="3.5" fill="#ff0000"/>
<circle cx="400.5" cy="123.6" r="3.5" fill="#ff0000"/>
<circle cx="401.8" cy="114.3" r="3.5" fill="#ff0000"/>
<circle cx="401.9" cy="107.7" r="3.5" fill="#ff0000"/>
<circle cx="402.2" cy="118.7" r="3.5" fill="#ff0000"/>
<circle cx="402.2" cy="112.0" r="3.5" fill="#ff0000"/>
<circle cx="403.0" cy="113.8" r="3.5" fill="#ff0000"/>
<circle cx="403.8" cy="115.8" r="3.5" fill="#ff0000"/>
<circle cx="403.8" cy="117.5" r="3.5" fill="#ff0000"/>
<circle cx="404.2" cy="120.2" r="3.5" fill="#ff0000"/>
<circle cx="404.3" cy="113.6" r="3.5" fill="#ff0000"/>
<circle cx="405.0" cy="117.5" r="3.5" fill="#ff0000"/>
<circle cx="406.0" cy="115.6" r="3.5" fill="#ff0000"/>
<circle cx="406.1" cy="122.3" r="3.5" fill="#ff0000"/>
<circle cx="406.6" cy="124.4" r="3.5" fill="#ff0000"/>
<circle cx="407.1" cy="110.8" r="3.5" fill="#ff0000"/>
<circle cx="406.8" cy="118.4" r="3.5" fill="#ff0000"/>
<circle cx="407.2" cy="120.8" r="3.5" fill="#ff0000"/>
<circle cx="408.1" cy="112.4" r="3.5" fill="#ff0000"/>
<circle cx="408.5" cy="121.7" r="3.5" fill="#ff0000"/>
<circle cx="409.2" cy="121.7" r="3.5" fill="#ff0000"/>
<circle cx="409.7" cy="114.8" r="3.5" fill="#ff0000"/>
<circle cx="409.8" cy="123.2" r="3.5" fill="#ff0000"/>
<circle cx="410.1" cy="119.0" r="3.5" fill="#ff0000"/>
<circle cx="411.0" cy="127.0" r="3.5" fill="#ff0000"/>
<circle cx="410.9" cy="127.0" r="3.5" fill="#ff0000"/>
<circle cx="411.4" cy="127.1" r="3.5" fill="#ff0000"/>
<circle cx="411.5" cy="131.7" r="3.5" fill="#ff0000"/>
<circle cx="412.1" cy="118.0" r="3.5" fill="#ff0000"/>
<circle cx="412.5" cy="131.0" r="3.5" fill="#ff0000"/>
<circle cx="413.0" cy="122.9" r="3.5" fill="#ff0000"/>
<circle cx="413.2" cy="127.2" r="3.5" fill="#ff0000"/>
<circle cx="414.3" cy="134.1" r="3.5" fill="#ff0000"/>
<circle cx="414.7" cy="124.9" r="3.5" fill="#ff0000"/>
<circle cx="415.1" cy="139.5" r="3.5" fill="#ff0000"/>
<circle cx="415.5" cy="122.1" r="3.5" fill="#ff0000"/>
<circle cx="415.6" cy="121.1" r="3.5" fill="#ff0000"/>
<circle cx="415.9" cy="130.8" r="3.5" fill="#ff0000"/>
<circle cx="416.3" cy="128.5" r="3.5" fill="#ff0000"/>
<circle cx="417.2" cy="135.3" r="3.5" fill="#ff0000"/>
<circle cx="417.0" cy="130.7" r="3.5" fill="#ff0000"/>
<circle cx="417.3" cy="138.0" r="3.5" fill="#ff0000"/>
<circle cx="418.6" cy="128.1" r="3.5" fill="#ff0000"/>
<circle cx="419.1" cy="126.1" r="3.5" fill="#ff0000"/>
<circle cx="418.6" cy="132.7" r="3.5" fill="#ff0000"/>
<circle cx="419.6" cy="134.9" r="3.5" fill="#ff0000"/>
<circle cx="420.2" cy="131.5" r="3.5" fill="#ff0000"/>
<circle cx="419.9" cy="134.5" r="3.5" fill="#ff0000"/>
<circle cx="420.8" cy="128.0" r="3.5" fill="#ff0000"/>
<circle cx="420.7" cy="133.3" r="3.5" fill="#ff0000"/>
<circle cx="421.2" cy="128.6" r="3.5" fill="#ff0000"/>
<circle cx="421.9" cy="140.8" r="3.5" fill="#ff0000"/>
<circle cx="422.0" cy="133.1" r="3.5" fill="#ff0000"/>
<circle cx="423.2" cy="140.8" r="3.5" fill="#ff0000"/>
<circle cx="422.8" cy="130.8" r="3.5" fill="#ff0000"/>
<circle cx="423.5" cy="147.9" r="3.5" fill="#ff0000"/>
<circle cx="423.9" cy="138.7" r="3.5" fill="#ff0000"/>
<circle cx="424.4" cy="133.9" r="3.5" fill="#ff0000"/>
<circle cx="425.2" cy="141.3" r="3.5" fill="#ff0000"/>
<circle cx="425.5" cy="142.9" r="3.5" fill="#ff0000"/>
<circle cx="426.1" cy="148.4" r="3.5" fill="#ff0000"/>
<circle cx="426.3" cy="143.4" r="3.5" fill="#ff0000"/>
<circle cx="426.6" cy="137.7" r="3.5" fill="#ff0000"/>
<circle cx="427.2" cy="141.9" r="3.5" fill="#ff0000"/>
<circle cx="427.3" cy="150.3" r="3.5" fill="#ff0000"/>
<circle cx="427.7" cy="147.0" r="3.5" fill="#ff0000"/>
<circle cx="428.5" cy="151.9" r="3.5" fill="#ff0000"/>
<circle cx="428.8" cy="141.8" r="3.5" fill="#ff0000"/>
<circle cx="429.5" cy="153.7" r="3.5" fill="#ff0000"/>
<circle cx="429.8" cy="139.5" r="3.5" fill="#ff0000"/>
<circle cx="429.7" cy="149.4" r="3.5" fill="#ff0000"/>
<circle cx="430.5" cy="139.7" r="3.5" fill="#ff0000"/>
<circle cx="431.0" cy="150.7" r="3.5" fill="#ff0000"/>
<circle cx="431.6" cy="155.9" r="3.5" fill="#ff0000"/>
<circle cx="431.8" cy="139.4" r="3.5" fill="#ff0000"/>
<circle cx="431.8" cy="157.3" r="3.5" fill="#ff0000"/>
<circle cx="432.2" cy="153.8" r="3.5" fill="#ff0000"/>
<circle cx="432.6" cy="141.0" r="3.5" fill="#ff0000"/>
<circle cx="433.5" cy="140.9" r="3.5" fill="#ff0000"/>
<circle cx="433.5" cy="157.3" r="3.5" fill="#ff0000"/>
<circle cx="433.7" cy="151.9" r="3.5" fill="#ff0000"/>
<circle cx="434.8" cy="149.1" r="3.5" fill="#ff0000"/>
<circle cx="434.8" cy="149.3" r="3.5" fill="#ff0000"/>
<circle cx="435.7" cy="161.7" r="3.5" fill="#ff0000"/>
<circle cx="436.0" cy="149.8" r="3.5" fill="#ff0000"/>
<circle cx="436.3" cy="152.4" r="3.5" fill="#ff0000"/>
<circle cx="437.0" cy="165.9" r="3.5" fill="#ff0000"/>
<circle cx="437.2" cy="149.7" r="3.5" fill="#ff0000"/>
<circle cx="437.2" cy="159.9" r="3.5" fill="#ff0000"/>
<circle cx="438.0" cy="145.0" r="3.5" fill="#ff0000"/>
<circle cx="438.8" cy="155.1" r="3.5" fill="#ff0000"/>
<circle cx="438.7" cy="163.3" r="3.5" fill="#ff0000"/>
<circle cx="439.3" cy="158.6" r="3.5" fill="#ff0000"/>
<circle cx="439.7" cy="150.0" r="3.5" fill="#ff0000"/>
<circle cx="440.0" cy="150.0" r="3.5" fill="#ff0000"/>
<circle cx="440.7" cy="170.8" r="3.5" fill="#ff0000"/>
<circle cx="441.3" cy="155.5" r="3.5" fill="#ff0000"/>
<circle cx="441.5" cy="158.6" r="3.5" fill="#ff0000"/>
<circle cx="441.5" cy="163.6" r="3.5" fill="#ff0000"/>
<circle cx="442.2" cy="171.6" r="3.5" fill="#ff0000"/>
<circle cx="442.9" cy="168.3" r="3.5" fill="#ff0000"/>
<circle cx="442.5" cy="151.7" r="3.5" fill="#ff0000"/>
<circle cx="443.3" cy="165.6" r="3.5" fill="#ff0000"/>
<circle cx="443.6" cy="161.8" r="3.5" fill="#ff0000"/>
<circle cx="444.5" cy="158.6" r="3.5" fill="#ff0000"/>
<circle cx="445.1" cy="168.4" r="3.5" fill="#ff0000"/>
<circle cx="445.4" cy="167.8" r="3.5" fill="#ff0000"/>
<circle cx="445.9" cy="169.8" r="3.5" fill="#ff0000"/>
<circle cx="445.9" cy="167.6" r="3.5" fill="#ff0000"/>
<circle cx="446.9" cy="166.0" r="3.5" fill="#ff0000"/>
<circle cx="446.4" cy="165.9" r="3.5" fill="#ff0000"/>
<circle cx="447.7" cy="175.0" r="3.5" fill="#ff0000"/>
<circle cx="448.1" cy="177.3" r="3.5" fill="#ff0000"/>
<circle cx="448.3" cy="166.2" r="3.5" fill="#ff0000"/>
<circle cx="449.0" cy="169.1" r="3.5" fill="#ff0000"/>
<circle cx="449.3" cy="174.4" r="3.5" fill="#ff0000"/>
<circle cx="449.3" cy="160.4" r="3.5" fill="#ff0000"/>
<circle cx="449.6" cy="174.7" r="3.5" fill="#ff0000"/>
<circle cx="450.3" cy="174.1" r="3.5" fill="#ff0000"/>
<circle cx="450.6" cy="168.3" r="3.5" fill="#ff0000"/>
<circle cx="451.1" cy="173.6" r="3.5" fill="#ff0000"/>
<circle cx="451.8" cy="175.1" r="3.5" fill="#ff0000"/>
<circle cx="452.2" cy="179.2" r="3.5" fill="#ff0000"/>
<circle cx="453.0" cy="169.2" r="3.5" fill="#ff0000"/>
<circle cx="453.3" cy="170.5" r="3.5" fill="#ff0000"/>
<circle cx="453.5" cy="176.0" r="3.5" fill="#ff0000"/>
<circle cx="453.6" cy="169.7" r="3.5" fill="#ff0000"/>
<circle cx="454.3" cy="167.6" r="3.5" fill="#ff0000"/>
<circle cx="454.8" cy="178.8" r="3.5" fill="#ff0000"/>
<circle cx="455.5" cy="181.3" r="3.5" fill="#ff0000"/>
<circle cx="455.6" cy="185.0" r="3.5" fill="#ff0000"/>
<circle cx="456.6" cy="174.1" r="3.5" fill="#ff0000"/>
<circle cx="456.4" cy="185.7" r="3.5" fill="#ff0000"/>
<circle cx="457.1" cy="178.8" r="3.5" fill="#ff0000"/>
<circle cx="457.3" cy="185.4" r="3.5" fill="#ff0000"/>
<circle cx="458.4" cy="176.9" r="3.5" fill="#ff0000"/>
<circle cx="459.0" cy="183.9" r="3.5" fill="#ff0000"/>
<circle cx="458.8" cy="171.0" r="3.5" fill="#ff0000"/>
<circle cx="459.8" cy="187.8" r="3.5" fill="#ff0000"/>
<circle cx="460.3" cy="175.4" r="3.5" fill="#ff0000"/>
<circle cx="460.1" cy="189.6" r="3.5" fill="#ff0000"/>
<circle cx="460.5" cy="187.1" r="3.5" fill="#ff0000"/>
<circle cx="461.6" cy="187.6" r="3.5" fill="#ff0000"/>
<circle cx="462.0" cy="181.9" r="3.5" fill="#ff0000"/>
<circle cx="462.1" cy="179.4" r="3.5" fill="#ff0000"/>
<circle cx="463.3" cy="188.8" r="3.5" fill="#ff0000"/>
<circle cx="463.2" cy="195.9" r="3.5" fill="#ff0000"/>
<circle cx="464.3" cy="197.0" r="3.5" fill="#ff0000"/>
<circle cx="464.4" cy="191.2" r="3.5" fill="#ff0000"/>
<circle cx="465.2" cy="189.9" r="3.5" fill="#ff0000"/>
<circle cx="465.7" cy="185.9" r="3.5" fill="#ff0000"/>
<circle cx="466.2" cy="193.3" r="3.5" fill="#ff0000"/>
<circle cx="466.5" cy="201.5" r="3.5" fill="#ff0000"/>
<circle cx="466.4" cy="196.5" r="3.5" fill="#ff0000"/>
<circle cx="466.9" cy="187.0" r="3.5" fill="#ff0000"/>
<circle cx="467.5" cy="202.6" r="3.5" fill="#ff0000"/>
<circle cx="467.9" cy="183.2" r="3.5" fill="#ff0000"/>
<circle cx="468.9" cy="187.0" r="3.5" fill="#ff0000"/>
<circle cx="469.5" cy="186.4" r="3.5" fill="#ff0000"/>
<circle cx="469.4" cy="192.5" r="3.5" fill="#ff0000"/>
<circle cx="470.0" cy="202.5" r="3.5" fill="#ff0000"/>
<circle cx="470.5" cy="203.6" r="3.5" fill="#ff0000"/>
<circle cx="470.9" cy="184.7" r="3.5" fill="#ff0000"/>
<circle cx="472.0" cy="193.4" r="3.5" fill="#ff0000"/>
<circle cx="472.0" cy="204.0" r="3.5" fill="#ff0000"/>
<circle cx="472.4" cy="189.3" r="3.5" fill="#ff0000"/>
<circle cx="472.8" cy="196.2" r="3.5" fill="#ff0000"/>
<circle cx="473.3" cy="201.7" r="3.5" fill="#ff0000"/>
<circle cx="474.4" cy="206.7" r="3.5" fill="#ff0000"/>
<circle cx="474.9" cy="199.5" r="3.5" fill="#ff0000"/>
<circle cx="474.9" cy="202.5" r="3.5" fill="#ff0000"/>
<circle cx="475.4" cy="200.9" r="3.5" fill="#ff0000"/>
<circle cx="476.1" cy="202.3" r="3.5" fill="#ff0000"/>
<circle cx="477.0" cy="207.4" r="3.5" fill="#ff0000"/>
<circle cx="477.1" cy="212.9" r="3.5" fill="#ff0000"/>
<circle cx="478.2" cy="206.7" r="3.5" fill="#ff0000"/>
<circle cx="478.5" cy="206.4" r="3.5" fill="#ff0000"/>
<circle cx="478.9" cy="206.7" r="3.5" fill="#ff0000"/>
<circle cx="478.9" cy="212.4" r="3.5" fill="#ff0000"/>
<circle cx="480.2" cy="212.7" r="3.5" fill="#ff0000"/>
<circle cx="479.8" cy="207.4" r="3.5" fill="#ff0000"/>
<circle cx="480.7" cy="213.8" r="3.5" fill="#ff0000"/>
<circle cx="481.1" cy="198.2" r="3.5" fill="#ff0000"/>
<circle cx="481.5" cy="208.3" r="3.5" fill="#ff0000"/>
<circle cx="482.1" cy="208.7" r="3.5" fill="#ff0000"/>
<circle cx="483.2" cy="201.9" r="3.5" fill="#ff0000"/>
<circle cx="483.3" cy="219.1" r="3.5" fill="#ff0000"/>
<circle cx="484.1" cy="220.9" r="3.5" fill="#ff0000"/>
<circle cx="484.6" cy="216.4" r="3.5" fill="#ff0000"/>
<circle cx="484.6" cy="216.2" r="3.5" fill="#ff0000"/>
<circle cx="485.1" cy="224.9" r="3.5" fill="#ff0000"/>
<circle cx="486.5" cy="221.8" r="3.5" fill="#ff0000"/>
<circle cx="486.4" cy="221.0" r="3.5" fill="#ff0000"/>
<circle cx="487.6" cy="212.2" r="3.5" fill="#ff0000"/>
<circle cx="487.5" cy="215.4" r="3.5" fill="#ff0000"/>
<circle cx="488.5" cy="217.7" r="3.5" fill="#ff0000"/>
<circle cx="488.9" cy="223.6" r="3.5" fill="#ff0000"/>
<circle cx="488.9" cy="210.6" r="3.5" fill="#ff0000"/>
<circle cx="489.8" cy="215.1" r="3.5" fill="#ff0000"/>
<circle cx="490.7" cy="223.4" r="3.5" fill="#ff0000"/>
<circle cx="491.1" cy="223.9" r="3.5" fill="#ff0000"/>
<circle cx="491.0" cy="223.3" r="3.5" fill="#ff0000"/>
<circle cx="491.8" cy="211.6" r="3.5" fill="#ff0000"/>
<circle cx="492.5" cy="219.7" r="3.5" fill="#ff0000"/>
<circle cx="492.8" cy="219.0" r="3.5" fill="#ff0000"/>
<circle cx="493.9" cy="215.5" r="3.5" fill="#ff0000"/>
<circle cx="494.5" cy="218.1" r="3.5" fill="#ff0000"/>
<circle cx="494.4" cy="214.7" r="3.5" fill="#ff0000"/>
<circle cx="495.1" cy="229.5" r="3.5" fill="#ff0000"/>
<circle cx="495.6" cy="234.3" r="3.5" fill="#ff0000"/>
<circle cx="496.5" cy="233.3" r="3.5" fill="#ff0000"/>
<circle cx="497.0" cy="230.9" r="3.5" fill="#ff0000"/>
<circle cx="497.7" cy="223.7" r="3.5" fill="#ff0000"/>
<circle cx="498.2" cy="229.0" r="3.5" fill="#ff0000"/>
<circle cx="498.9" cy="228.1" r="3.5" fill="#ff0000"/>
<circle cx="499.5" cy="230.2" r="3.5" fill="#ff0000"/>
<circle cx="500.0" cy="228.2" r="3.5" fill="#ff0000"/>
<circle cx="500.0" cy="234.2" r="3.5" fill="#ff0000"/>
<circle cx="501.2" cy="238.8" r="3.5" fill="#ff0000"/>
<circle cx="502.0" cy="240.8" r="3.5" fill="#ff0000"/>
<circle cx="501.9" cy="229.7" r="3.5" fill="#ff0000"/>
<circle cx="502.7" cy="243.2" r="3.5" fill="#ff0000"/>
<circle cx="503.7" cy="243.8" r="3.5" fill="#ff0000"/>
<circle cx="504.0" cy="224.7" r="3.5" fill="#ff0000"/>
<circle cx="504.2" cy="245.9" r="3.5" fill="#ff0000"/>
<circle cx="505.0" cy="240.8" r="3.5" fill="#ff0000"/>
<circle cx="505.2" cy="246.0" r="3.5" fill="#ff0000"/>
<circle cx="506.4" cy="245.1" r="3.5" fill="#ff0000"/>
<circle cx="507.2" cy="240.6" r="3.5" fill="#ff0000"/>
<circle cx="507.7" cy="247.0" r="3.5" fill="#ff0000"/>
<circle cx="508.3" cy="235.9" r="3.5" fill="#ff0000"/>
<circle cx="508.5" cy="251.1" r="3.5" fill="#ff0000"/>
<circle cx="509.4" cy="250.4" r="3.5" fill="#ff0000"/>
<circle cx="510.2" cy="245.1" r="3.5" fill="#ff0000"/>
<circle cx="510.0" cy="235.0" r="3.5" fill="#ff0000"/>
<circle cx="510.8" cy="254.5" r="3.5" fill="#ff0000"/>
<circle cx="511.7" cy="248.5" r="3.5" fill="#ff0000"/>
<circle cx="512.2" cy="251.2" r="3.5" fill="#ff0000"/>
<circle cx="512.6" cy="235.4" r="3.5" fill="#ff0000"/>
<circle cx="513.4" cy="242.3" r="3.5" fill="#ff0000"/>
<circle cx="513.7" cy="256.8" r="3.5" fill="#ff0000"/>
<circle cx="514.8" cy="247.4" r="3.5" fill="#ff0000"/>
<circle cx="515.5" cy="248.7" r="3.5" fill="#ff0000"/>
<circle cx="516.2" cy="237.7" r="3.5" fill="#ff0000"/>
<circle cx="516.1" cy="250.7" r="3.5" fill="#ff0000"/>
<circle cx="517.2" cy="253.3" r="3.5" fill="#ff0000"/>
<circle cx="517.8" cy="256.7" r="3.5" fill="#ff0000"/>
<circle cx="518.1" cy="249.5" r="3.5" fill="#ff0000"/>
<circle cx="519.3" cy="260.0" r="3.5" fill="#ff0000"/>
<circle cx="519.1" cy="264.0" r="3.5" fill="#ff0000"/>
<circle cx="520.4" cy="248.2" r="3.5" fill="#ff0000"/>
<circle cx="520.2" cy="267.4" r="3.5" fill="#ff0000"/>
<circle cx="520.9" cy="265.7" r="3.5" fill="#ff0000"/>
<circle cx="521.7" cy="266.8" r="3.5" fill="#ff0000"/>
<circle cx="522.7" cy="262.8" r="3.5" fill="#ff0000"/>
<circle cx="523.6" cy="257.7" r="3.5" fill="#ff0000"/>
<circle cx="523.9" cy="257.4" r="3.5" fill="#ff0000"/>
<circle cx="524.8" cy="261.8" r="3.5" fill="#ff0000"/>
<circle cx="524.8" cy="257.6" r="3.5" fill="#ff0000"/>
<circle cx="526.0" cy="259.2" r="3.5" fill="#ff0000"/>
<circle cx="526.1" cy="268.5" r="3.5" fill="#ff0000"/>
<circle cx="527.2" cy="258.2" r="3.5" fill="#ff0000"/>
<circle cx="527.2" cy="254.4" r="3.5" fill="#ff0000"/>
<circle cx="528.4" cy="268.6" r="3.5" fill="#ff0000"/>
<circle cx="528.7" cy="276.4" r="3.5" fill="#ff0000"/>
<circle cx="529.6" cy="260.2" r="3.5" fill="#ff0000"/>
<circle cx="530.0" cy="270.0" r="3.5" fill="#ff0000"/>
<circle cx="530.5" cy="269.4" r="3.5" fill="#ff0000"/>
<circle cx="531.6" cy="265.0" r="3.5" fill="#ff0000"/>
<circle cx="532.1" cy="259.8" r="3.5" fill="#ff0000"/>
<circle cx="533.0" cy="262.1" r="3.5" fill="#ff0000"/>
<circle cx="533.5" cy="274.1" r="3.5" fill="#ff0000"/>
<circle cx="533.6" cy="281.5" r="3.5" fill="#ff0000"/>
<circle cx="535.1" cy="264.8" r="3.5" fill="#ff0000"/>
<circle cx="534.9" cy="281.3" r="3.5" fill="#ff0000"/>
<circle cx="535.7" cy="277.0" r="3.5" fill="#ff0000"/>
<circle cx="536.5" cy="278.2" r="3.5" fill="#ff0000"/>
<circle cx="537.8" cy="285.9" r="3.5" fill="#ff0000"/>
<circle cx="537.9" cy="268.5" r="3.5" fill="#ff0000"/>
<circle cx="539.1" cy="269.5" r="3.5" fill="#ff0000"/>
<circle cx="538.9" cy="261.5" r="3.5" fill="#ff0000"/>
<circle cx="539.9" cy="289.4" r="3.5" fill="#ff0000"/>
<circle cx="540.6" cy="269.3" r="3.5" fill="#ff0000"/>
<circle cx="541.6" cy="282.1" r="3.5" fill="#ff0000"/>
<circle cx="542.5" cy="291.6" r="3.5" fill="#ff0000"/>
<circle cx="543.0" cy="292.7" r="3.5" fill="#ff0000"/>
<circle cx="543.1" cy="273.3" r="3.5" fill="#ff0000"/>
<circle cx="544.4" cy="294.6" r="3.5" fill="#ff0000"/>
<circle cx="544.5" cy="280.1" r="3.5" fill="#ff0000"/>
<circle cx="545.8" cy="281.0" r="3.5" fill="#ff0000"/>
<circle cx="545.6" cy="296.8" r="3.5" fill="#ff0000"/>
<circle cx="546.8" cy="290.1" r="3.5" fill="#ff0000"/>
<circle cx="547.5" cy="293.0" r="3.5" fill="#ff0000"/>
<circle cx="548.1" cy="279.1" r="3.5" fill="#ff0000"/>
<circle cx="549.2" cy="278.2" r="3.5" fill="#ff0000"/>
<circle cx="549.8" cy="300.7" r="3.5" fill="#ff0000"/>
<circle cx="550.4" cy="298.1" r="3.5" fill="#ff0000"/>
<circle cx="550.9" cy="304.3" r="3.5" fill="#ff0000"/>
<circle cx="552.0" cy="284.1" r="3.5" fill="#ff0000"/>
<circle cx="552.1" cy="292.1" r="3.5" fill="#ff0000"/>
<circle cx="553.4" cy="295.6" r="3.5" fill="#ff0000"/>
<circle cx="553.5" cy="282.5" r="3.5" fill="#ff0000"/>
<circle cx="554.7" cy="298.6" r="3.5" fill="#ff0000"/>
<circle cx="554.7" cy="301.4" r="3.5" fill="#ff0000"/>
<circle cx="555.5" cy="303.4" r="3.5" fill="#ff0000"/>
<circle cx="556.6" cy="309.5" r="3.5" fill="#ff0000"/>
<circle cx="557.6" cy="294.3" r="3.5" fill="#ff0000"/>
<circle cx="557.8" cy="301.1" r="3.5" fill="#ff0000"/>
<circle cx="558.9" cy="306.6" r="3.5" fill="#ff0000"/>
<circle cx="559.6" cy="312.3" r="3.5" fill="#ff0000"/>
<circle cx="559.9" cy="287.7" r="3.5" fill="#ff0000"/>
<circle cx="560.7" cy="302.9" r="3.5" fill="#ff0000"/>
<circle cx="561.5" cy="284.1" r="3.5" fill="#ff0000"/>
<circle cx="562.1" cy="307.7" r="3.5" fill="#ff0000"/>
<circle cx="563.5" cy="318.2" r="3.5" fill="#ff0000"/>
<circle cx="563.7" cy="315.7" r="3.5" fill="#ff0000"/>
<circle cx="564.9" cy="313.6" r="3.5" fill="#ff0000"/>
<circle cx="564.7" cy="315.0" r="3.5" fill="#ff0000"/>
<circle cx="565.7" cy="307.8" r="3.5" fill="#ff0000"/>
<circle cx="567.0" cy="308.5" r="3.5" fill="#ff0000"/>
<circle cx="567.7" cy="320.7" r="3.5" fill="#ff0000"/>
<circle cx="568.1" cy="309.6" r="3.5" fill="#ff0000"/>
<circle cx="569.0" cy="316.8" r="3.5" fill="#ff0000"/>
<circle cx="569.7" cy="322.3" r="3.5" fill="#ff0000"/>
<circle cx="570.5" cy="310.3" r="3.5" fill="#ff0000"/>
<circle cx="570.8" cy="321.5" r="3.5" fill="#ff0000"/>
<circle cx="571.6" cy="311.0" r="3.5" fill="#ff0000"/>
<circle cx="573.1" cy="329.5" r="3.5" fill="#ff0000"/>
<circle cx="573.2" cy="326.4" r="3.5" fill="#ff0000"/>
<circle cx="574.1" cy="320.9" r="3.5" fill="#ff0000"/>
<circle cx="575.3" cy="319.7" r="3.5" fill="#ff0000"/>
<circle cx="575.8" cy="324.9" r="3.5" fill="#ff0000"/>
<circle cx="576.7" cy="324.4" r="3.5" fill="#ff0000"/>
<circle cx="577.5" cy="316.1" r="3.5" fill="#ff0000"/>
<circle cx="577.8" cy="327.8" r="3.5" fill="#ff0000"/>
<circle cx="579.0" cy="322.0" r="3.5" fill="#ff0000"/>
<circle cx="579.3" cy="329.9" r="3.5" fill="#ff0000"/>
<circle cx="580.3" cy="314.0" r="3.5" fill="#ff0000"/>
<circle cx="581.3" cy="335.3" r="3.5" fill="#ff0000"/>
<circle cx="581.5" cy="336.5" r="3.5" fill="#ff0000"/>
<circle cx="582.9" cy="336.2" r="3.5" fill="#ff0000"/>
<circle cx="583.7" cy="341.6" r="3.5" fill="#ff0000"/>
<circle cx="584.6" cy="335.4" r="3.5" fill="#ff0000"/>
<circle cx="585.2" cy="338.1" r="3.5" fill="#ff0000"/>
<circle cx="585.7" cy="345.5" r="3.5" fill="#ff0000"/>
<circle cx="586.4" cy="342.8" r="3.5" fill="#ff0000"/>
<circle cx="586.8" cy="339.7" r="3.5" fill="#ff0000"/>
<circle cx="587.6" cy="338.5" r="3.5" fill="#ff0000"/>
<circle cx="588.8" cy="350.8" r="3.5" fill="#ff0000"/>
<circle cx="589.5" cy="351.6" r="3.5" fill="#ff0000"/>
<circle cx="590.3" cy="343.9" r="3.5" fill="#ff0000"/>
<circle cx="591.7" cy="328.9" r="3.5" fill="#ff0000"/>
<circle cx="591.6" cy="344.9" r="3.5" fill="#ff0000"/>
<circle cx="593.3" cy="355.2" r="3.5" fill="#ff0000"/>
<circle cx="593.4" cy="338.2" r="3.5" fill="#ff0000"/>
<circle cx="594.2" cy="337.4" r="3.5" fill="#ff0000"/>
<circle cx="595.1" cy="351.5" r="3.5" fill="#ff0000"/>
<circle cx="596.0" cy="343.3" r="3.5" fill="#ff0000"/>
<circle cx="596.9" cy="354.3" r="3.5" fill="#ff0000"/>
<circle cx="597.8" cy="355.2" r="3.5" fill="#ff0000"/>
<circle cx="598.7" cy="359.9" r="3.5" fill="#ff0000"/>
<circle cx="599.4" cy="345.8" r="3.5" fill="#ff0000"/>
<circle cx="600.6" cy="362.7" r="3.5" fill="#ff0000"/>
<circle cx="600.6" cy="355.3" r="3.5" fill="#ff0000"/>
<circle cx="601.5" cy="330.0" r="3.5" fill="#ff0000"/>
<circle cx="602.6" cy="354.5" r="3.5" fill="#ff0000"/>
<circle cx="603.1" cy="362.7" r="3.5" fill="#ff0000"/>
<circle cx="604.5" cy="345.4" r="3.5" fill="#ff0000"/>
<circle cx="605.1" cy="367.5" r="3.5" fill="#ff0000"/>
<circle cx="606.2" cy="364.4" r="3.5" fill="#ff0000"/>
<circle cx="606.7" cy="366.8" r="3.5" fill="#ff0000"/>
<circle cx="607.1" cy="354.7" r="3.5" fill="#ff0000"/>
<circle cx="608.1" cy="368.7" r="3.5" fill="#ff0000"/>
<circle cx="609.2" cy="339.2" r="3.5" fill="#ff0000"/>
<circle cx="610.4" cy="371.8" r="3.5" fill="#ff0000"/>
<circle cx="610.5" cy="366.2" r="3.5" fill="#ff0000"/>
<circle cx="611.9" cy="355.6" r="3.5" fill="#ff0000"/>
<circle cx="612.5" cy="376.5" r="3.5" fill="#ff0000"/>
<circle cx="613.3" cy="358.8" r="3.5" fill="#ff0000"/>
<circle cx="614.5" cy="368.4" r="3.5" fill="#ff0000"/>
<circle cx="615.2" cy="372.6" r="3.5" fill="#ff0000"/>
<circle cx="616.1" cy="372.6" r="3.5" fill="#ff0000"/>
<circle cx="617.0" cy="362.3" r="3.5" fill="#ff0000"/>
<circle cx="617.8" cy="370.2" r="3.5" fill="#ff0000"/>
<circle cx="619.1" cy="365.9" r="3.5" fill="#ff0000"/>
<circle cx="619.5" cy="380.3" r="3.5" fill="#ff0000"/>
<circle cx="620.4" cy="381.5" r="3.5" fill="#ff0000"/>
<circle cx="620.9" cy="379.4" r="3.5" fill="#ff0000"/>
<circle cx="622.5" cy="381.2" r="3.5" fill="#ff0000"/>
<circle cx="622.8" cy="380.9" r="3.5" fill="#ff0000"/>
<circle cx="623.7" cy="384.8" r="3.5" fill="#ff0000"/>
<circle cx="625.0" cy="380.3" r="3.5" fill="#ff0000"/>
<circle cx="626.0" cy="371.7" r="3.5" fill="#ff0000"/>
<circle cx="626.9" cy="392.5" r="3.5" fill="#ff0000"/>
<circle cx="627.2" cy="383.1" r="3.5" fill="#ff0000"/>
<circle cx="628.1" cy="393.1" r="3.5" fill="#ff0000"/>
<circle cx="628.9" cy="391.5" r="3.5" fill="#ff0000"/>
<circle cx="630.4" cy="372.4" r="3.5" fill="#ff0000"/>
<circle cx="630.6" cy="391.6" r="3.5" fill="#ff0000"/>
<circle cx="631.4" cy="386.7" r="3.5" fill="#ff0000"/>
<circle cx="632.4" cy="393.5" r="3.5" fill="#ff0000"/>
<circle cx="633.4" cy="400.9" r="3.5" fill="#ff0000"/>
<circle cx="634.6" cy="388.7" r="3.5" fill="#ff0000"/>
<circle cx="635.5" cy="398.0" r="3.5" fill="#ff0000"/>
<circle cx="636.3" cy="403.3" r="3.5" fill="#ff0000"/>
<circle cx="637.6" cy="402.6" r="3.5" fill="#ff0000"/>
<circle cx="638.3" cy="406.5" r="3.5" fill="#ff0000"/>
<circle cx="639.6" cy="404.0" r="3.5" fill="#ff0000"/>
<circle cx="639.6" cy="406.9" r="3.5" fill="#ff0000"/>
<circle cx="641.1" cy="415.7" r="3.5" fill="#ff0000"/>
<circle cx="378.2" cy="79.5" r="3.3" fill="#fff" stroke="#12be1e" stroke-width="0.95"/>
<circle cx="378.2" cy="81.4" r="3.3" fill="#fff" stroke="#12be1e" stroke-width="0.95"/>
<circle cx="378.2" cy="81.9" r="3.3" fill="#fff" stroke="#12be1e" stroke-width="0.95"/>
<circle cx="378.2" cy="82.8" r="3.3" fill="#fff" stroke="#12be1e" stroke-width="0.95"/>
<circle cx="378.2" cy="83.4" r="3.3" fill="#fff" stroke="#12be1e" stroke-width="0.95"/>
<circle cx="378.2" cy="84.7" r="3.3" fill="#fff" stroke="#12be1e" stroke-width="0.95"/>
<circle cx="378.2" cy="85.9" r="3.3" fill="#fff" stroke="#12be1e" stroke-width="0.95"/>
<circle cx="378.2" cy="87.5" r="3.3" fill="#fff" stroke="#12be1e" stroke-width="0.95"/>
<circle cx="378.2" cy="88.1" r="3.3" fill="#fff" stroke="#12be1e" stroke-width="0.95"/>
<circle cx="378.2" cy="88.5" r="3.3" fill="#fff" stroke="#12be1e" stroke-width="0.95"/>
<circle cx="378.2" cy="89.8" r="3.3" fill="#fff" stroke="#12be1e" stroke-width="0.95"/>
<circle cx="378.2" cy="90.5" r="3.3" fill="#fff" stroke="#12be1e" stroke-width="0.95"/>
<circle cx="378.2" cy="92.5" r="3.3" fill="#fff" stroke="#12be1e" stroke-width="0.95"/>
<circle cx="380.5" cy="92.5" r="3.3" fill="#fff" stroke="#12be1e" stroke-width="0.95"/>
<circle cx="378.2" cy="94.1" r="3.3" fill="#fff" stroke="#12be1e" stroke-width="0.95"/>
<circle cx="378.2" cy="95.7" r="3.3" fill="#fff" stroke="#12be1e" stroke-width="0.95"/>
<circle cx="378.2" cy="96.3" r="3.3" fill="#fff" stroke="#12be1e" stroke-width="0.95"/>
<circle cx="378.2" cy="97.8" r="3.3" fill="#fff" stroke="#12be1e" stroke-width="0.95"/>
<circle cx="383.2" cy="98.5" r="3.3" fill="#fff" stroke="#12be1e" stroke-width="0.95"/>
<circle cx="378.2" cy="98.8" r="3.3" fill="#fff" stroke="#12be1e" stroke-width="0.95"/>
<circle cx="383.5" cy="100.0" r="3.3" fill="#fff" stroke="#12be1e" stroke-width="0.95"/>
<circle cx="382.1" cy="100.9" r="3.3" fill="#fff" stroke="#12be1e" stroke-width="0.95"/>
<circle cx="378.2" cy="102.7" r="3.3" fill="#fff" stroke="#12be1e" stroke-width="0.95"/>
<circle cx="382.9" cy="103.3" r="3.3" fill="#fff" stroke="#12be1e" stroke-width="0.95"/>
<circle cx="381.9" cy="104.0" r="3.3" fill="#fff" stroke="#12be1e" stroke-width="0.95"/>
<circle cx="384.4" cy="106.0" r="3.3" fill="#fff" stroke="#12be1e" stroke-width="0.95"/>
<circle cx="382.7" cy="106.5" r="3.3" fill="#fff" stroke="#12be1e" stroke-width="0.95"/>
<circle cx="382.4" cy="108.1" r="3.3" fill="#fff" stroke="#12be1e" stroke-width="0.95"/>
<circle cx="385.4" cy="108.8" r="3.3" fill="#fff" stroke="#12be1e" stroke-width="0.95"/>
<circle cx="378.2" cy="109.4" r="3.3" fill="#fff" stroke="#12be1e" stroke-width="0.95"/>
<circle cx="385.9" cy="111.2" r="3.3" fill="#fff" stroke="#12be1e" stroke-width="0.95"/>
<circle cx="381.8" cy="111.9" r="3.3" fill="#fff" stroke="#12be1e" stroke-width="0.95"/>
<circle cx="381.5" cy="112.8" r="3.3" fill="#fff" stroke="#12be1e" stroke-width="0.95"/>
<circle cx="389.8" cy="113.3" r="3.3" fill="#fff" stroke="#12be1e" stroke-width="0.95"/>
<circle cx="387.1" cy="115.0" r="3.3" fill="#fff" stroke="#12be1e" stroke-width="0.95"/>
<circle cx="386.9" cy="116.3" r="3.3" fill="#fff" stroke="#12be1e" stroke-width="0.95"/>
<circle cx="381.1" cy="116.7" r="3.3" fill="#fff" stroke="#12be1e" stroke-width="0.95"/>
<circle cx="381.0" cy="118.3" r="3.3" fill="#fff" stroke="#12be1e" stroke-width="0.95"/>
<circle cx="382.8" cy="118.9" r="3.3" fill="#fff" stroke="#12be1e" stroke-width="0.95"/>
<circle cx="386.0" cy="120.7" r="3.3" fill="#fff" stroke="#12be1e" stroke-width="0.95"/>
<circle cx="387.1" cy="120.9" r="3.3" fill="#fff" stroke="#12be1e" stroke-width="0.95"/>
<circle cx="393.0" cy="122.5" r="3.3" fill="#fff" stroke="#12be1e" stroke-width="0.95"/>
<circle cx="388.4" cy="123.3" r="3.3" fill="#fff" stroke="#12be1e" stroke-width="0.95"/>
<circle cx="381.9" cy="124.3" r="3.3" fill="#fff" stroke="#12be1e" stroke-width="0.95"/>
<circle cx="387.1" cy="125.6" r="3.3" fill="#fff" stroke="#12be1e" stroke-width="0.95"/>
<circle cx="394.0" cy="126.7" r="3.3" fill="#fff" stroke="#12be1e" stroke-width="0.95"/>
<circle cx="388.1" cy="127.2" r="3.3" fill="#fff" stroke="#12be1e" stroke-width="0.95"/>
<circle cx="393.9" cy="128.4" r="3.3" fill="#fff" stroke="#12be1e" stroke-width="0.95"/>
<circle cx="391.8" cy="130.0" r="3.3" fill="#fff" stroke="#12be1e" stroke-width="0.95"/>
<circle cx="396.1" cy="131.3" r="3.3" fill="#fff" stroke="#12be1e" stroke-width="0.95"/>
<circle cx="394.6" cy="132.4" r="3.3" fill="#fff" stroke="#12be1e" stroke-width="0.95"/>
<circle cx="391.7" cy="133.2" r="3.3" fill="#fff" stroke="#12be1e" stroke-width="0.95"/>
<circle cx="385.9" cy="134.7" r="3.3" fill="#fff" stroke="#12be1e" stroke-width="0.95"/>
<circle cx="388.8" cy="134.9" r="3.3" fill="#fff" stroke="#12be1e" stroke-width="0.95"/>
<circle cx="389.7" cy="135.9" r="3.3" fill="#fff" stroke="#12be1e" stroke-width="0.95"/>
<circle cx="392.5" cy="137.0" r="3.3" fill="#fff" stroke="#12be1e" stroke-width="0.95"/>
<circle cx="392.7" cy="138.4" r="3.3" fill="#fff" stroke="#12be1e" stroke-width="0.95"/>
<circle cx="400.5" cy="140.1" r="3.3" fill="#fff" stroke="#12be1e" stroke-width="0.95"/>
<circle cx="391.8" cy="141.0" r="3.3" fill="#fff" stroke="#12be1e" stroke-width="0.95"/>
<circle cx="392.9" cy="141.4" r="3.3" fill="#fff" stroke="#12be1e" stroke-width="0.95"/>
<circle cx="394.1" cy="143.5" r="3.3" fill="#fff" stroke="#12be1e" stroke-width="0.95"/>
<circle cx="397.8" cy="143.6" r="3.3" fill="#fff" stroke="#12be1e" stroke-width="0.95"/>
<circle cx="393.1" cy="145.4" r="3.3" fill="#fff" stroke="#12be1e" stroke-width="0.95"/>
<circle cx="398.9" cy="146.3" r="3.3" fill="#fff" stroke="#12be1e" stroke-width="0.95"/>
<circle cx="392.5" cy="146.8" r="3.3" fill="#fff" stroke="#12be1e" stroke-width="0.95"/>
<circle cx="402.4" cy="148.9" r="3.3" fill="#fff" stroke="#12be1e" stroke-width="0.95"/>
<circle cx="403.0" cy="149.6" r="3.3" fill="#fff" stroke="#12be1e" stroke-width="0.95"/>
<circle cx="397.8" cy="151.2" r="3.3" fill="#fff" stroke="#12be1e" stroke-width="0.95"/>
<circle cx="399.5" cy="152.1" r="3.3" fill="#fff" stroke="#12be1e" stroke-width="0.95"/>
<circle cx="392.3" cy="152.5" r="3.3" fill="#fff" stroke="#12be1e" stroke-width="0.95"/>
<circle cx="400.6" cy="154.4" r="3.3" fill="#fff" stroke="#12be1e" stroke-width="0.95"/>
<circle cx="398.8" cy="155.0" r="3.3" fill="#fff" stroke="#12be1e" stroke-width="0.95"/>
<circle cx="395.1" cy="156.1" r="3.3" fill="#fff" stroke="#12be1e" stroke-width="0.95"/>
<circle cx="402.0" cy="157.5" r="3.3" fill="#fff" stroke="#12be1e" stroke-width="0.95"/>
<circle cx="401.7" cy="158.6" r="3.3" fill="#fff" stroke="#12be1e" stroke-width="0.95"/>
<circle cx="395.5" cy="159.5" r="3.3" fill="#fff" stroke="#12be1e" stroke-width="0.95"/>
<circle cx="405.7" cy="160.8" r="3.3" fill="#fff" stroke="#12be1e" stroke-width="0.95"/>
<circle cx="406.3" cy="162.3" r="3.3" fill="#fff" stroke="#12be1e" stroke-width="0.95"/>
<circle cx="406.7" cy="162.8" r="3.3" fill="#fff" stroke="#12be1e" stroke-width="0.95"/>
<circle cx="402.1" cy="164.3" r="3.3" fill="#fff" stroke="#12be1e" stroke-width="0.95"/>
<circle cx="401.9" cy="165.6" r="3.3" fill="#fff" stroke="#12be1e" stroke-width="0.95"/>
<circle cx="404.9" cy="166.5" r="3.3" fill="#fff" stroke="#12be1e" stroke-width="0.95"/>
<circle cx="401.9" cy="168.2" r="3.3" fill="#fff" stroke="#12be1e" stroke-width="0.95"/>
<circle cx="402.0" cy="168.9" r="3.3" fill="#fff" stroke="#12be1e" stroke-width="0.95"/>
<circle cx="405.0" cy="169.4" r="3.3" fill="#fff" stroke="#12be1e" stroke-width="0.95"/>
<circle cx="404.6" cy="170.9" r="3.3" fill="#fff" stroke="#12be1e" stroke-width="0.95"/>
<circle cx="402.8" cy="172.6" r="3.3" fill="#fff" stroke="#12be1e" stroke-width="0.95"/>
<circle cx="405.4" cy="172.8" r="3.3" fill="#fff" stroke="#12be1e" stroke-width="0.95"/>
<circle cx="401.5" cy="174.1" r="3.3" fill="#fff" stroke="#12be1e" stroke-width="0.95"/>
<circle cx="404.3" cy="175.1" r="3.3" fill="#fff" stroke="#12be1e" stroke-width="0.95"/>
<circle cx="415.0" cy="176.3" r="3.3" fill="#fff" stroke="#12be1e" stroke-width="0.95"/>
<circle cx="404.8" cy="177.5" r="3.3" fill="#fff" stroke="#12be1e" stroke-width="0.95"/>
<circle cx="408.8" cy="178.9" r="3.3" fill="#fff" stroke="#12be1e" stroke-width="0.95"/>
<circle cx="409.1" cy="179.7" r="3.3" fill="#fff" stroke="#12be1e" stroke-width="0.95"/>
<circle cx="405.7" cy="181.7" r="3.3" fill="#fff" stroke="#12be1e" stroke-width="0.95"/>
<circle cx="411.9" cy="182.0" r="3.3" fill="#fff" stroke="#12be1e" stroke-width="0.95"/>
<circle cx="409.8" cy="183.5" r="3.3" fill="#fff" stroke="#12be1e" stroke-width="0.95"/>
<circle cx="411.7" cy="184.6" r="3.3" fill="#fff" stroke="#12be1e" stroke-width="0.95"/>
<circle cx="409.8" cy="186.4" r="3.3" fill="#fff" stroke="#12be1e" stroke-width="0.95"/>
<circle cx="404.5" cy="187.0" r="3.3" fill="#fff" stroke="#12be1e" stroke-width="0.95"/>
<circle cx="417.7" cy="188.9" r="3.3" fill="#fff" stroke="#12be1e" stroke-width="0.95"/>
<circle cx="415.5" cy="189.5" r="3.3" fill="#fff" stroke="#12be1e" stroke-width="0.95"/>
<circle cx="411.0" cy="190.9" r="3.3" fill="#fff" stroke="#12be1e" stroke-width="0.95"/>
<circle cx="415.0" cy="191.7" r="3.3" fill="#fff" stroke="#12be1e" stroke-width="0.95"/>
<circle cx="418.1" cy="193.0" r="3.3" fill="#fff" stroke="#12be1e" stroke-width="0.95"/>
<circle cx="413.8" cy="194.3" r="3.3" fill="#fff" stroke="#12be1e" stroke-width="0.95"/>
<circle cx="412.7" cy="194.9" r="3.3" fill="#fff" stroke="#12be1e" stroke-width="0.95"/>
<circle cx="415.1" cy="196.1" r="3.3" fill="#fff" stroke="#12be1e" stroke-width="0.95"/>
<circle cx="412.4" cy="197.4" r="3.3" fill="#fff" stroke="#12be1e" stroke-width="0.95"/>
<circle cx="419.7" cy="199.0" r="3.3" fill="#fff" stroke="#12be1e" stroke-width="0.95"/>
<circle cx="418.8" cy="200.6" r="3.3" fill="#fff" stroke="#12be1e" stroke-width="0.95"/>
<circle cx="410.9" cy="201.7" r="3.3" fill="#fff" stroke="#12be1e" stroke-width="0.95"/>
<circle cx="414.1" cy="202.6" r="3.3" fill="#fff" stroke="#12be1e" stroke-width="0.95"/>
<circle cx="422.0" cy="204.1" r="3.3" fill="#fff" stroke="#12be1e" stroke-width="0.95"/>
<circle cx="412.6" cy="205.1" r="3.3" fill="#fff" stroke="#12be1e" stroke-width="0.95"/>
<circle cx="422.9" cy="206.8" r="3.3" fill="#fff" stroke="#12be1e" stroke-width="0.95"/>
<circle cx="424.8" cy="207.2" r="3.3" fill="#fff" stroke="#12be1e" stroke-width="0.95"/>
<circle cx="421.0" cy="208.9" r="3.3" fill="#fff" stroke="#12be1e" stroke-width="0.95"/>
<circle cx="418.4" cy="209.5" r="3.3" fill="#fff" stroke="#12be1e" stroke-width="0.95"/>
<circle cx="419.4" cy="211.5" r="3.3" fill="#fff" stroke="#12be1e" stroke-width="0.95"/>
<circle cx="421.2" cy="212.7" r="3.3" fill="#fff" stroke="#12be1e" stroke-width="0.95"/>
<circle cx="420.8" cy="213.0" r="3.3" fill="#fff" stroke="#12be1e" stroke-width="0.95"/>
<circle cx="421.4" cy="215.3" r="3.3" fill="#fff" stroke="#12be1e" stroke-width="0.95"/>
<circle cx="421.6" cy="215.4" r="3.3" fill="#fff" stroke="#12be1e" stroke-width="0.95"/>
<circle cx="424.1" cy="217.1" r="3.3" fill="#fff" stroke="#12be1e" stroke-width="0.95"/>
<circle cx="427.4" cy="218.0" r="3.3" fill="#fff" stroke="#12be1e" stroke-width="0.95"/>
<circle cx="428.6" cy="219.4" r="3.3" fill="#fff" stroke="#12be1e" stroke-width="0.95"/>
<circle cx="425.1" cy="220.2" r="3.3" fill="#fff" stroke="#12be1e" stroke-width="0.95"/>
<circle cx="428.0" cy="222.6" r="3.3" fill="#fff" stroke="#12be1e" stroke-width="0.95"/>
<circle cx="426.1" cy="223.0" r="3.3" fill="#fff" stroke="#12be1e" stroke-width="0.95"/>
<circle cx="425.0" cy="224.2" r="3.3" fill="#fff" stroke="#12be1e" stroke-width="0.95"/>
<circle cx="430.7" cy="226.2" r="3.3" fill="#fff" stroke="#12be1e" stroke-width="0.95"/>
<circle cx="424.7" cy="227.2" r="3.3" fill="#fff" stroke="#12be1e" stroke-width="0.95"/>
<circle cx="431.7" cy="228.1" r="3.3" fill="#fff" stroke="#12be1e" stroke-width="0.95"/>
<circle cx="428.9" cy="229.2" r="3.3" fill="#fff" stroke="#12be1e" stroke-width="0.95"/>
<circle cx="430.1" cy="230.4" r="3.3" fill="#fff" stroke="#12be1e" stroke-width="0.95"/>
<circle cx="421.8" cy="231.8" r="3.3" fill="#fff" stroke="#12be1e" stroke-width="0.95"/>
<circle cx="427.9" cy="233.1" r="3.3" fill="#fff" stroke="#12be1e" stroke-width="0.95"/>
<circle cx="426.3" cy="234.1" r="3.3" fill="#fff" stroke="#12be1e" stroke-width="0.95"/>
<circle cx="434.5" cy="236.2" r="3.3" fill="#fff" stroke="#12be1e" stroke-width="0.95"/>
<circle cx="433.0" cy="236.7" r="3.3" fill="#fff" stroke="#12be1e" stroke-width="0.95"/>
<circle cx="432.6" cy="238.4" r="3.3" fill="#fff" stroke="#12be1e" stroke-width="0.95"/>
<circle cx="432.9" cy="238.9" r="3.3" fill="#fff" stroke="#12be1e" stroke-width="0.95"/>
<circle cx="428.2" cy="240.7" r="3.3" fill="#fff" stroke="#12be1e" stroke-width="0.95"/>
<circle cx="438.2" cy="241.9" r="3.3" fill="#fff" stroke="#12be1e" stroke-width="0.95"/>
<circle cx="437.8" cy="243.4" r="3.3" fill="#fff" stroke="#12be1e" stroke-width="0.95"/>
<circle cx="435.8" cy="244.9" r="3.3" fill="#fff" stroke="#12be1e" stroke-width="0.95"/>
<circle cx="428.1" cy="246.0" r="3.3" fill="#fff" stroke="#12be1e" stroke-width="0.95"/>
<circle cx="434.3" cy="246.9" r="3.3" fill="#fff" stroke="#12be1e" stroke-width="0.95"/>
<circle cx="440.8" cy="248.1" r="3.3" fill="#fff" stroke="#12be1e" stroke-width="0.95"/>
<circle cx="429.1" cy="249.0" r="3.3" fill="#fff" stroke="#12be1e" stroke-width="0.95"/>
<circle cx="437.9" cy="251.4" r="3.3" fill="#fff" stroke="#12be1e" stroke-width="0.95"/>
<circle cx="439.4" cy="252.2" r="3.3" fill="#fff" stroke="#12be1e" stroke-width="0.95"/>
<circle cx="434.5" cy="253.5" r="3.3" fill="#fff" stroke="#12be1e" stroke-width="0.95"/>
<circle cx="431.4" cy="255.1" r="3.3" fill="#fff" stroke="#12be1e" stroke-width="0.95"/>
<circle cx="438.3" cy="255.7" r="3.3" fill="#fff" stroke="#12be1e" stroke-width="0.95"/>
<circle cx="435.9" cy="257.3" r="3.3" fill="#fff" stroke="#12be1e" stroke-width="0.95"/>
<circle cx="443.9" cy="258.1" r="3.3" fill="#fff" stroke="#12be1e" stroke-width="0.95"/>
<circle cx="435.9" cy="259.3" r="3.3" fill="#fff" stroke="#12be1e" stroke-width="0.95"/>
<circle cx="435.4" cy="260.5" r="3.3" fill="#fff" stroke="#12be1e" stroke-width="0.95"/>
<circle cx="443.9" cy="262.3" r="3.3" fill="#fff" stroke="#12be1e" stroke-width="0.95"/>
<circle cx="445.9" cy="263.1" r="3.3" fill="#fff" stroke="#12be1e" stroke-width="0.95"/>
<circle cx="447.9" cy="265.1" r="3.3" fill="#fff" stroke="#12be1e" stroke-width="0.95"/>
<circle cx="446.5" cy="266.4" r="3.3" fill="#fff" stroke="#12be1e" stroke-width="0.95"/>
<circle cx="444.8" cy="267.2" r="3.3" fill="#fff" stroke="#12be1e" stroke-width="0.95"/>
<circle cx="446.7" cy="269.4" r="3.3" fill="#fff" stroke="#12be1e" stroke-width="0.95"/>
<circle cx="448.1" cy="270.6" r="3.3" fill="#fff" stroke="#12be1e" stroke-width="0.95"/>
<circle cx="447.4" cy="271.7" r="3.3" fill="#fff" stroke="#12be1e" stroke-width="0.95"/>
<circle cx="440.4" cy="272.9" r="3.3" fill="#fff" stroke="#12be1e" stroke-width="0.95"/>
<circle cx="441.2" cy="273.6" r="3.3" fill="#fff" stroke="#12be1e" stroke-width="0.95"/>
<circle cx="446.1" cy="274.9" r="3.3" fill="#fff" stroke="#12be1e" stroke-width="0.95"/>
<circle cx="444.7" cy="276.8" r="3.3" fill="#fff" stroke="#12be1e" stroke-width="0.95"/>
<circle cx="444.2" cy="278.2" r="3.3" fill="#fff" stroke="#12be1e" stroke-width="0.95"/>
<circle cx="446.2" cy="279.0" r="3.3" fill="#fff" stroke="#12be1e" stroke-width="0.95"/>
<circle cx="447.5" cy="280.6" r="3.3" fill="#fff" stroke="#12be1e" stroke-width="0.95"/>
<circle cx="446.9" cy="281.7" r="3.3" fill="#fff" stroke="#12be1e" stroke-width="0.95"/>
<circle cx="445.9" cy="283.6" r="3.3" fill="#fff" stroke="#12be1e" stroke-width="0.95"/>
<circle cx="449.4" cy="284.2" r="3.3" fill="#fff" stroke="#12be1e" stroke-width="0.95"/>
<circle cx="449.9" cy="286.4" r="3.3" fill="#fff" stroke="#12be1e" stroke-width="0.95"/>
<circle cx="450.9" cy="286.8" r="3.3" fill="#fff" stroke="#12be1e" stroke-width="0.95"/>
<circle cx="442.7" cy="288.1" r="3.3" fill="#fff" stroke="#12be1e" stroke-width="0.95"/>
<circle cx="454.1" cy="290.3" r="3.3" fill="#fff" stroke="#12be1e" stroke-width="0.95"/>
<circle cx="455.4" cy="291.1" r="3.3" fill="#fff" stroke="#12be1e" stroke-width="0.95"/>
<circle cx="448.5" cy="292.1" r="3.3" fill="#fff" stroke="#12be1e" stroke-width="0.95"/>
<circle cx="450.5" cy="294.2" r="3.3" fill="#fff" stroke="#12be1e" stroke-width="0.95"/>
<circle cx="448.4" cy="295.1" r="3.3" fill="#fff" stroke="#12be1e" stroke-width="0.95"/>
<circle cx="450.2" cy="297.1" r="3.3" fill="#fff" stroke="#12be1e" stroke-width="0.95"/>
<circle cx="452.7" cy="297.5" r="3.3" fill="#fff" stroke="#12be1e" stroke-width="0.95"/>
<circle cx="451.1" cy="299.2" r="3.3" fill="#fff" stroke="#12be1e" stroke-width="0.95"/>
<circle cx="454.1" cy="300.7" r="3.3" fill="#fff" stroke="#12be1e" stroke-width="0.95"/>
<circle cx="453.3" cy="301.7" r="3.3" fill="#fff" stroke="#12be1e" stroke-width="0.95"/>
<circle cx="455.0" cy="303.9" r="3.3" fill="#fff" stroke="#12be1e" stroke-width="0.95"/>
<circle cx="460.0" cy="304.3" r="3.3" fill="#fff" stroke="#12be1e" stroke-width="0.95"/>
<circle cx="458.1" cy="306.0" r="3.3" fill="#fff" stroke="#12be1e" stroke-width="0.95"/>
<circle cx="455.0" cy="308.0" r="3.3" fill="#fff" stroke="#12be1e" stroke-width="0.95"/>
<circle cx="460.0" cy="308.9" r="3.3" fill="#fff" stroke="#12be1e" stroke-width="0.95"/>
<circle cx="455.1" cy="310.8" r="3.3" fill="#fff" stroke="#12be1e" stroke-width="0.95"/>
<circle cx="462.7" cy="311.5" r="3.3" fill="#fff" stroke="#12be1e" stroke-width="0.95"/>
<circle cx="461.8" cy="313.0" r="3.3" fill="#fff" stroke="#12be1e" stroke-width="0.95"/>
<circle cx="455.8" cy="314.2" r="3.3" fill="#fff" stroke="#12be1e" stroke-width="0.95"/>
<circle cx="461.6" cy="315.4" r="3.3" fill="#fff" stroke="#12be1e" stroke-width="0.95"/>
<circle cx="462.7" cy="317.3" r="3.3" fill="#fff" stroke="#12be1e" stroke-width="0.95"/>
<circle cx="466.4" cy="318.9" r="3.3" fill="#fff" stroke="#12be1e" stroke-width="0.95"/>
<circle cx="461.7" cy="319.8" r="3.3" fill="#fff" stroke="#12be1e" stroke-width="0.95"/>
<circle cx="464.2" cy="321.1" r="3.3" fill="#fff" stroke="#12be1e" stroke-width="0.95"/>
<circle cx="468.6" cy="322.9" r="3.3" fill="#fff" stroke="#12be1e" stroke-width="0.95"/>
<circle cx="468.6" cy="324.5" r="3.3" fill="#fff" stroke="#12be1e" stroke-width="0.95"/>
<circle cx="464.9" cy="325.4" r="3.3" fill="#fff" stroke="#12be1e" stroke-width="0.95"/>
<circle cx="464.3" cy="327.1" r="3.3" fill="#fff" stroke="#12be1e" stroke-width="0.95"/>
<circle cx="465.9" cy="327.8" r="3.3" fill="#fff" stroke="#12be1e" stroke-width="0.95"/>
<circle cx="464.2" cy="329.3" r="3.3" fill="#fff" stroke="#12be1e" stroke-width="0.95"/>
<circle cx="468.0" cy="331.6" r="3.3" fill="#fff" stroke="#12be1e" stroke-width="0.95"/>
<circle cx="466.7" cy="332.1" r="3.3" fill="#fff" stroke="#12be1e" stroke-width="0.95"/>
<circle cx="469.6" cy="334.1" r="3.3" fill="#fff" stroke="#12be1e" stroke-width="0.95"/>
<circle cx="465.8" cy="334.9" r="3.3" fill="#fff" stroke="#12be1e" stroke-width="0.95"/>
<circle cx="462.7" cy="337.3" r="3.3" fill="#fff" stroke="#12be1e" stroke-width="0.95"/>
<circle cx="472.2" cy="337.9" r="3.3" fill="#fff" stroke="#12be1e" stroke-width="0.95"/>
<circle cx="468.0" cy="339.7" r="3.3" fill="#fff" stroke="#12be1e" stroke-width="0.95"/>
<circle cx="465.0" cy="340.6" r="3.3" fill="#fff" stroke="#12be1e" stroke-width="0.95"/>
<circle cx="467.3" cy="341.9" r="3.3" fill="#fff" stroke="#12be1e" stroke-width="0.95"/>
<circle cx="472.3" cy="343.5" r="3.3" fill="#fff" stroke="#12be1e" stroke-width="0.95"/>
<circle cx="476.0" cy="345.5" r="3.3" fill="#fff" stroke="#12be1e" stroke-width="0.95"/>
<circle cx="482.8" cy="346.5" r="3.3" fill="#fff" stroke="#12be1e" stroke-width="0.95"/>
<circle cx="478.9" cy="348.5" r="3.3" fill="#fff" stroke="#12be1e" stroke-width="0.95"/>
<circle cx="480.8" cy="349.6" r="3.3" fill="#fff" stroke="#12be1e" stroke-width="0.95"/>
<circle cx="473.4" cy="351.3" r="3.3" fill="#fff" stroke="#12be1e" stroke-width="0.95"/>
<circle cx="471.3" cy="352.9" r="3.3" fill="#fff" stroke="#12be1e" stroke-width="0.95"/>
<circle cx="477.1" cy="354.2" r="3.3" fill="#fff" stroke="#12be1e" stroke-width="0.95"/>
<circle cx="481.4" cy="354.9" r="3.3" fill="#fff" stroke="#12be1e" stroke-width="0.95"/>
<circle cx="471.7" cy="356.4" r="3.3" fill="#fff" stroke="#12be1e" stroke-width="0.95"/>
<circle cx="473.3" cy="358.4" r="3.3" fill="#fff" stroke="#12be1e" stroke-width="0.95"/>
<circle cx="477.2" cy="359.5" r="3.3" fill="#fff" stroke="#12be1e" stroke-width="0.95"/>
<circle cx="480.6" cy="360.7" r="3.3" fill="#fff" stroke="#12be1e" stroke-width="0.95"/>
<circle cx="478.2" cy="362.8" r="3.3" fill="#fff" stroke="#12be1e" stroke-width="0.95"/>
<circle cx="475.7" cy="364.3" r="3.3" fill="#fff" stroke="#12be1e" stroke-width="0.95"/>
<circle cx="479.6" cy="365.3" r="3.3" fill="#fff" stroke="#12be1e" stroke-width="0.95"/>
<circle cx="474.5" cy="367.4" r="3.3" fill="#fff" stroke="#12be1e" stroke-width="0.95"/>
<circle cx="481.2" cy="368.1" r="3.3" fill="#fff" stroke="#12be1e" stroke-width="0.95"/>
<circle cx="483.9" cy="370.1" r="3.3" fill="#fff" stroke="#12be1e" stroke-width="0.95"/>
<circle cx="481.8" cy="371.2" r="3.3" fill="#fff" stroke="#12be1e" stroke-width="0.95"/>
<circle cx="486.8" cy="372.6" r="3.3" fill="#fff" stroke="#12be1e" stroke-width="0.95"/>
<circle cx="492.8" cy="374.3" r="3.3" fill="#fff" stroke="#12be1e" stroke-width="0.95"/>
<circle cx="490.0" cy="376.0" r="3.3" fill="#fff" stroke="#12be1e" stroke-width="0.95"/>
<circle cx="483.7" cy="377.2" r="3.3" fill="#fff" stroke="#12be1e" stroke-width="0.95"/>
<circle cx="491.1" cy="379.0" r="3.3" fill="#fff" stroke="#12be1e" stroke-width="0.95"/>
<circle cx="478.9" cy="379.7" r="3.3" fill="#fff" stroke="#12be1e" stroke-width="0.95"/>
<circle cx="486.3" cy="381.9" r="3.3" fill="#fff" stroke="#12be1e" stroke-width="0.95"/>
<circle cx="488.3" cy="383.4" r="3.3" fill="#fff" stroke="#12be1e" stroke-width="0.95"/>
<circle cx="492.7" cy="384.7" r="3.3" fill="#fff" stroke="#12be1e" stroke-width="0.95"/>
<circle cx="484.5" cy="386.3" r="3.3" fill="#fff" stroke="#12be1e" stroke-width="0.95"/>
<circle cx="496.8" cy="387.2" r="3.3" fill="#fff" stroke="#12be1e" stroke-width="0.95"/>
<circle cx="497.4" cy="388.7" r="3.3" fill="#fff" stroke="#12be1e" stroke-width="0.95"/>
<circle cx="498.9" cy="390.9" r="3.3" fill="#fff" stroke="#12be1e" stroke-width="0.95"/>
<circle cx="501.4" cy="451.3" r="3.3" fill="#fff" stroke="#12be1e" stroke-width="0.95"/>
<circle cx="514.0" cy="447.0" r="3.3" fill="#fff" stroke="#12be1e" stroke-width="0.95"/>
<circle cx="518.0" cy="445.0" r="3.3" fill="#fff" stroke="#12be1e" stroke-width="0.95"/>
<circle cx="516.0" cy="452.0" r="3.3" fill="#fff" stroke="#12be1e" stroke-width="0.95"/>
<circle cx="521.0" cy="455.0" r="3.3" fill="#fff" stroke="#12be1e" stroke-width="0.95"/>
<circle cx="519.0" cy="458.0" r="3.3" fill="#fff" stroke="#12be1e" stroke-width="0.95"/>
<circle cx="509.0" cy="456.0" r="3.3" fill="#fff" stroke="#12be1e" stroke-width="0.95"/>
<circle cx="514.0" cy="460.0" r="3.3" fill="#fff" stroke="#12be1e" stroke-width="0.95"/>
<circle cx="520.0" cy="449.0" r="3.3" fill="#fff" stroke="#12be1e" stroke-width="0.95"/>
<circle cx="378.4" cy="198.4" r="3.5" fill="#12be1e"/>
<circle cx="378.7" cy="199.3" r="3.5" fill="#12be1e"/>
<circle cx="377.5" cy="199.9" r="3.5" fill="#12be1e"/>
<circle cx="379.7" cy="201.0" r="3.5" fill="#12be1e"/>
<circle cx="378.4" cy="201.6" r="3.5" fill="#12be1e"/>
<circle cx="378.2" cy="202.6" r="3.5" fill="#12be1e"/>
<circle cx="378.9" cy="204.5" r="3.5" fill="#12be1e"/>
<circle cx="379.8" cy="204.6" r="3.5" fill="#12be1e"/>
<circle cx="379.6" cy="205.7" r="3.5" fill="#12be1e"/>
<circle cx="379.7" cy="206.7" r="3.5" fill="#12be1e"/>
<circle cx="381.1" cy="207.6" r="3.5" fill="#12be1e"/>
<circle cx="380.3" cy="209.3" r="3.5" fill="#12be1e"/>
<circle cx="379.8" cy="210.4" r="3.5" fill="#12be1e"/>
<circle cx="379.8" cy="210.9" r="3.5" fill="#12be1e"/>
<circle cx="380.2" cy="212.3" r="3.5" fill="#12be1e"/>
<circle cx="379.7" cy="213.1" r="3.5" fill="#12be1e"/>
<circle cx="378.4" cy="214.0" r="3.5" fill="#12be1e"/>
<circle cx="381.5" cy="215.4" r="3.5" fill="#12be1e"/>
<circle cx="380.6" cy="216.4" r="3.5" fill="#12be1e"/>
<circle cx="380.8" cy="217.1" r="3.5" fill="#12be1e"/>
<circle cx="379.9" cy="218.0" r="3.5" fill="#12be1e"/>
<circle cx="381.1" cy="218.9" r="3.5" fill="#12be1e"/>
<circle cx="381.1" cy="219.9" r="3.5" fill="#12be1e"/>
<circle cx="380.8" cy="221.3" r="3.5" fill="#12be1e"/>
<circle cx="382.3" cy="221.8" r="3.5" fill="#12be1e"/>
<circle cx="380.8" cy="222.8" r="3.5" fill="#12be1e"/>
<circle cx="382.1" cy="224.1" r="3.5" fill="#12be1e"/>
<circle cx="380.9" cy="225.4" r="3.5" fill="#12be1e"/>
<circle cx="382.4" cy="225.9" r="3.5" fill="#12be1e"/>
<circle cx="380.8" cy="226.8" r="3.5" fill="#12be1e"/>
<circle cx="379.6" cy="228.0" r="3.5" fill="#12be1e"/>
<circle cx="380.8" cy="229.0" r="3.5" fill="#12be1e"/>
<circle cx="382.1" cy="230.2" r="3.5" fill="#12be1e"/>
<circle cx="380.7" cy="230.6" r="3.5" fill="#12be1e"/>
<circle cx="380.5" cy="232.2" r="3.5" fill="#12be1e"/>
<circle cx="382.0" cy="232.6" r="3.5" fill="#12be1e"/>
<circle cx="381.8" cy="233.5" r="3.5" fill="#12be1e"/>
<circle cx="381.5" cy="235.4" r="3.5" fill="#12be1e"/>
<circle cx="382.8" cy="236.5" r="3.5" fill="#12be1e"/>
<circle cx="381.1" cy="236.7" r="3.5" fill="#12be1e"/>
<circle cx="381.7" cy="237.7" r="3.5" fill="#12be1e"/>
<circle cx="381.4" cy="238.6" r="3.5" fill="#12be1e"/>
<circle cx="381.5" cy="240.1" r="3.5" fill="#12be1e"/>
<circle cx="382.6" cy="241.0" r="3.5" fill="#12be1e"/>
<circle cx="382.5" cy="241.7" r="3.5" fill="#12be1e"/>
<circle cx="382.8" cy="243.3" r="3.5" fill="#12be1e"/>
<circle cx="384.2" cy="244.0" r="3.5" fill="#12be1e"/>
<circle cx="383.1" cy="244.6" r="3.5" fill="#12be1e"/>
<circle cx="382.6" cy="246.1" r="3.5" fill="#12be1e"/>
<circle cx="382.4" cy="246.5" r="3.5" fill="#12be1e"/>
<circle cx="383.0" cy="247.5" r="3.5" fill="#12be1e"/>
<circle cx="384.6" cy="249.2" r="3.5" fill="#12be1e"/>
<circle cx="383.3" cy="249.6" r="3.5" fill="#12be1e"/>
<circle cx="384.3" cy="250.8" r="3.5" fill="#12be1e"/>
<circle cx="383.8" cy="252.2" r="3.5" fill="#12be1e"/>
<circle cx="384.6" cy="252.5" r="3.5" fill="#12be1e"/>
<circle cx="384.1" cy="254.2" r="3.5" fill="#12be1e"/>
<circle cx="383.8" cy="255.2" r="3.5" fill="#12be1e"/>
<circle cx="384.0" cy="256.3" r="3.5" fill="#12be1e"/>
<circle cx="383.9" cy="256.7" r="3.5" fill="#12be1e"/>
<circle cx="384.6" cy="258.3" r="3.5" fill="#12be1e"/>
<circle cx="383.6" cy="259.5" r="3.5" fill="#12be1e"/>
<circle cx="385.0" cy="260.4" r="3.5" fill="#12be1e"/>
<circle cx="385.7" cy="260.5" r="3.5" fill="#12be1e"/>
<circle cx="383.8" cy="261.5" r="3.5" fill="#12be1e"/>
<circle cx="385.6" cy="263.3" r="3.5" fill="#12be1e"/>
<circle cx="383.9" cy="264.2" r="3.5" fill="#12be1e"/>
<circle cx="386.0" cy="264.9" r="3.5" fill="#12be1e"/>
<circle cx="384.7" cy="265.9" r="3.5" fill="#12be1e"/>
<circle cx="384.7" cy="267.4" r="3.5" fill="#12be1e"/>
<circle cx="386.9" cy="268.4" r="3.5" fill="#12be1e"/>
<circle cx="385.6" cy="269.2" r="3.5" fill="#12be1e"/>
<circle cx="383.8" cy="269.6" r="3.5" fill="#12be1e"/>
<circle cx="385.2" cy="270.8" r="3.5" fill="#12be1e"/>
<circle cx="384.1" cy="271.8" r="3.5" fill="#12be1e"/>
<circle cx="386.0" cy="273.4" r="3.5" fill="#12be1e"/>
<circle cx="384.5" cy="274.4" r="3.5" fill="#12be1e"/>
<circle cx="385.2" cy="275.3" r="3.5" fill="#12be1e"/>
<circle cx="386.5" cy="276.3" r="3.5" fill="#12be1e"/>
<circle cx="385.4" cy="276.8" r="3.5" fill="#12be1e"/>
<circle cx="386.8" cy="277.9" r="3.5" fill="#12be1e"/>
<circle cx="388.0" cy="279.3" r="3.5" fill="#12be1e"/>
<circle cx="386.8" cy="279.8" r="3.5" fill="#12be1e"/>
<circle cx="387.6" cy="280.6" r="3.5" fill="#12be1e"/>
<circle cx="387.6" cy="281.9" r="3.5" fill="#12be1e"/>
<circle cx="388.3" cy="283.1" r="3.5" fill="#12be1e"/>
<circle cx="386.3" cy="283.6" r="3.5" fill="#12be1e"/>
<circle cx="385.1" cy="284.6" r="3.5" fill="#12be1e"/>
<circle cx="387.2" cy="286.0" r="3.5" fill="#12be1e"/>
<circle cx="386.7" cy="287.4" r="3.5" fill="#12be1e"/>
<circle cx="388.9" cy="288.1" r="3.5" fill="#12be1e"/>
<circle cx="387.6" cy="289.4" r="3.5" fill="#12be1e"/>
<circle cx="385.5" cy="289.6" r="3.5" fill="#12be1e"/>
<circle cx="387.1" cy="290.5" r="3.5" fill="#12be1e"/>
<circle cx="388.6" cy="292.1" r="3.5" fill="#12be1e"/>
<circle cx="387.0" cy="292.5" r="3.5" fill="#12be1e"/>
<circle cx="387.4" cy="294.0" r="3.5" fill="#12be1e"/>
<circle cx="386.2" cy="295.3" r="3.5" fill="#12be1e"/>
<circle cx="387.6" cy="296.2" r="3.5" fill="#12be1e"/>
<circle cx="386.8" cy="297.0" r="3.5" fill="#12be1e"/>
<circle cx="387.9" cy="298.1" r="3.5" fill="#12be1e"/>
<circle cx="388.0" cy="298.8" r="3.5" fill="#12be1e"/>
<circle cx="389.1" cy="299.8" r="3.5" fill="#12be1e"/>
<circle cx="389.4" cy="301.2" r="3.5" fill="#12be1e"/>
<circle cx="390.3" cy="301.5" r="3.5" fill="#12be1e"/>
<circle cx="389.1" cy="302.8" r="3.5" fill="#12be1e"/>
<circle cx="389.0" cy="304.1" r="3.5" fill="#12be1e"/>
<circle cx="389.9" cy="305.1" r="3.5" fill="#12be1e"/>
<circle cx="389.1" cy="306.0" r="3.5" fill="#12be1e"/>
<circle cx="388.4" cy="306.9" r="3.5" fill="#12be1e"/>
<circle cx="389.5" cy="308.3" r="3.5" fill="#12be1e"/>
<circle cx="389.6" cy="308.6" r="3.5" fill="#12be1e"/>
<circle cx="390.9" cy="310.0" r="3.5" fill="#12be1e"/>
<circle cx="389.3" cy="310.9" r="3.5" fill="#12be1e"/>
<circle cx="391.6" cy="311.9" r="3.5" fill="#12be1e"/>
<circle cx="390.0" cy="313.3" r="3.5" fill="#12be1e"/>
<circle cx="389.7" cy="313.8" r="3.5" fill="#12be1e"/>
<circle cx="389.2" cy="315.3" r="3.5" fill="#12be1e"/>
<circle cx="390.0" cy="316.5" r="3.5" fill="#12be1e"/>
<circle cx="389.6" cy="316.8" r="3.5" fill="#12be1e"/>
<circle cx="390.7" cy="317.8" r="3.5" fill="#12be1e"/>
<circle cx="390.4" cy="319.2" r="3.5" fill="#12be1e"/>
<circle cx="391.2" cy="320.4" r="3.5" fill="#12be1e"/>
<circle cx="389.1" cy="321.0" r="3.5" fill="#12be1e"/>
<circle cx="389.5" cy="322.1" r="3.5" fill="#12be1e"/>
<circle cx="389.3" cy="322.8" r="3.5" fill="#12be1e"/>
<circle cx="392.3" cy="323.5" r="3.5" fill="#12be1e"/>
<circle cx="391.8" cy="325.2" r="3.5" fill="#12be1e"/>
<circle cx="391.1" cy="325.6" r="3.5" fill="#12be1e"/>
<circle cx="390.5" cy="326.6" r="3.5" fill="#12be1e"/>
<circle cx="390.1" cy="328.1" r="3.5" fill="#12be1e"/>
<circle cx="391.7" cy="329.2" r="3.5" fill="#12be1e"/>
<circle cx="391.9" cy="329.6" r="3.5" fill="#12be1e"/>
<circle cx="391.2" cy="331.3" r="3.5" fill="#12be1e"/>
<circle cx="391.9" cy="331.5" r="3.5" fill="#12be1e"/>
<circle cx="392.6" cy="333.5" r="3.5" fill="#12be1e"/>
<circle cx="393.2" cy="334.4" r="3.5" fill="#12be1e"/>
<circle cx="391.9" cy="335.0" r="3.5" fill="#12be1e"/>
<circle cx="391.2" cy="336.4" r="3.5" fill="#12be1e"/>
<circle cx="390.8" cy="336.8" r="3.5" fill="#12be1e"/>
<circle cx="390.5" cy="338.5" r="3.5" fill="#12be1e"/>
<circle cx="390.9" cy="338.6" r="3.5" fill="#12be1e"/>
<circle cx="391.9" cy="340.4" r="3.5" fill="#12be1e"/>
<circle cx="391.7" cy="340.6" r="3.5" fill="#12be1e"/>
<circle cx="393.1" cy="341.8" r="3.5" fill="#12be1e"/>
<circle cx="390.9" cy="342.7" r="3.5" fill="#12be1e"/>
<circle cx="391.6" cy="343.6" r="3.5" fill="#12be1e"/>
<circle cx="393.0" cy="345.5" r="3.5" fill="#12be1e"/>
<circle cx="392.3" cy="345.7" r="3.5" fill="#12be1e"/>
<circle cx="392.1" cy="346.8" r="3.5" fill="#12be1e"/>
<circle cx="392.8" cy="348.2" r="3.5" fill="#12be1e"/>
<circle cx="393.1" cy="349.1" r="3.5" fill="#12be1e"/>
<circle cx="391.1" cy="350.4" r="3.5" fill="#12be1e"/>
<circle cx="393.4" cy="351.1" r="3.5" fill="#12be1e"/>
<circle cx="392.2" cy="352.3" r="3.5" fill="#12be1e"/>
<circle cx="392.7" cy="352.6" r="3.5" fill="#12be1e"/>
<circle cx="390.8" cy="353.6" r="3.5" fill="#12be1e"/>
<circle cx="395.9" cy="355.4" r="3.5" fill="#12be1e"/>
<circle cx="393.3" cy="356.3" r="3.5" fill="#12be1e"/>
<circle cx="392.0" cy="357.3" r="3.5" fill="#12be1e"/>
<circle cx="392.0" cy="358.2" r="3.5" fill="#12be1e"/>
<circle cx="395.2" cy="359.3" r="3.5" fill="#12be1e"/>
<circle cx="392.9" cy="360.0" r="3.5" fill="#12be1e"/>
<circle cx="393.9" cy="361.1" r="3.5" fill="#12be1e"/>
<circle cx="394.9" cy="361.7" r="3.5" fill="#12be1e"/>
<circle cx="393.6" cy="363.5" r="3.5" fill="#12be1e"/>
<circle cx="393.8" cy="364.3" r="3.5" fill="#12be1e"/>
<circle cx="395.1" cy="365.1" r="3.5" fill="#12be1e"/>
<circle cx="393.5" cy="366.0" r="3.5" fill="#12be1e"/>
<circle cx="396.0" cy="367.1" r="3.5" fill="#12be1e"/>
<circle cx="396.3" cy="368.4" r="3.5" fill="#12be1e"/>
<circle cx="392.9" cy="369.3" r="3.5" fill="#12be1e"/>
<circle cx="393.2" cy="369.5" r="3.5" fill="#12be1e"/>
<circle cx="395.1" cy="370.7" r="3.5" fill="#12be1e"/>
<circle cx="395.3" cy="371.8" r="3.5" fill="#12be1e"/>
<circle cx="393.7" cy="373.4" r="3.5" fill="#12be1e"/>
<circle cx="395.4" cy="373.8" r="3.5" fill="#12be1e"/>
<circle cx="394.3" cy="375.1" r="3.5" fill="#12be1e"/>
<circle cx="396.1" cy="375.7" r="3.5" fill="#12be1e"/>
<circle cx="396.3" cy="376.8" r="3.5" fill="#12be1e"/>
<circle cx="397.1" cy="378.3" r="3.5" fill="#12be1e"/>
<circle cx="395.5" cy="379.3" r="3.5" fill="#12be1e"/>
<circle cx="396.5" cy="380.1" r="3.5" fill="#12be1e"/>
<circle cx="394.1" cy="381.0" r="3.5" fill="#12be1e"/>
<circle cx="394.6" cy="381.6" r="3.5" fill="#12be1e"/>
<circle cx="396.2" cy="383.5" r="3.5" fill="#12be1e"/>
<circle cx="396.4" cy="383.5" r="3.5" fill="#12be1e"/>
<circle cx="397.2" cy="385.4" r="3.5" fill="#12be1e"/>
<circle cx="396.4" cy="385.7" r="3.5" fill="#12be1e"/>
<circle cx="397.0" cy="386.5" r="3.5" fill="#12be1e"/>
<circle cx="398.0" cy="387.7" r="3.5" fill="#12be1e"/>
<circle cx="397.1" cy="389.2" r="3.5" fill="#12be1e"/>
<circle cx="397.1" cy="389.8" r="3.5" fill="#12be1e"/>
<circle cx="398.1" cy="391.2" r="3.5" fill="#12be1e"/>
<circle cx="395.5" cy="391.8" r="3.5" fill="#12be1e"/>
<circle cx="394.7" cy="392.8" r="3.5" fill="#12be1e"/>
<circle cx="396.4" cy="394.1" r="3.5" fill="#12be1e"/>
<circle cx="396.7" cy="395.3" r="3.5" fill="#12be1e"/>
<circle cx="398.6" cy="396.4" r="3.5" fill="#12be1e"/>
<circle cx="396.8" cy="397.1" r="3.5" fill="#12be1e"/>
<circle cx="396.8" cy="398.3" r="3.5" fill="#12be1e"/>
<circle cx="396.9" cy="398.5" r="3.5" fill="#12be1e"/>
<circle cx="395.9" cy="399.9" r="3.5" fill="#12be1e"/>
<circle cx="397.6" cy="400.9" r="3.5" fill="#12be1e"/>
<circle cx="397.7" cy="401.6" r="3.5" fill="#12be1e"/>
<circle cx="397.5" cy="403.0" r="3.5" fill="#12be1e"/>
<circle cx="398.4" cy="404.4" r="3.5" fill="#12be1e"/>
<circle cx="400.6" cy="404.5" r="3.5" fill="#12be1e"/>
<circle cx="397.5" cy="406.4" r="3.5" fill="#12be1e"/>
<circle cx="397.1" cy="406.8" r="3.5" fill="#12be1e"/>
<circle cx="397.2" cy="408.1" r="3.5" fill="#12be1e"/>
<circle cx="396.2" cy="408.5" r="3.5" fill="#12be1e"/>
<circle cx="399.5" cy="409.7" r="3.5" fill="#12be1e"/>
<circle cx="398.9" cy="410.9" r="3.5" fill="#12be1e"/>
<circle cx="399.8" cy="411.8" r="3.5" fill="#12be1e"/>
<circle cx="399.3" cy="413.2" r="3.5" fill="#12be1e"/>
<circle cx="400.0" cy="414.0" r="3.5" fill="#12be1e"/>
<circle cx="398.2" cy="415.1" r="3.5" fill="#12be1e"/>
<circle cx="399.4" cy="416.2" r="3.5" fill="#12be1e"/>
<circle cx="400.0" cy="416.6" r="3.5" fill="#12be1e"/>
<circle cx="399.1" cy="417.8" r="3.5" fill="#12be1e"/>
<circle cx="398.9" cy="419.1" r="3.5" fill="#12be1e"/>
<circle cx="401.1" cy="420.2" r="3.5" fill="#12be1e"/>
<circle cx="399.5" cy="421.3" r="3.5" fill="#12be1e"/>
<circle cx="400.4" cy="422.3" r="3.5" fill="#12be1e"/>
<circle cx="397.7" cy="422.6" r="3.5" fill="#12be1e"/>
<circle cx="399.8" cy="424.3" r="3.5" fill="#12be1e"/>
<circle cx="399.9" cy="424.8" r="3.5" fill="#12be1e"/>
<circle cx="402.4" cy="426.1" r="3.5" fill="#12be1e"/>
<circle cx="400.2" cy="427.0" r="3.5" fill="#12be1e"/>
<circle cx="400.0" cy="428.2" r="3.5" fill="#12be1e"/>
<circle cx="400.0" cy="429.0" r="3.5" fill="#12be1e"/>
<circle cx="402.0" cy="430.0" r="3.5" fill="#12be1e"/>
<circle cx="401.1" cy="431.0" r="3.5" fill="#12be1e"/>
<circle cx="401.9" cy="432.4" r="3.5" fill="#12be1e"/>
<circle cx="402.4" cy="433.3" r="3.5" fill="#12be1e"/>
<circle cx="401.3" cy="434.3" r="3.5" fill="#12be1e"/>
<circle cx="400.8" cy="434.6" r="3.5" fill="#12be1e"/>
<circle cx="402.8" cy="435.8" r="3.5" fill="#12be1e"/>
<circle cx="402.1" cy="437.0" r="3.5" fill="#12be1e"/>
<circle cx="400.5" cy="438.5" r="3.5" fill="#12be1e"/>
<circle cx="402.8" cy="438.7" r="3.5" fill="#12be1e"/>
<circle cx="401.5" cy="440.5" r="3.5" fill="#12be1e"/>
<circle cx="400.7" cy="440.8" r="3.5" fill="#12be1e"/>
<circle cx="401.1" cy="441.6" r="3.5" fill="#12be1e"/>
<circle cx="403.8" cy="442.7" r="3.5" fill="#12be1e"/>
<circle cx="403.2" cy="443.6" r="3.5" fill="#12be1e"/>
<circle cx="399.9" cy="445.5" r="3.5" fill="#12be1e"/>
<circle cx="400.4" cy="445.9" r="3.5" fill="#12be1e"/>
<circle cx="403.3" cy="446.7" r="3.5" fill="#12be1e"/>
<circle cx="401.0" cy="448.2" r="3.5" fill="#12be1e"/>
<circle cx="401.5" cy="449.0" r="3.5" fill="#12be1e"/>
<circle cx="404.8" cy="449.9" r="3.5" fill="#12be1e"/>
<circle cx="401.8" cy="450.8" r="3.5" fill="#12be1e"/>
<circle cx="403.4" cy="451.7" r="3.5" fill="#12be1e"/>
<circle cx="404.5" cy="453.4" r="3.5" fill="#12be1e"/>
<circle cx="404.8" cy="453.6" r="3.5" fill="#12be1e"/>
<circle cx="403.7" cy="454.7" r="3.5" fill="#12be1e"/>
<circle cx="405.2" cy="456.0" r="3.5" fill="#12be1e"/>
<circle cx="401.8" cy="457.3" r="3.5" fill="#12be1e"/>
<circle cx="401.5" cy="457.8" r="3.5" fill="#12be1e"/>
<circle cx="401.6" cy="459.4" r="3.5" fill="#12be1e"/>
<circle cx="404.7" cy="460.4" r="3.5" fill="#12be1e"/>
<circle cx="402.9" cy="460.6" r="3.5" fill="#12be1e"/>
<circle cx="403.5" cy="461.7" r="3.5" fill="#12be1e"/>
<circle cx="404.3" cy="463.3" r="3.5" fill="#12be1e"/>
<circle cx="404.3" cy="464.5" r="3.5" fill="#12be1e"/>
<circle cx="404.5" cy="465.2" r="3.5" fill="#12be1e"/>
<circle cx="402.6" cy="466.3" r="3.5" fill="#12be1e"/>
<circle cx="404.7" cy="466.6" r="3.5" fill="#12be1e"/>
<circle cx="404.6" cy="467.6" r="3.5" fill="#12be1e"/>
<circle cx="404.5" cy="469.0" r="3.5" fill="#12be1e"/>
<circle cx="379.2" cy="72.5" r="3.3" fill="#fff" stroke="#ff0000" stroke-width="0.95"/>
<circle cx="381.5" cy="74.5" r="3.3" fill="#fff" stroke="#ff0000" stroke-width="0.95"/>
<circle cx="383.5" cy="77.5" r="3.3" fill="#fff" stroke="#ff0000" stroke-width="0.95"/>
<circle cx="380.5" cy="79.5" r="3.3" fill="#fff" stroke="#ff0000" stroke-width="0.95"/>
<circle cx="385.5" cy="82.5" r="3.3" fill="#fff" stroke="#ff0000" stroke-width="0.95"/>
<circle cx="382.5" cy="85.5" r="3.3" fill="#fff" stroke="#ff0000" stroke-width="0.95"/>
<circle cx="387.5" cy="88.0" r="3.3" fill="#fff" stroke="#ff0000" stroke-width="0.95"/>
<circle cx="379.5" cy="88.5" r="3.3" fill="#fff" stroke="#ff0000" stroke-width="0.95"/>
<circle cx="384.0" cy="91.5" r="3.3" fill="#fff" stroke="#ff0000" stroke-width="0.95"/>
<circle cx="389.5" cy="93.0" r="3.3" fill="#fff" stroke="#ff0000" stroke-width="0.95"/>
<circle cx="381.0" cy="83.0" r="3.5" fill="#ff0000"/>
<circle cx="383.5" cy="89.0" r="3.5" fill="#ff0000"/>
<circle cx="386.0" cy="95.0" r="3.5" fill="#ff0000"/>
<circle cx="380.0" cy="96.0" r="3.5" fill="#ff0000"/>
<line x1="378.8" y1="90.6" x2="640" y2="406.7" stroke="#878787" stroke-width="2.2"/>
<line x1="378.8" y1="88.9" x2="640" y2="442.8" stroke="#878787" stroke-width="2.2"/>
<line x1="378.6" y1="91.3" x2="486.4" y2="390" stroke="#878787" stroke-width="2.2"/>
<line x1="504.5" y1="438" x2="512.6" y2="462" stroke="#878787" stroke-width="2.2"/>
<line x1="378.2" y1="200" x2="403.5" y2="462" stroke="#878787" stroke-width="2.2"/></g>
<rect x="268" y="340" width="150" height="52" fill="#fff"/>
<rect x="430" y="392" width="135" height="51" fill="#fff"/>
<g stroke="#000" stroke-width="1.7" fill="none">
<line x1="109.8" y1="15.35" x2="109.8" y2="462.45000000000005"/>
<line x1="109.8" y1="16.2" x2="637.6" y2="16.2"/>
<line x1="109.8" y1="461.6" x2="637.6" y2="461.6"/>
<line x1="637.6" y1="15.35" x2="637.6" y2="462.45000000000005"/>
</g>
<g stroke="#000" stroke-width="1.3"><line x1="104.6" y1="461.16" x2="109.8" y2="461.16"/><line x1="104.6" y1="421.95" x2="109.8" y2="421.95"/><line x1="104.6" y1="394.12" x2="109.8" y2="394.12"/><line x1="104.6" y1="372.54" x2="109.8" y2="372.54"/><line x1="104.6" y1="354.91" x2="109.8" y2="354.91"/><line x1="104.6" y1="340.00" x2="109.8" y2="340.00"/><line x1="104.6" y1="327.08" x2="109.8" y2="327.08"/><line x1="104.6" y1="315.69" x2="109.8" y2="315.69"/><line x1="99.3" y1="305.50" x2="109.8" y2="305.50"/><line x1="104.6" y1="238.46" x2="109.8" y2="238.46"/><line x1="104.6" y1="199.25" x2="109.8" y2="199.25"/><line x1="104.6" y1="171.42" x2="109.8" y2="171.42"/><line x1="104.6" y1="149.84" x2="109.8" y2="149.84"/><line x1="104.6" y1="132.21" x2="109.8" y2="132.21"/><line x1="104.6" y1="117.30" x2="109.8" y2="117.30"/><line x1="104.6" y1="104.38" x2="109.8" y2="104.38"/><line x1="104.6" y1="92.99" x2="109.8" y2="92.99"/><line x1="99.3" y1="82.80" x2="109.8" y2="82.80"/><line x1="104.6" y1="15.76" x2="109.8" y2="15.76"/><line x1="104.6" y1="15.76" x2="109.8" y2="15.76"/><line x1="109.48" y1="461.6" x2="109.48" y2="466.8"/><line x1="124.74" y1="461.6" x2="124.74" y2="466.8"/><line x1="140.00" y1="461.6" x2="140.00" y2="472.1"/><line x1="155.26" y1="461.6" x2="155.26" y2="466.8"/><line x1="170.52" y1="461.6" x2="170.52" y2="466.8"/><line x1="185.78" y1="461.6" x2="185.78" y2="466.8"/><line x1="201.04" y1="461.6" x2="201.04" y2="466.8"/><line x1="216.30" y1="461.6" x2="216.30" y2="472.1"/><line x1="231.56" y1="461.6" x2="231.56" y2="466.8"/><line x1="246.82" y1="461.6" x2="246.82" y2="466.8"/><line x1="262.08" y1="461.6" x2="262.08" y2="466.8"/><line x1="277.34" y1="461.6" x2="277.34" y2="466.8"/><line x1="292.60" y1="461.6" x2="292.60" y2="472.1"/><line x1="307.86" y1="461.6" x2="307.86" y2="466.8"/><line x1="323.12" y1="461.6" x2="323.12" y2="466.8"/><line x1="338.38" y1="461.6" x2="338.38" y2="466.8"/><line x1="353.64" y1="461.6" x2="353.64" y2="466.8"/><line x1="388.28" y1="461.6" x2="388.28" y2="466.8"/><line x1="402.96" y1="461.6" x2="402.96" y2="466.8"/><line x1="417.64" y1="461.6" x2="417.64" y2="466.8"/><line x1="432.32" y1="461.6" x2="432.32" y2="466.8"/><line x1="447.00" y1="461.6" x2="447.00" y2="472.1"/><line x1="461.68" y1="461.6" x2="461.68" y2="466.8"/><line x1="476.36" y1="461.6" x2="476.36" y2="466.8"/><line x1="491.04" y1="461.6" x2="491.04" y2="466.8"/><line x1="505.72" y1="461.6" x2="505.72" y2="466.8"/><line x1="520.40" y1="461.6" x2="520.40" y2="472.1"/><line x1="535.08" y1="461.6" x2="535.08" y2="466.8"/><line x1="549.76" y1="461.6" x2="549.76" y2="466.8"/><line x1="564.44" y1="461.6" x2="564.44" y2="466.8"/><line x1="579.12" y1="461.6" x2="579.12" y2="466.8"/><line x1="593.80" y1="461.6" x2="593.80" y2="472.1"/><line x1="608.48" y1="461.6" x2="608.48" y2="466.8"/><line x1="623.16" y1="461.6" x2="623.16" y2="466.8"/><line x1="637.84" y1="461.6" x2="637.84" y2="466.8"/></g>
<polygon points="363.1,21.8 372.4,21.8 382.1,10.6 372.8,10.6" fill="#fff"/><line x1="357.8" y1="26.6" x2="381.0" y2="5.8" stroke="#000" stroke-width="1.6"/><line x1="367.1" y1="26.6" x2="390.2" y2="5.8" stroke="#000" stroke-width="1.6"/>
<polygon points="363.1,467.2 372.4,467.2 382.1,456.0 372.8,456.0" fill="#fff"/><line x1="357.8" y1="472.0" x2="381.0" y2="451.2" stroke="#000" stroke-width="1.6"/><line x1="367.1" y1="472.0" x2="390.2" y2="451.2" stroke="#000" stroke-width="1.6"/>
<text transform="translate(131.80,507.10) scale(0.9646,1)" font-size="31.10" fill="#000">0</text>
<text transform="translate(196.79,507.10) scale(0.9713,1)" font-size="31.10" fill="#000">0</text>
<text transform="translate(212.23,507.10) scale(1.0611,1)" font-size="31.10" fill="#000">.</text>
<path d="M129 0L223 0L223 703L165 703C158 660 130 615 60 598L0 594L0 545L60 548C95 552 115 560 129 572Z" fill="#000" transform="translate(223.20,506.90) scale(0.03184,-0.03087)"/>
<text transform="translate(273.17,507.10) scale(0.9053,1)" font-size="31.10" fill="#000">0.2</text>
<text transform="translate(439.12,507.10) scale(0.9509,1)" font-size="31.10" fill="#000">5</text>
<path d="M129 0L223 0L223 703L165 703C158 660 130 615 60 598L0 594L0 545L60 548C95 552 115 560 129 572Z" fill="#000" transform="translate(506.80,506.90) scale(0.03363,-0.03115)"/>
<text transform="translate(519.31,507.10) scale(1.0383,1)" font-size="31.10" fill="#000">0</text>
<path d="M129 0L223 0L223 703L165 703C158 660 130 615 60 598L0 594L0 545L60 548C95 552 115 560 129 572Z" fill="#000" transform="translate(580.20,506.90) scale(0.03498,-0.03101)"/>
<text transform="translate(594.00,507.10) scale(0.8825,1)" font-size="31.10" fill="#000">5</text>
<path d="M129 0L223 0L223 703L165 703C158 660 130 615 60 598L0 594L0 545L60 548C95 552 115 560 129 572Z" fill="#000" transform="translate(50.95,95.40) scale(0.03274,-0.03058)"/>
<text transform="translate(63.30,95.30) scale(1.0552,1)" font-size="30.80" fill="#000">0</text>
<text transform="translate(80.70,82.10) scale(0.9804,1)" font-size="20.40" fill="#000">0</text>
<path d="M129 0L223 0L223 703L165 703C158 660 130 615 60 598L0 594L0 545L60 548C95 552 115 560 129 572Z" fill="#000" transform="translate(40.00,318.10) scale(0.03274,-0.03087)"/>
<text transform="translate(52.95,318.00) scale(1.0146,1)" font-size="30.80" fill="#000">0</text>
<text transform="translate(69.09,305.10) scale(0.9953,1)" font-size="20.30" fill="#000">−</text>
<path d="M129 0L223 0L223 703L165 703C158 660 130 615 60 598L0 594L0 545L60 548C95 552 115 560 129 572Z" fill="#000" transform="translate(82.90,305.00) scale(0.02242,-0.02020)"/>
<text transform="translate(312.40,541.10) scale(0.9788,1)" font-size="30.90" fill="#000">Time (ns)</text>
<text transform="translate(26.85,396.60) rotate(-90) scale(0.9662,1)" font-size="31.00" fill="#000">Normalized PL intensity</text>
<text transform="translate(-0.59,29.60) scale(0.9150,1)" font-size="39.80" fill="#000" font-weight="bold">a</text>
<circle cx="412.5" cy="40.7" r="4.9" fill="#fff" stroke="#ff0000" stroke-width="2"/>
<circle cx="442" cy="40.7" r="5" fill="#ff0000"/>
<circle cx="412.5" cy="69.9" r="4.9" fill="#fff" stroke="#00b050" stroke-width="2"/>
<circle cx="442" cy="69.9" r="5" fill="#00b050"/>
<text transform="translate(467.42,48.00) scale(0.9797,1)" font-size="23.00" fill="#000" font-weight="bold">BODIPY</text>
<text transform="translate(467.42,76.90) scale(0.9840,1)" font-size="23.00" fill="#000" font-weight="bold">BODIPY/Motor</text>
<line x1="229.1" y1="99.9" x2="192.1" y2="147.8" stroke="#000" stroke-width="4.6"/><polygon points="183.9,158.5 187.0,141.3 192.1,147.8 199.7,151.1" fill="#000"/>
<line x1="522.4" y1="302.3" x2="491.3" y2="331.6" stroke="#000" stroke-width="4.6"/><polygon points="481.5,340.9 487.3,324.4 491.3,331.6 498.3,336.1" fill="#000"/>
<path d="M0 115C15 70 35 22 80 10L295 8L295 52L180 52C172 120 166 200 170 260C173 288 192 296 212 286C232 276 248 262 262 250L272 262C262 300 240 350 195 372C152 384 128 350 124 300C120 240 126 140 134 54L95 56C60 64 32 90 12 125Z" fill="#00b050" transform="translate(220.00,146.10) scale(0.05085,0.04881)"/>
<path d="M129 0L223 0L223 703L165 703C158 660 130 615 60 598L0 594L0 545L60 548C95 552 115 560 129 572Z" fill="#00b050" transform="translate(236.00,173.30) scale(0.03587,-0.02674)"/>
<text transform="translate(254.40,163.52) scale(1.0505,1)" font-size="30.50" fill="#00b050">~</text>
<path d="M129 0L223 0L223 703L165 703C158 660 130 615 60 598L0 594L0 545L60 548C95 552 115 560 129 572Z" fill="#00b050" transform="translate(284.00,163.30) scale(0.03587,-0.03001)"/>
<text transform="translate(297.43,163.40) scale(1.0197,1)" font-size="30.70" fill="#00b050">7</text>
<text transform="translate(322.37,163.40) scale(0.9974,1)" font-size="30.50" fill="#00b050">ps</text>
<path d="M0 115C15 70 35 22 80 10L295 8L295 52L180 52C172 120 166 200 170 260C173 288 192 296 212 286C232 276 248 262 262 250L272 262C262 300 240 350 195 372C152 384 128 350 124 300C120 240 126 140 134 54L95 56C60 64 32 90 12 125Z" fill="#00b050" transform="translate(273.00,362.80) scale(0.05254,0.05040)"/>
<text transform="translate(286.11,389.50) scale(0.9938,1)" font-size="28.00" fill="#00b050">2</text>
<text transform="translate(307.30,379.72) scale(1.0505,1)" font-size="30.50" fill="#00b050">~</text>
<text transform="translate(334.08,379.40) scale(0.9915,1)" font-size="30.80" fill="#00b050">0.7</text>
<text transform="translate(383.56,379.40) scale(1.0043,1)" font-size="30.50" fill="#00b050">ns</text>
<path d="M0 115C15 70 35 22 80 10L295 8L295 52L180 52C172 120 166 200 170 260C173 288 192 296 212 286C232 276 248 262 262 250L272 262C262 300 240 350 195 372C152 384 128 350 124 300C120 240 126 140 134 54L95 56C60 64 32 90 12 125Z" fill="#00b050" transform="translate(434.10,414.30) scale(0.05119,0.05013)"/>
<text transform="translate(454.67,432.52) scale(1.0037,1)" font-size="30.50" fill="#00b050">~</text>
<text transform="translate(479.90,432.10) scale(0.9677,1)" font-size="31.00" fill="#00b050">2.4</text>
<text transform="translate(530.36,432.10) scale(1.0009,1)" font-size="30.50" fill="#00b050">ns</text>
<path d="M0 115C15 70 35 22 80 10L295 8L295 52L180 52C172 120 166 200 170 260C173 288 192 296 212 286C232 276 248 262 262 250L272 262C262 300 240 350 195 372C152 384 128 350 124 300C120 240 126 140 134 54L95 56C60 64 32 90 12 125Z" fill="#ff0000" transform="translate(518.80,210.80) scale(0.05254,0.05040)"/>
<text transform="translate(539.94,229.22) scale(1.0238,1)" font-size="30.50" fill="#ff0000">~</text>
<text transform="translate(566.05,228.50) scale(1.0089,1)" font-size="31.00" fill="#ff0000">5</text>
<text transform="translate(590.86,228.50) scale(1.0043,1)" font-size="30.50" fill="#ff0000">ns</text>
<line x1="815.2" y1="62.0" x2="860.0" y2="62.0" stroke="#7d7dff" stroke-width="1" stroke-dasharray="1.5 1.6"/>
<line x1="815.2" y1="180.5" x2="1058.0" y2="180.5" stroke="#7d7dff" stroke-width="1" stroke-dasharray="1.5 1.6"/>
<line x1="815.2" y1="334.0" x2="1216.5" y2="334.0" stroke="#7d7dff" stroke-width="1" stroke-dasharray="1.5 1.6"/>
<line x1="815.2" y1="407.6" x2="1308.6" y2="407.6" stroke="#7d7dff" stroke-width="1" stroke-dasharray="1.5 1.6"/>
<rect x="860.0" y="54.0" width="16" height="16" fill="#0000ff"/>
<rect x="1058.0" y="172.5" width="16" height="16" fill="#0000ff"/>
<rect x="1216.5" y="326.0" width="16" height="16" fill="#0000ff"/>
<rect x="1308.6" y="399.6" width="16" height="16" fill="#0000ff"/>
<line x1="867.5" y1="58.9" x2="1317.5" y2="385.8" stroke="#12be1e" stroke-width="2.2"/>
<g stroke="#000" stroke-width="1.7" fill="none">
<line x1="815.2" y1="15.35" x2="815.2" y2="461.4"/>
<line x1="815.2" y1="16.2" x2="1342.9" y2="16.2"/>
<line x1="1342.9" y1="15.35" x2="1342.9" y2="461.4"/>
</g>
<line x1="814.35" y1="461.4" x2="1343.75" y2="461.4" stroke="#0000ff" stroke-width="1.7"/>
<g stroke="#000" stroke-width="1.3"><line x1="810.0" y1="461.13" x2="815.2" y2="461.13"/><line x1="810.0" y1="444.80" x2="815.2" y2="444.80"/><line x1="810.0" y1="430.65" x2="815.2" y2="430.65"/><line x1="810.0" y1="418.16" x2="815.2" y2="418.16"/><line x1="804.7" y1="407.00" x2="815.2" y2="407.00"/><line x1="810.0" y1="333.55" x2="815.2" y2="333.55"/><line x1="810.0" y1="290.58" x2="815.2" y2="290.58"/><line x1="810.0" y1="260.10" x2="815.2" y2="260.10"/><line x1="810.0" y1="236.45" x2="815.2" y2="236.45"/><line x1="810.0" y1="217.13" x2="815.2" y2="217.13"/><line x1="810.0" y1="200.80" x2="815.2" y2="200.80"/><line x1="810.0" y1="186.65" x2="815.2" y2="186.65"/><line x1="810.0" y1="174.16" x2="815.2" y2="174.16"/><line x1="804.7" y1="163.00" x2="815.2" y2="163.00"/><line x1="810.0" y1="89.55" x2="815.2" y2="89.55"/><line x1="810.0" y1="46.58" x2="815.2" y2="46.58"/><line x1="810.0" y1="16.10" x2="815.2" y2="16.10"/></g>
<g stroke="#0000ff" stroke-width="1.3"><line x1="815.20" y1="461.4" x2="815.20" y2="471.9"/><line x1="881.15" y1="461.4" x2="881.15" y2="466.59999999999997"/><line x1="947.10" y1="461.4" x2="947.10" y2="471.9"/><line x1="1013.05" y1="461.4" x2="1013.05" y2="466.59999999999997"/><line x1="1079.00" y1="461.4" x2="1079.00" y2="471.9"/><line x1="1144.95" y1="461.4" x2="1144.95" y2="466.59999999999997"/><line x1="1210.90" y1="461.4" x2="1210.90" y2="471.9"/><line x1="1276.85" y1="461.4" x2="1276.85" y2="466.59999999999997"/><line x1="1342.80" y1="461.4" x2="1342.80" y2="471.9"/></g>
<text transform="translate(806.82,507.10) scale(0.9507,1)" font-size="31.10" fill="#0000ff">2</text>
<text transform="translate(939.13,507.10) scale(0.9373,1)" font-size="31.10" fill="#0000ff">3</text>
<text transform="translate(1071.75,507.10) scale(0.8764,1)" font-size="31.10" fill="#0000ff">4</text>
<text transform="translate(1202.94,507.10) scale(0.9304,1)" font-size="31.10" fill="#0000ff">5</text>
<text transform="translate(1334.61,507.10) scale(0.9576,1)" font-size="31.10" fill="#0000ff">6</text>
<text transform="translate(986.79,540.80) scale(0.9747,1)" font-size="30.90" fill="#0000ff">Polarity Index</text>
<path d="M129 0L223 0L223 703L165 703C158 660 130 615 60 598L0 594L0 545L60 548C95 552 115 560 129 572Z" fill="#000" transform="translate(783.80,173.50) scale(0.03274,-0.03101)"/>
<text transform="translate(757.40,418.10) scale(0.9646,1)" font-size="31.10" fill="#000">0</text>
<text transform="translate(773.11,418.10) scale(0.9968,1)" font-size="31.10" fill="#000">.</text>
<path d="M129 0L223 0L223 703L165 703C158 660 130 615 60 598L0 594L0 545L60 548C95 552 115 560 129 572Z" fill="#000" transform="translate(784.20,417.90) scale(0.03004,-0.03087)"/>
<text transform="translate(743.80,396.70) rotate(-90) scale(0.9680,1)" font-size="31.00" fill="#000">Average PL lifetime (ns)</text>
<text transform="translate(715.39,29.90) scale(1.0426,1)" font-size="39.90" fill="#000" font-weight="bold">b</text>
<text transform="translate(878.55,47.20) scale(0.9853,1)" font-size="28.00" fill="#000">Toluene</text>
<text transform="translate(1083.49,187.80) scale(0.9890,1)" font-size="28.20" fill="#000">Isopropanol</text>
<text transform="translate(1136.30,362.70) scale(0.9836,1)" font-size="28.00" fill="#000">Acetone</text>
<text transform="translate(1185.60,444.10) scale(0.9799,1)" font-size="28.20" fill="#000">Acetonitrile</text>
</svg></body></html>
